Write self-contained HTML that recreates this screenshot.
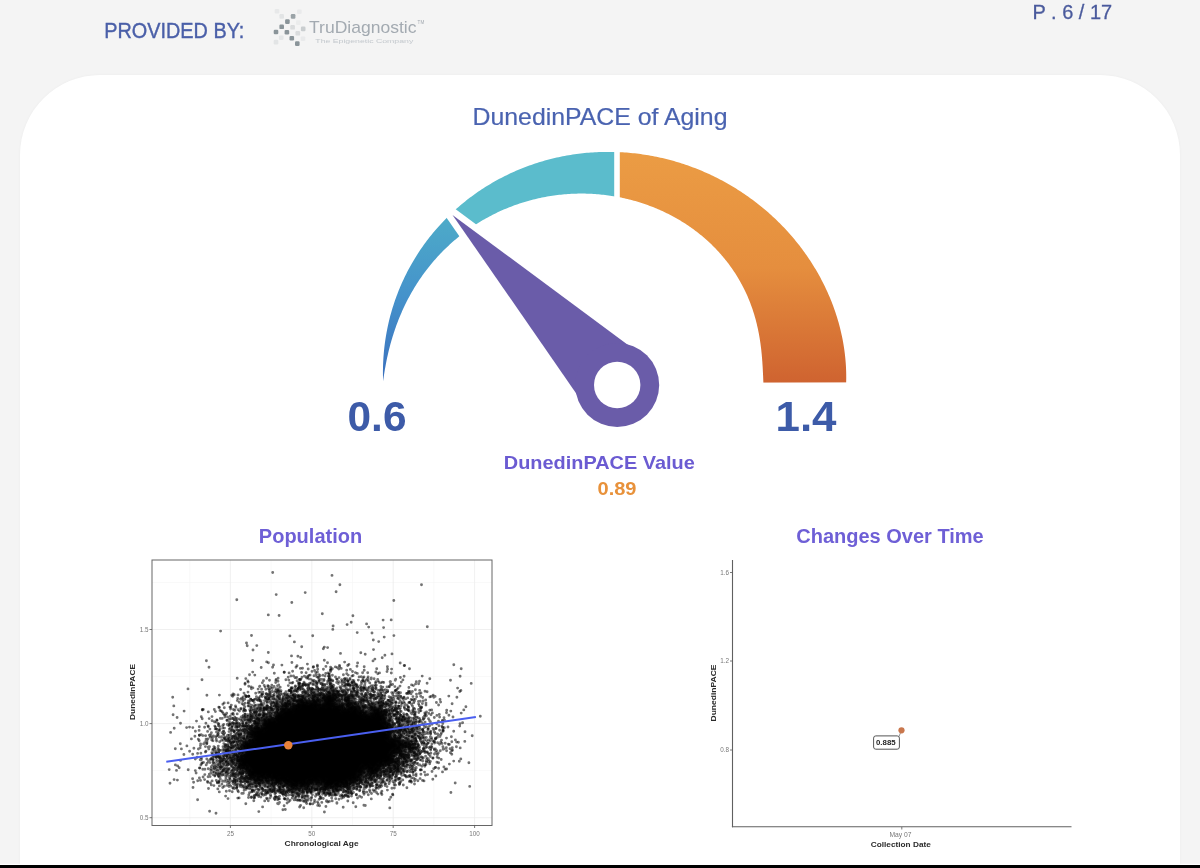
<!DOCTYPE html>
<html><head><meta charset="utf-8"><style>
html,body{margin:0;padding:0;}
body{width:1200px;height:868px;overflow:hidden;background:#f4f4f4;position:relative;font-family:"Liberation Sans",sans-serif;}
.card{position:absolute;left:20px;top:75px;width:1160px;height:900px;background:#fff;border-radius:80px 80px 0 0;box-shadow:0 0 3px rgba(0,0,0,0.04);}
.bar{position:absolute;left:0;top:865px;width:1200px;height:3px;background:#000;box-shadow:0 -1.2px 0 #fff;}
svg{position:absolute;left:0;top:0;filter:blur(0.45px);}
svg text{font-family:"Liberation Sans",sans-serif;}
</style></head><body>
<div class="card"></div>
<svg width="1200" height="868" viewBox="0 0 1200 868">
<defs><filter id="lb" x="-20%" y="-20%" width="140%" height="140%"><feGaussianBlur stdDeviation="0.55"/></filter><filter id="sb" x="-5%" y="-5%" width="110%" height="110%"><feGaussianBlur stdDeviation="0.5"/></filter><filter id="cb" x="-10%" y="-10%" width="120%" height="120%"><feGaussianBlur stdDeviation="2.5"/></filter></defs>
<text x="104.3" y="37.6" font-size="21.3" fill="#4a5fa8" stroke="#4a5fa8" stroke-width="0.4" textLength="140" lengthAdjust="spacingAndGlyphs">PROVIDED BY:</text>
<text x="1032.6" y="18.5" font-size="20.5" fill="#4a5a9c" stroke="#4a5a9c" stroke-width="0.3" textLength="79.5" lengthAdjust="spacingAndGlyphs">P . 6 / 17</text>
<g filter="url(#lb)"><rect x="290.8" y="14.1" width="4.6" height="4.6" rx="1.2" fill="#8a9499" fill-opacity="0.85"/><rect x="285.1" y="19.3" width="4.6" height="4.6" rx="1.2" fill="#8a9499" fill-opacity="1"/><rect x="279.4" y="24.5" width="4.6" height="4.6" rx="1.2" fill="#8a9499" fill-opacity="1"/><rect x="273.7" y="29.7" width="4.6" height="4.6" rx="1.2" fill="#8a9499" fill-opacity="1"/><rect x="284.6" y="29.9" width="4.6" height="4.6" rx="1.2" fill="#8a9499" fill-opacity="1"/><rect x="289.5" y="35.9" width="4.6" height="4.6" rx="1.2" fill="#8a9499" fill-opacity="1"/><rect x="295.0" y="41.3" width="4.6" height="4.6" rx="1.2" fill="#8a9499" fill-opacity="1"/><rect x="300.9" y="26.6" width="4.6" height="4.6" rx="1.2" fill="#8a9499" fill-opacity="0.4"/><rect x="295.5" y="31.0" width="4.6" height="4.6" rx="1.2" fill="#8a9499" fill-opacity="0.25"/><rect x="290.3" y="25.0" width="4.6" height="4.6" rx="1.2" fill="#8a9499" fill-opacity="0.25"/><rect x="279.4" y="14.1" width="4.6" height="4.6" rx="1.2" fill="#8a9499" fill-opacity="0.16"/><rect x="274.7" y="8.9" width="4.6" height="4.6" rx="1.2" fill="#8a9499" fill-opacity="0.12"/><rect x="297.0" y="9.4" width="4.6" height="4.6" rx="1.2" fill="#8a9499" fill-opacity="0.1"/><rect x="278.9" y="35.4" width="4.6" height="4.6" rx="1.2" fill="#8a9499" fill-opacity="0.14"/><rect x="273.7" y="39.8" width="4.6" height="4.6" rx="1.2" fill="#8a9499" fill-opacity="0.16"/><rect x="300.7" y="36.4" width="4.6" height="4.6" rx="1.2" fill="#8a9499" fill-opacity="0.1"/><rect x="296.0" y="20.3" width="4.6" height="4.6" rx="1.2" fill="#8a9499" fill-opacity="0.08"/></g>
<text x="309" y="33.2" font-size="17" fill="#a3aab1" textLength="107.5" lengthAdjust="spacingAndGlyphs">TruDiagnostic</text>
<text x="417.6" y="23.5" font-size="4.6" fill="#a3aab1">TM</text>
<text x="315.3" y="43.3" font-size="6.2" fill="#c3c8cd" textLength="98" lengthAdjust="spacingAndGlyphs">The Epigenetic Company</text>
<text x="472.5" y="124.5" font-size="24" fill="#4a63b0" stroke="#4a63b0" stroke-width="0.2" textLength="255" lengthAdjust="spacingAndGlyphs">DunedinPACE of Aging</text>

<defs>
 <linearGradient id="gB" x1="0" y1="383" x2="0" y2="210" gradientUnits="userSpaceOnUse">
  <stop offset="0" stop-color="#3a6fbd"/><stop offset="0.5" stop-color="#4592cb"/><stop offset="1" stop-color="#4eadc8"/>
 </linearGradient>
 <linearGradient id="gO" x1="0" y1="152" x2="0" y2="383" gradientUnits="userSpaceOnUse">
  <stop offset="0" stop-color="#eb9c44"/><stop offset="0.5" stop-color="#e58e3e"/><stop offset="1" stop-color="#cf6330"/>
 </linearGradient>
 <clipPath id="cO"><rect x="619.8" y="100" width="300" height="282.7"/></clipPath>
 <clipPath id="cT"><rect x="300" y="100" width="314.2" height="300"/></clipPath>
</defs>
<path d="M383.21 383.30 L383.12 381.28 L383.05 379.26 L383.00 377.23 L382.96 375.21 L382.94 373.18 L382.94 371.15 L382.96 369.12 L383.00 367.10 L383.06 365.07 L383.13 363.04 L383.23 361.01 L383.34 358.98 L383.47 356.95 L383.62 354.92 L383.79 352.89 L383.98 350.87 L384.18 348.84 L384.41 346.82 L384.65 344.80 L384.92 342.78 L385.20 340.76 L385.50 338.74 L385.82 336.73 L386.16 334.71 L386.51 332.70 L386.89 330.70 L387.28 328.69 L387.70 326.69 L388.13 324.70 L388.58 322.70 L389.05 320.71 L389.54 318.73 L390.05 316.74 L390.57 314.77 L391.12 312.79 L391.68 310.83 L392.27 308.86 L392.87 306.91 L393.49 304.95 L394.13 303.01 L394.78 301.06 L395.46 299.13 L396.15 297.20 L396.86 295.27 L397.59 293.36 L398.34 291.45 L399.11 289.54 L399.89 287.65 L400.69 285.76 L401.51 283.88 L402.35 282.00 L403.21 280.14 L404.08 278.28 L404.98 276.43 L405.88 274.58 L406.81 272.75 L407.76 270.92 L408.72 269.11 L409.70 267.30 L410.69 265.50 L411.70 263.71 L412.73 261.93 L413.78 260.16 L414.84 258.40 L415.92 256.65 L417.02 254.91 L418.14 253.18 L419.26 251.46 L420.41 249.75 L421.57 248.06 L422.75 246.37 L423.94 244.69 L425.15 243.03 L426.38 241.38 L427.62 239.74 L428.88 238.11 L430.15 236.49 L431.44 234.88 L432.74 233.29 L434.05 231.71 L435.39 230.14 L436.73 228.58 L438.09 227.04 L439.47 225.51 L440.86 223.99 L442.26 222.49 L443.68 221.00 L445.11 219.52 L446.55 218.05 L448.01 216.60 L449.49 215.17 L450.97 213.75 L452.47 212.34 L453.98 210.94 L455.50 209.56 L457.04 208.20 L458.59 206.84 L460.15 205.51 L461.72 204.19 L463.31 202.88 L464.91 201.59 L466.52 200.31 L468.14 199.05 L469.77 197.80 L471.41 196.57 L473.07 195.35 L474.73 194.15 L476.41 192.97 L478.10 191.80 L479.79 190.64 L481.50 189.51 L483.22 188.38 L484.95 187.28 L486.68 186.19 L488.43 185.11 L490.19 184.06 L491.95 183.01 L493.73 181.99 L495.51 180.98 L497.30 179.99 L499.10 179.01 L500.91 178.06 L502.73 177.11 L504.56 176.19 L506.39 175.28 L508.23 174.39 L510.08 173.51 L511.94 172.65 L513.80 171.81 L515.67 170.99 L517.55 170.18 L519.43 169.39 L521.33 168.62 L523.22 167.87 L525.13 167.13 L527.04 166.41 L528.95 165.70 L530.87 165.02 L532.80 164.35 L534.73 163.70 L536.67 163.06 L538.61 162.44 L540.56 161.85 L542.51 161.26 L544.47 160.70 L546.43 160.15 L548.40 159.62 L550.37 159.11 L552.34 158.62 L554.32 158.14 L556.30 157.68 L558.28 157.24 L560.27 156.81 L562.26 156.41 L564.25 156.02 L566.25 155.65 L568.25 155.29 L570.25 154.96 L572.26 154.64 L574.26 154.34 L576.27 154.05 L578.28 153.79 L580.29 153.54 L582.30 153.31 L584.32 153.09 L586.33 152.89 L588.35 152.72 L590.37 152.55 L592.39 152.41 L594.40 152.28 L596.42 152.17 L598.44 152.08 L600.46 152.01 L602.48 151.95 L604.50 151.91 L606.52 151.89 L608.54 151.88 L610.56 151.89 L612.58 151.92 L614.60 151.97 L616.61 152.03 L618.63 152.11 L620.64 152.21 L622.65 152.32 L624.66 152.45 L626.67 152.60 L628.68 152.77 L630.69 152.95 L632.69 153.15 L634.69 153.36 L636.69 153.59 L638.69 153.84 L640.68 154.11 L642.67 154.39 L644.66 154.69 L646.64 155.00 L648.62 155.33 L650.60 155.68 L652.58 156.05 L654.55 156.43 L656.52 156.83 L658.48 157.24 L660.44 157.67 L662.40 158.11 L664.35 158.58 L666.30 159.05 L668.24 159.55 L670.18 160.06 L672.12 160.58 L674.05 161.12 L675.97 161.68 L677.89 162.26 L679.81 162.84 L681.72 163.45 L683.62 164.07 L685.52 164.70 L687.41 165.36 L689.30 166.02 L691.18 166.70 L693.06 167.40 L694.93 168.11 L696.79 168.84 L698.65 169.59 L700.50 170.34 L702.35 171.12 L704.19 171.90 L706.02 172.71 L707.84 173.53 L709.66 174.36 L711.47 175.21 L713.28 176.07 L715.07 176.95 L716.86 177.84 L718.64 178.74 L720.42 179.66 L722.18 180.60 L723.94 181.55 L725.69 182.51 L727.44 183.49 L729.17 184.48 L730.90 185.49 L732.62 186.51 L734.33 187.54 L736.03 188.59 L737.72 189.65 L739.41 190.73 L741.08 191.81 L742.75 192.92 L744.41 194.03 L746.06 195.16 L747.69 196.31 L749.32 197.46 L750.95 198.64 L752.56 199.82 L754.16 201.02 L755.75 202.23 L757.33 203.45 L758.90 204.68 L760.46 205.93 L762.01 207.20 L763.56 208.47 L765.09 209.76 L766.61 211.06 L768.11 212.37 L769.61 213.70 L771.10 215.03 L772.58 216.38 L774.04 217.75 L775.50 219.12 L776.94 220.51 L778.37 221.91 L779.79 223.32 L781.20 224.74 L782.60 226.18 L783.99 227.62 L785.36 229.08 L786.72 230.55 L788.07 232.03 L789.41 233.53 L790.73 235.03 L792.04 236.55 L793.34 238.07 L794.63 239.61 L795.90 241.16 L797.16 242.72 L798.41 244.29 L799.65 245.87 L800.87 247.46 L802.08 249.07 L803.27 250.68 L804.45 252.31 L805.62 253.94 L806.77 255.58 L807.91 257.24 L809.04 258.90 L810.15 260.58 L811.24 262.26 L812.32 263.96 L813.39 265.66 L814.44 267.38 L815.48 269.10 L816.51 270.83 L817.51 272.57 L818.51 274.32 L819.48 276.08 L820.45 277.85 L821.39 279.63 L822.32 281.41 L823.24 283.21 L824.14 285.01 L825.02 286.82 L825.89 288.64 L826.74 290.47 L827.57 292.30 L828.39 294.15 L829.19 296.00 L829.98 297.85 L830.74 299.72 L831.49 301.59 L832.23 303.47 L832.94 305.36 L833.64 307.25 L834.32 309.15 L834.99 311.06 L835.63 312.97 L836.26 314.89 L836.87 316.81 L837.46 318.74 L838.04 320.68 L838.59 322.62 L839.13 324.57 L839.65 326.52 L840.15 328.48 L840.63 330.44 L841.09 332.41 L841.53 334.38 L841.96 336.35 L842.36 338.33 L842.75 340.31 L843.11 342.30 L843.46 344.29 L843.78 346.29 L844.09 348.28 L844.38 350.28 L844.64 352.29 L844.89 354.29 L845.11 356.30 L845.32 358.31 L845.50 360.32 L845.67 362.33 L845.81 364.34 L845.94 366.36 L846.04 368.38 L846.12 370.39 L846.18 372.41 L846.22 374.43 L846.23 376.44 L846.23 378.46 L846.20 380.48 L846.16 382.49 L763.39 382.78 L763.33 381.49 L763.28 380.20 L763.23 378.91 L763.17 377.61 L763.12 376.32 L763.06 375.03 L763.00 373.74 L762.94 372.45 L762.87 371.16 L762.81 369.86 L762.74 368.57 L762.67 367.28 L762.59 365.98 L762.51 364.69 L762.43 363.39 L762.34 362.09 L762.24 360.79 L762.15 359.49 L762.04 358.19 L761.93 356.89 L761.82 355.59 L761.70 354.29 L761.57 352.98 L761.44 351.67 L761.30 350.37 L761.15 349.06 L761.00 347.75 L760.83 346.44 L760.67 345.13 L760.49 343.82 L760.30 342.50 L760.11 341.19 L759.91 339.88 L759.70 338.56 L759.48 337.24 L759.26 335.93 L759.02 334.61 L758.78 333.29 L758.52 331.97 L758.26 330.65 L757.98 329.34 L757.70 328.02 L757.41 326.70 L757.10 325.38 L756.79 324.06 L756.46 322.74 L756.13 321.43 L755.78 320.11 L755.43 318.79 L755.06 317.48 L754.68 316.16 L754.29 314.85 L753.89 313.53 L753.48 312.22 L753.06 310.91 L752.63 309.60 L752.18 308.29 L751.72 306.99 L751.26 305.68 L750.78 304.38 L750.28 303.08 L749.78 301.78 L749.27 300.49 L748.74 299.20 L748.20 297.91 L747.65 296.62 L747.09 295.33 L746.51 294.05 L745.92 292.77 L745.33 291.50 L744.72 290.23 L744.09 288.96 L743.46 287.69 L742.81 286.43 L742.15 285.17 L741.48 283.92 L740.80 282.67 L740.10 281.43 L739.39 280.19 L738.67 278.95 L737.94 277.72 L737.20 276.50 L736.44 275.27 L735.67 274.06 L734.89 272.85 L734.10 271.64 L733.30 270.44 L732.48 269.25 L731.66 268.06 L730.82 266.88 L729.97 265.70 L729.10 264.53 L728.23 263.36 L727.34 262.20 L726.44 261.05 L725.53 259.91 L724.61 258.77 L723.68 257.64 L722.74 256.51 L721.78 255.39 L720.81 254.28 L719.83 253.18 L718.84 252.08 L717.84 250.99 L716.83 249.91 L715.81 248.83 L714.78 247.77 L713.73 246.71 L712.68 245.66 L711.61 244.61 L710.53 243.58 L709.44 242.55 L708.35 241.53 L707.24 240.52 L706.12 239.52 L704.99 238.53 L703.85 237.54 L702.70 236.57 L701.54 235.60 L700.37 234.64 L699.19 233.69 L698.00 232.75 L696.80 231.82 L695.59 230.90 L694.37 229.99 L693.14 229.09 L691.90 228.19 L690.65 227.31 L689.39 226.43 L688.12 225.57 L686.85 224.72 L685.56 223.87 L684.27 223.04 L682.96 222.21 L681.65 221.40 L680.33 220.59 L679.00 219.80 L677.66 219.02 L676.31 218.24 L674.95 217.48 L673.59 216.73 L672.22 215.99 L670.83 215.25 L669.44 214.53 L668.05 213.83 L666.64 213.13 L665.23 212.44 L663.81 211.76 L662.38 211.10 L660.94 210.44 L659.49 209.80 L658.04 209.17 L656.58 208.55 L655.12 207.94 L653.64 207.35 L652.16 206.76 L650.67 206.19 L649.18 205.63 L647.67 205.08 L646.16 204.54 L644.65 204.01 L643.12 203.50 L641.59 203.00 L640.06 202.51 L638.52 202.03 L636.97 201.56 L635.41 201.11 L633.85 200.67 L632.28 200.24 L630.71 199.83 L629.13 199.43 L627.55 199.04 L625.96 198.66 L624.36 198.30 L622.76 197.94 L621.15 197.61 L619.54 197.28 L617.92 196.97 L616.30 196.67 L614.67 196.39 L613.04 196.11 L611.40 195.86 L609.76 195.61 L608.12 195.38 L606.47 195.16 L604.81 194.96 L603.15 194.77 L601.49 194.59 L599.82 194.43 L598.15 194.28 L596.47 194.15 L594.79 194.03 L593.11 193.92 L591.43 193.83 L589.74 193.75 L588.04 193.69 L586.35 193.64 L584.65 193.60 L582.95 193.58 L581.24 193.58 L579.54 193.59 L577.83 193.61 L576.12 193.65 L574.40 193.71 L572.69 193.78 L570.97 193.86 L569.25 193.96 L567.53 194.08 L565.80 194.21 L564.08 194.35 L562.35 194.51 L560.62 194.69 L558.90 194.88 L557.17 195.09 L555.44 195.31 L553.71 195.55 L551.98 195.81 L550.24 196.08 L548.51 196.36 L546.78 196.66 L545.05 196.98 L543.32 197.31 L541.59 197.66 L539.86 198.03 L538.13 198.41 L536.41 198.81 L534.68 199.22 L532.95 199.66 L531.23 200.10 L529.51 200.57 L527.79 201.04 L526.07 201.54 L524.35 202.05 L522.64 202.58 L520.93 203.13 L519.22 203.69 L517.52 204.27 L515.81 204.86 L514.11 205.47 L512.42 206.10 L510.73 206.75 L509.04 207.41 L507.35 208.08 L505.67 208.78 L504.00 209.49 L502.33 210.22 L500.66 210.96 L499.00 211.72 L497.34 212.50 L495.69 213.29 L494.04 214.10 L492.40 214.93 L490.77 215.78 L489.14 216.64 L487.52 217.51 L485.90 218.41 L484.29 219.32 L482.69 220.24 L481.10 221.19 L479.51 222.15 L477.93 223.12 L476.36 224.11 L474.79 225.12 L473.23 226.15 L471.69 227.19 L470.15 228.25 L468.61 229.32 L467.09 230.41 L465.58 231.51 L464.07 232.63 L462.58 233.77 L461.09 234.92 L459.61 236.09 L458.15 237.28 L456.69 238.48 L455.24 239.69 L453.81 240.92 L452.38 242.17 L450.97 243.43 L449.57 244.70 L448.17 245.99 L446.79 247.30 L445.42 248.62 L444.07 249.95 L442.72 251.30 L441.39 252.67 L440.07 254.05 L438.76 255.44 L437.46 256.85 L436.18 258.27 L434.90 259.70 L433.65 261.15 L432.40 262.61 L431.17 264.09 L429.95 265.58 L428.75 267.08 L427.56 268.59 L426.38 270.12 L425.22 271.66 L424.07 273.21 L422.93 274.78 L421.81 276.36 L420.70 277.94 L419.61 279.55 L418.54 281.16 L417.47 282.79 L416.43 284.42 L415.39 286.07 L414.38 287.73 L413.37 289.40 L412.39 291.08 L411.41 292.77 L410.46 294.47 L409.52 296.19 L408.59 297.91 L407.68 299.64 L406.78 301.38 L405.91 303.13 L405.04 304.90 L404.19 306.67 L403.36 308.45 L402.55 310.23 L401.75 312.03 L400.96 313.84 L400.19 315.65 L399.44 317.47 L398.70 319.30 L397.98 321.14 L397.27 322.99 L396.59 324.84 L395.91 326.71 L395.25 328.57 L394.61 330.45 L393.98 332.33 L393.37 334.22 L392.77 336.12 L392.19 338.02 L391.63 339.93 L391.08 341.85 L390.54 343.77 L390.02 345.69 L389.52 347.63 L389.03 349.57 L388.55 351.51 L388.09 353.46 L387.65 355.42 L387.22 357.38 L386.80 359.34 L386.40 361.31 L386.01 363.29 L385.64 365.27 L385.28 367.25 L384.93 369.24 L384.60 371.24 L384.28 373.24 L383.97 375.24 L383.68 377.25 L383.40 379.26 L383.13 381.28 L383.21 383.30 Z" fill="url(#gO)" clip-path="url(#cO)"/>
<g clip-path="url(#cT)">
 <path d="M451.19 213.54 L452.69 212.13 L454.20 210.74 L455.73 209.36 L457.27 208.00 L458.82 206.64 L460.39 205.31 L461.96 203.99 L463.55 202.68 L465.15 201.39 L466.76 200.12 L468.39 198.86 L470.02 197.61 L471.67 196.38 L473.33 195.16 L474.99 193.97 L476.67 192.78 L478.36 191.61 L480.06 190.46 L481.77 189.33 L483.49 188.21 L485.22 187.10 L486.96 186.01 L488.71 184.94 L490.47 183.89 L492.24 182.85 L494.02 181.82 L495.81 180.82 L497.60 179.83 L499.40 178.85 L501.22 177.90 L503.04 176.96 L504.86 176.03 L506.70 175.13 L508.55 174.24 L510.40 173.37 L512.26 172.51 L514.12 171.67 L516.00 170.85 L517.88 170.05 L519.76 169.26 L521.66 168.49 L523.56 167.73 L525.46 167.00 L527.37 166.28 L529.29 165.58 L531.22 164.90 L533.15 164.23 L535.08 163.58 L537.02 162.95 L538.97 162.33 L540.92 161.74 L542.87 161.16 L544.83 160.60 L546.79 160.05 L548.76 159.53 L550.73 159.02 L552.71 158.53 L554.69 158.05 L556.67 157.60 L558.66 157.16 L560.65 156.74 L562.64 156.33 L564.63 155.95 L566.63 155.58 L568.63 155.23 L570.64 154.89 L572.64 154.58 L574.65 154.28 L576.66 154.00 L578.67 153.74 L580.68 153.49 L582.70 153.26 L584.72 153.05 L586.73 152.86 L588.75 152.68 L590.77 152.52 L592.79 152.38 L594.81 152.26 L596.83 152.15 L598.85 152.07 L600.87 151.99 L602.90 151.94 L604.92 151.90 L606.94 151.88 L608.96 151.88 L610.98 151.90 L613.00 151.93 L615.02 151.98 L617.03 152.05 L619.05 152.13 L621.06 152.23 L623.08 152.35 L625.09 152.48 L627.10 152.63 L629.11 152.80 L631.11 152.99 L633.12 153.19 L635.12 153.41 L637.12 153.65 L639.12 153.90 L641.11 154.17 L643.10 154.45 L645.09 154.76 L647.08 155.07 L649.06 155.41 L651.04 155.76 L653.02 156.13 L654.99 156.51 L646.50 204.66 L644.98 204.13 L643.46 203.61 L641.93 203.11 L640.40 202.61 L638.85 202.13 L637.31 201.66 L635.75 201.21 L634.19 200.77 L632.62 200.34 L631.05 199.92 L629.47 199.51 L627.89 199.12 L626.30 198.74 L624.70 198.37 L623.10 198.02 L621.49 197.68 L619.88 197.35 L618.26 197.03 L616.64 196.73 L615.01 196.44 L613.38 196.17 L611.74 195.91 L610.10 195.66 L608.45 195.43 L606.80 195.21 L605.15 195.00 L603.49 194.80 L601.83 194.63 L600.16 194.46 L598.49 194.31 L596.81 194.17 L595.13 194.05 L593.45 193.94 L591.76 193.84 L590.07 193.76 L588.38 193.70 L586.68 193.65 L584.98 193.61 L583.28 193.59 L581.57 193.58 L579.87 193.59 L578.16 193.61 L576.44 193.65 L574.73 193.70 L573.01 193.76 L571.29 193.85 L569.57 193.94 L567.85 194.05 L566.13 194.18 L564.40 194.32 L562.67 194.48 L560.94 194.66 L559.21 194.85 L557.48 195.05 L555.75 195.27 L554.02 195.51 L552.29 195.76 L550.56 196.03 L548.83 196.31 L547.09 196.61 L545.36 196.92 L543.63 197.25 L541.90 197.60 L540.17 197.96 L538.44 198.34 L536.71 198.74 L534.98 199.15 L533.25 199.58 L531.53 200.02 L529.81 200.48 L528.08 200.96 L526.36 201.45 L524.65 201.96 L522.93 202.49 L521.22 203.03 L519.51 203.59 L517.80 204.17 L516.10 204.76 L514.40 205.37 L512.70 206.00 L511.00 206.64 L509.31 207.30 L507.63 207.97 L505.95 208.66 L504.27 209.37 L502.60 210.10 L500.93 210.84 L499.26 211.60 L497.60 212.37 L495.95 213.17 L494.30 213.98 L492.66 214.80 L491.02 215.64 L489.39 216.50 L487.77 217.38 L486.15 218.27 L484.54 219.18 L482.94 220.10 L481.34 221.04 L479.75 222.00 L478.17 222.97 L476.59 223.97 L475.02 224.97 L473.46 225.99 L471.91 227.03 L470.37 228.09 L468.84 229.16 L467.31 230.25 Z" fill="#5bbccc"/>
 <path d="M383.21 383.30 L383.12 381.30 L383.05 379.29 L383.00 377.29 L382.96 375.28 L382.94 373.27 L382.94 371.26 L382.96 369.25 L383.00 367.24 L383.05 365.23 L383.13 363.22 L383.22 361.21 L383.33 359.20 L383.45 357.19 L383.60 355.18 L383.77 353.17 L383.95 351.16 L384.15 349.15 L384.37 347.15 L384.61 345.14 L384.87 343.14 L385.14 341.14 L385.44 339.14 L385.75 337.14 L386.08 335.15 L386.43 333.15 L386.80 331.16 L387.19 329.18 L387.59 327.20 L388.02 325.21 L388.46 323.24 L388.92 321.27 L389.40 319.30 L389.90 317.33 L390.41 315.37 L390.95 313.41 L391.50 311.46 L392.07 309.51 L392.66 307.57 L393.27 305.64 L393.89 303.70 L394.54 301.78 L395.20 299.86 L395.88 297.94 L396.58 296.03 L397.30 294.13 L398.03 292.24 L398.78 290.35 L399.55 288.46 L400.34 286.59 L401.14 284.72 L401.97 282.86 L402.81 281.01 L403.67 279.16 L404.54 277.32 L405.43 275.49 L406.34 273.67 L407.27 271.86 L408.21 270.05 L409.18 268.26 L410.15 266.47 L411.15 264.69 L412.16 262.92 L413.19 261.16 L414.23 259.41 L415.29 257.67 L416.37 255.94 L417.46 254.22 L418.57 252.51 L419.70 250.81 L420.84 249.12 L422.00 247.44 L423.17 245.78 L424.36 244.12 L425.56 242.47 L426.78 240.84 L428.02 239.22 L429.27 237.60 L430.53 236.01 L431.81 234.42 L433.11 232.84 L434.42 231.28 L435.74 229.73 L437.08 228.19 L438.43 226.66 L439.80 225.15 L441.18 223.65 L442.57 222.16 L443.98 220.68 L445.40 219.22 L446.83 217.77 L448.28 216.34 L449.74 214.92 L451.22 213.51 L467.34 230.23 L465.84 231.32 L464.35 232.43 L462.86 233.55 L461.39 234.69 L459.92 235.85 L458.47 237.02 L457.02 238.20 L455.59 239.40 L454.16 240.62 L452.75 241.85 L451.34 243.09 L449.95 244.35 L448.56 245.63 L447.19 246.92 L445.83 248.22 L444.48 249.54 L443.15 250.87 L441.82 252.22 L440.51 253.58 L439.21 254.96 L437.92 256.35 L436.64 257.75 L435.38 259.17 L434.12 260.60 L432.89 262.04 L431.66 263.50 L430.45 264.97 L429.25 266.45 L428.06 267.95 L426.89 269.45 L425.73 270.97 L424.58 272.51 L423.45 274.05 L422.34 275.61 L421.23 277.18 L420.14 278.76 L419.07 280.36 L418.01 281.96 L416.96 283.58 L415.93 285.20 L414.92 286.84 L413.91 288.49 L412.93 290.15 L411.96 291.82 L411.00 293.50 L410.06 295.19 L409.13 296.90 L408.22 298.61 L407.32 300.33 L406.44 302.06 L405.58 303.80 L404.73 305.55 L403.89 307.30 L403.08 309.07 L402.27 310.85 L401.48 312.63 L400.71 314.42 L399.95 316.22 L399.21 318.03 L398.49 319.85 L397.78 321.67 L397.08 323.51 L396.40 325.34 L395.74 327.19 L395.09 329.04 L394.46 330.91 L393.84 332.77 L393.24 334.65 L392.65 336.53 L392.08 338.41 L391.52 340.31 L390.98 342.21 L390.45 344.11 L389.94 346.02 L389.44 347.94 L388.96 349.86 L388.49 351.79 L388.03 353.72 L387.59 355.66 L387.17 357.61 L386.76 359.55 L386.36 361.51 L385.98 363.47 L385.61 365.43 L385.25 367.40 L384.91 369.37 L384.58 371.35 L384.26 373.33 L383.96 375.31 L383.67 377.30 L383.39 379.30 L383.12 381.30 L383.21 383.30 Z" fill="url(#gB)"/>
</g>
<path d="M424.68 186.17 L716.41 402.60 L631.59 484.73 Z" fill="#fff"/>
<path d="M452.50 214.90 L645.22 357.87 L589.18 412.13 Z" fill="#6a5ca9"/>
<circle cx="617.2" cy="385.0" r="42" fill="#6a5ca9"/>
<circle cx="617.2" cy="385.0" r="23.2" fill="#fff"/>

<text x="347.5" y="431" font-size="42.5" font-weight="bold" fill="#3d5ba8" textLength="59" lengthAdjust="spacingAndGlyphs">0.6</text>
<text x="775.5" y="430.5" font-size="42" font-weight="bold" fill="#3d5ba8" textLength="61" lengthAdjust="spacingAndGlyphs">1.4</text>
<text x="503.8" y="469.2" font-size="19" font-weight="bold" fill="#6b5bd2" textLength="191" lengthAdjust="spacingAndGlyphs">DunedinPACE Value</text>
<text x="597.5" y="494.8" font-size="18.5" font-weight="bold" fill="#e8913a" textLength="39" lengthAdjust="spacingAndGlyphs">0.89</text>
<text x="310.5" y="543" font-size="20" font-weight="bold" fill="#6e5fd6" text-anchor="middle">Population</text>
<text x="890" y="542.5" font-size="20" font-weight="bold" fill="#6e5fd6" text-anchor="middle">Changes Over Time</text>

<g>
 <rect x="152" y="560" width="340" height="265.5" fill="#fff"/>
 <g stroke="#f5f5f5" stroke-width="0.6">
  <line x1="189.7" y1="560" x2="189.7" y2="825.5"/><line x1="271.1" y1="560" x2="271.1" y2="825.5"/><line x1="352.5" y1="560" x2="352.5" y2="825.5"/><line x1="433.9" y1="560" x2="433.9" y2="825.5"/>
  <line x1="152" y1="770.6" x2="492" y2="770.6"/><line x1="152" y1="676.5" x2="492" y2="676.5"/><line x1="152" y1="582.5" x2="492" y2="582.5"/>
 </g>
 <g stroke="#ececec" stroke-width="0.8">
  <line x1="230.4" y1="560" x2="230.4" y2="825.5"/><line x1="311.8" y1="560" x2="311.8" y2="825.5"/><line x1="393.2" y1="560" x2="393.2" y2="825.5"/><line x1="474.6" y1="560" x2="474.6" y2="825.5"/>
  <line x1="152" y1="817.7" x2="492" y2="817.7"/><line x1="152" y1="723.6" x2="492" y2="723.6"/><line x1="152" y1="629.5" x2="492" y2="629.5"/>
 </g>
 <g filter="url(#sb)">
 <path d="M336.0 790.5 L335.0 790.5 L332.0 787.5 L328.0 787.5 L325.0 789.5 L322.0 789.5 L320.0 788.5 L320.0 787.5 L321.0 787.5 L323.5 785.0 L323.0 782.5 L322.0 782.5 L318.0 785.5 L315.0 783.5 L311.0 783.5 L309.0 784.5 L308.5 788.0 L311.5 789.0 L310.0 790.5 L307.0 790.5 L304.0 786.5 L300.0 787.5 L299.0 789.5 L298.0 788.5 L294.0 788.5 L292.0 790.5 L291.0 790.5 L288.5 789.0 L290.5 788.0 L290.5 787.0 L289.0 785.5 L284.0 784.5 L283.5 784.0 L284.5 783.0 L283.0 781.5 L281.5 782.0 L281.0 784.5 L279.0 783.5 L274.0 783.5 L273.0 784.5 L271.0 784.5 L270.5 783.0 L272.0 781.5 L274.0 781.5 L274.0 779.5 L271.0 780.5 L270.5 779.0 L269.0 778.5 L268.5 782.0 L267.0 782.5 L264.5 780.0 L264.5 779.0 L263.0 778.5 L262.5 781.0 L259.0 783.5 L256.0 782.5 L253.0 778.5 L248.0 778.5 L247.0 779.5 L245.0 779.5 L243.5 778.0 L247.0 776.5 L248.5 775.0 L248.5 774.0 L244.0 768.5 L242.0 768.5 L241.0 769.5 L237.5 767.0 L238.5 765.0 L238.5 762.0 L236.5 760.0 L236.5 757.0 L234.5 755.0 L237.0 754.5 L238.0 756.5 L239.0 756.5 L241.0 753.5 L244.0 753.5 L245.5 752.0 L244.0 750.5 L242.0 750.5 L239.5 748.0 L239.5 747.0 L242.5 744.0 L244.0 740.5 L246.0 740.5 L247.0 741.5 L249.0 739.5 L251.0 739.5 L252.5 738.0 L252.0 736.5 L247.5 736.0 L247.5 733.0 L249.5 731.0 L248.5 727.0 L251.0 726.5 L251.5 728.0 L253.0 729.5 L253.5 729.0 L253.5 728.0 L255.5 726.0 L254.5 722.0 L257.5 721.0 L256.5 719.0 L257.0 717.5 L259.5 719.0 L258.5 723.0 L257.5 724.0 L257.5 726.0 L259.0 727.5 L261.0 727.5 L262.5 726.0 L262.5 723.0 L263.5 722.0 L262.5 720.0 L265.0 717.5 L267.0 718.5 L269.0 717.5 L272.0 717.5 L273.0 718.5 L275.5 716.0 L275.5 712.0 L277.0 711.5 L279.0 712.5 L280.5 711.0 L280.5 708.0 L283.5 707.0 L281.5 705.0 L283.0 703.5 L286.0 702.5 L288.0 700.5 L290.5 703.0 L290.5 704.0 L288.0 704.5 L286.5 708.0 L290.0 708.5 L291.5 707.0 L291.5 705.0 L293.0 703.5 L294.0 704.5 L296.0 704.5 L297.5 703.0 L296.5 701.0 L302.0 696.5 L303.5 697.0 L304.0 701.5 L305.0 700.5 L311.0 701.5 L312.5 700.0 L312.5 695.0 L315.0 694.5 L315.5 696.0 L313.5 698.0 L315.0 699.5 L317.0 697.5 L319.0 698.5 L319.5 701.0 L317.5 703.0 L320.0 703.5 L321.0 704.5 L323.5 703.0 L323.5 700.0 L321.5 699.0 L322.0 694.5 L326.0 695.5 L328.0 692.5 L329.0 692.5 L330.0 694.5 L331.0 694.5 L333.0 692.5 L335.0 693.5 L337.0 692.5 L339.5 695.0 L336.5 697.0 L336.5 699.0 L334.5 701.0 L334.5 703.0 L336.0 704.5 L342.0 703.5 L343.5 705.0 L343.5 707.0 L345.0 708.5 L347.0 708.5 L347.5 707.0 L345.5 704.0 L346.5 702.0 L344.5 700.0 L344.5 697.0 L346.0 695.5 L349.0 695.5 L349.5 698.0 L348.5 700.0 L352.5 703.0 L351.5 704.0 L352.0 704.5 L353.0 705.5 L355.0 705.5 L355.5 705.0 L353.5 703.0 L355.0 702.5 L361.0 709.5 L362.0 709.5 L367.0 713.5 L370.0 713.5 L372.5 712.0 L372.5 711.0 L369.5 708.0 L370.0 704.5 L371.0 704.5 L376.0 708.5 L378.0 708.5 L379.5 707.0 L379.5 703.0 L382.0 702.5 L382.5 704.0 L380.5 707.0 L380.5 710.0 L386.5 711.0 L386.5 714.0 L384.5 716.0 L384.5 718.0 L387.0 721.5 L388.0 720.5 L388.5 721.0 L388.5 723.0 L390.5 725.0 L393.5 731.0 L389.5 734.0 L389.5 736.0 L392.0 738.5 L394.0 736.5 L397.0 737.5 L400.0 734.5 L400.5 736.0 L399.5 737.0 L399.5 740.0 L401.0 741.5 L408.0 741.5 L411.0 743.5 L413.0 743.5 L413.5 746.0 L415.0 746.5 L415.5 748.0 L413.0 748.5 L411.0 751.5 L409.5 751.0 L408.5 748.0 L407.0 746.5 L401.5 748.0 L401.5 752.0 L403.0 753.5 L407.5 755.0 L407.5 757.0 L405.5 759.0 L405.0 761.5 L403.5 761.0 L404.5 760.0 L403.0 757.5 L399.5 756.0 L399.0 752.5 L396.0 752.5 L393.5 755.0 L392.5 758.0 L394.0 759.5 L396.0 759.5 L397.0 758.5 L398.5 759.0 L398.5 763.0 L397.5 764.0 L397.5 766.0 L398.5 767.0 L398.0 770.5 L396.0 770.5 L393.5 768.0 L393.5 766.0 L395.5 764.0 L394.0 762.5 L392.0 762.5 L389.5 765.0 L389.5 767.0 L391.5 769.0 L391.0 771.5 L388.5 771.0 L388.5 766.0 L387.0 764.5 L386.0 764.5 L383.0 766.5 L381.0 766.5 L380.5 770.0 L378.0 770.5 L376.5 772.0 L376.5 773.0 L378.5 775.0 L378.0 775.5 L376.0 774.5 L373.0 774.5 L372.0 773.5 L371.5 778.0 L369.0 778.5 L368.5 776.0 L367.5 775.0 L367.5 770.0 L366.0 768.5 L365.0 768.5 L363.5 770.0 L364.5 772.0 L360.5 776.0 L361.5 780.0 L360.0 781.5 L357.0 780.5 L355.0 782.5 L350.0 783.5 L348.0 788.5 L346.0 786.5 L338.0 786.5 L337.5 789.0 L336.0 790.5Z" fill="#000" filter="url(#cb)"/>
 <path d="M251.6 797.0h0M458.4 742.2h0M263.1 693.7h0M423.2 717.5h0M438.9 725.8h0M392.6 706.7h0M374.0 717.9h0M289.1 789.8h0M445.2 743.3h0M173.1 714.7h0M443.2 731.2h0M241.3 733.8h0M177.4 780.1h0M429.8 678.7h0M200.5 745.4h0M201.2 734.7h0M406.4 762.0h0M204.7 742.6h0M408.7 693.6h0M224.9 759.5h0M279.0 787.6h0M407.5 754.3h0M429.9 696.9h0M202.4 710.1h0M192.7 754.2h0M405.0 741.8h0M248.8 728.4h0M461.2 668.8h0M446.6 769.0h0M284.3 672.2h0M391.0 718.5h0M288.8 680.1h0M349.0 786.2h0M429.6 720.7h0M246.2 723.6h0M219.3 791.9h0M421.6 707.6h0M206.9 695.3h0M385.1 769.9h0M174.1 779.6h0M197.6 799.8h0M460.1 676.2h0M175.4 764.9h0M405.2 729.8h0M453.7 731.2h0M450.8 711.1h0M181.4 748.9h0M460.8 758.9h0M170.0 783.2h0M243.2 729.6h0M382.5 721.8h0M236.9 720.3h0M176.5 770.4h0M365.4 717.9h0M468.9 762.7h0M306.1 692.7h0M450.1 748.7h0M426.0 703.1h0M199.5 767.9h0M308.7 788.5h0M320.4 781.9h0M389.1 716.7h0M338.2 711.0h0M409.1 754.9h0M389.9 725.3h0M435.4 748.9h0M419.0 751.2h0M240.6 757.9h0M270.1 711.9h0M297.1 793.4h0M319.9 781.9h0M233.4 756.5h0M361.3 767.5h0M227.2 751.2h0M328.4 676.1h0M241.2 772.8h0M268.4 719.9h0M426.5 762.2h0M276.1 699.9h0M349.0 792.4h0M272.7 776.4h0M333.3 690.8h0M428.6 739.9h0M400.4 708.1h0M398.0 723.7h0M308.2 781.3h0M405.9 743.8h0M258.4 795.7h0M240.8 708.5h0M311.8 690.2h0M303.4 705.3h0M263.8 721.6h0M435.3 739.0h0M353.5 782.2h0M426.5 752.2h0M256.4 715.8h0M249.9 741.7h0M383.4 690.1h0M265.4 725.2h0M381.5 783.6h0M236.1 778.2h0M248.1 740.6h0M346.8 712.6h0M245.8 803.7h0M240.7 774.6h0M356.0 685.5h0M377.1 697.7h0M366.8 781.2h0M289.5 713.0h0M329.6 783.6h0M343.6 783.9h0M249.6 739.2h0M275.8 720.1h0M348.7 704.2h0M266.7 661.9h0M377.5 710.4h0M401.9 755.4h0M258.3 714.8h0M373.5 702.0h0M351.3 708.6h0M359.0 778.9h0M274.2 701.8h0M289.7 690.2h0M264.6 777.0h0M310.7 694.6h0M302.7 800.8h0M270.2 780.5h0M275.6 690.8h0M241.1 771.4h0M352.7 706.9h0M408.5 770.8h0M297.3 691.9h0M407.2 732.5h0M284.7 785.6h0M249.5 733.6h0M274.3 706.6h0M241.8 749.0h0M305.6 789.1h0M282.9 714.6h0M409.1 732.5h0M249.9 780.0h0M307.1 704.3h0M383.6 764.4h0M399.7 745.0h0M404.3 708.0h0M360.3 772.0h0M244.0 745.6h0M341.2 709.7h0M340.6 704.2h0M216.5 732.1h0M416.7 696.7h0M227.2 750.9h0M242.2 744.7h0M253.4 784.4h0M264.6 722.5h0M343.4 789.5h0M350.2 685.4h0M368.7 627.1h0M401.1 729.5h0M248.0 692.1h0M299.9 684.0h0M392.9 744.5h0M372.8 774.9h0M279.8 696.9h0M316.0 779.5h0M352.9 687.8h0M248.1 732.6h0M277.7 707.2h0M347.1 712.0h0M298.6 704.8h0M242.3 770.6h0M358.4 693.2h0M379.7 716.6h0M277.6 799.8h0M400.8 715.2h0M332.6 786.0h0M242.9 724.0h0M253.9 778.3h0M393.6 736.1h0M295.1 792.8h0M401.1 730.9h0M268.5 710.9h0M366.5 775.1h0M439.6 730.2h0M388.5 722.2h0M386.2 770.3h0M270.1 715.8h0M256.3 783.3h0M311.9 783.4h0M333.3 698.0h0M390.9 758.2h0M291.9 662.5h0M241.2 762.0h0M363.3 771.2h0M247.5 749.5h0M365.8 717.6h0M240.3 786.4h0M370.8 768.8h0M391.9 764.8h0M292.4 783.4h0M319.0 705.4h0M407.1 760.4h0M227.2 758.9h0M252.7 736.8h0M314.1 780.8h0M332.6 699.0h0M307.7 677.6h0M361.9 774.1h0M331.2 782.7h0M383.6 768.1h0M324.0 792.7h0M360.4 771.9h0M425.6 713.8h0M336.9 803.2h0M248.9 705.7h0M385.0 785.6h0M412.4 733.5h0M279.3 780.2h0M371.1 717.0h0M333.4 792.2h0M228.0 798.6h0M256.8 698.4h0M267.7 720.8h0M408.0 734.4h0M278.1 708.5h0M367.3 764.9h0M380.3 762.5h0M358.8 776.9h0M321.0 782.0h0M239.7 759.7h0M342.3 787.9h0M237.6 760.5h0M360.9 688.3h0M407.0 743.5h0M258.6 731.8h0M320.4 689.5h0M383.2 699.3h0M335.4 699.6h0M241.4 765.2h0M356.5 706.2h0M430.1 747.0h0M269.1 774.9h0M362.6 775.0h0M362.8 778.3h0M390.1 738.7h0M374.7 711.7h0M330.6 697.9h0M438.6 705.0h0M398.6 749.2h0M420.9 710.7h0M390.8 732.8h0M324.0 784.0h0M264.9 777.1h0M318.5 695.3h0M409.9 746.6h0M241.6 777.5h0M225.5 750.3h0M352.6 696.5h0M330.4 791.2h0M273.0 778.3h0M246.0 696.2h0M407.3 744.3h0M345.9 785.5h0M366.1 705.3h0M252.3 740.0h0M298.9 687.4h0M353.3 685.7h0M272.3 713.0h0M254.8 780.5h0M400.6 696.8h0M305.2 592.6h0M392.7 742.1h0M228.0 773.9h0M392.3 756.4h0M296.1 700.5h0M371.6 712.6h0M231.1 735.9h0M302.4 790.8h0M282.3 793.0h0M337.5 701.3h0M309.4 785.0h0M240.8 751.7h0M365.3 785.0h0M266.6 784.5h0M339.9 686.8h0M268.0 784.2h0M359.0 777.9h0M310.8 791.7h0M384.9 723.1h0M390.1 763.9h0M357.6 709.8h0M243.0 779.0h0M244.7 750.3h0M391.6 754.2h0M261.7 703.8h0M291.7 711.0h0M266.2 708.8h0M286.3 795.8h0M408.5 747.4h0M397.0 731.4h0M370.8 780.5h0M246.8 729.9h0M276.4 776.3h0M355.0 695.1h0M317.7 805.4h0M266.7 701.5h0M221.2 775.3h0M249.1 751.8h0M251.2 715.7h0M353.4 688.0h0M324.8 685.5h0M284.1 805.8h0M325.7 673.5h0M328.8 697.2h0M235.5 706.0h0M392.9 761.9h0M370.4 785.9h0M387.3 730.4h0M236.8 718.4h0M250.4 732.6h0M325.4 697.9h0M288.1 714.2h0M371.0 685.9h0M275.9 719.4h0M284.3 709.9h0M215.6 736.9h0M392.1 725.0h0M396.3 709.6h0M340.0 787.2h0M436.1 728.4h0M361.2 711.1h0M307.7 706.5h0M285.4 785.1h0M224.4 738.3h0M397.1 770.2h0M403.1 765.0h0M316.2 704.8h0M402.6 740.6h0M302.8 698.3h0M377.2 784.8h0M436.4 702.5h0M290.7 712.7h0M429.8 710.3h0M440.3 750.8h0M415.0 744.6h0M240.9 758.3h0M351.9 779.9h0M248.3 736.1h0M391.2 770.3h0M402.0 720.4h0M385.6 713.2h0M341.6 798.2h0M240.2 773.2h0M348.5 700.1h0M345.4 712.9h0M244.2 765.6h0M396.0 709.8h0M286.1 781.5h0M258.7 727.5h0M272.7 719.8h0M254.3 723.3h0M240.6 754.9h0M276.2 717.5h0M232.5 723.2h0M372.3 702.9h0M359.9 713.5h0M366.9 717.2h0M315.2 789.5h0M261.7 728.9h0M382.8 687.1h0M371.3 694.9h0M389.0 714.2h0M371.1 768.7h0M369.3 717.8h0M350.2 695.2h0M256.4 696.7h0M368.0 700.8h0M303.2 692.2h0M330.6 667.1h0M417.7 744.4h0M366.7 786.8h0M329.0 783.7h0M352.7 698.8h0M332.5 785.2h0M391.4 743.9h0M413.2 752.3h0M321.5 707.9h0M341.8 781.6h0M278.6 790.4h0M263.9 773.5h0M218.1 731.7h0M231.3 731.0h0M202.9 735.6h0M338.4 782.8h0M250.5 713.1h0M424.2 751.2h0M384.4 716.3h0M287.1 788.6h0M253.9 721.8h0M398.9 719.4h0M386.8 780.1h0M347.2 784.8h0M316.1 706.5h0M333.8 707.9h0M246.1 748.7h0M227.0 768.6h0M313.7 782.3h0M337.6 694.5h0M268.5 726.1h0M327.1 698.6h0M345.5 680.6h0M341.4 695.5h0M291.3 785.5h0M224.3 774.5h0M249.5 732.1h0M287.4 791.1h0M380.3 719.1h0M283.2 699.1h0M248.4 783.8h0M315.7 782.2h0M274.1 776.9h0M323.2 690.4h0M211.4 732.7h0M412.2 747.7h0M400.0 754.8h0M357.3 784.2h0M362.0 777.2h0M257.3 721.5h0M343.7 792.1h0M223.0 757.5h0M233.7 762.7h0M243.4 699.4h0M336.7 696.7h0M273.0 695.8h0M405.1 769.2h0M349.0 696.7h0M320.2 782.5h0M372.0 633.0h0M420.0 765.0h0M346.3 787.5h0M301.2 791.8h0M252.2 734.6h0M286.2 707.3h0M422.6 740.9h0M321.1 704.7h0M250.6 739.2h0M276.2 797.2h0M364.5 772.3h0M323.0 675.2h0M263.4 727.2h0M361.9 714.5h0M275.2 783.7h0M264.6 781.7h0M362.1 699.9h0M346.5 698.5h0M384.5 711.8h0M300.1 785.6h0M365.6 707.3h0M314.5 696.0h0M392.5 752.3h0M448.0 727.0h0M311.5 780.7h0M294.9 707.9h0M362.5 783.3h0M398.7 751.0h0M364.7 776.0h0M325.4 786.1h0M342.0 691.5h0M387.5 690.2h0M403.9 748.6h0M332.3 700.4h0M403.1 762.4h0M351.9 676.1h0M433.5 696.6h0M286.6 792.7h0M312.1 788.9h0M280.4 713.8h0M397.6 748.2h0M328.9 674.1h0M398.0 748.2h0M237.8 747.4h0M388.9 738.2h0M308.5 685.7h0M292.5 687.8h0M290.0 702.6h0M403.9 701.7h0M251.1 735.8h0M308.9 675.4h0M357.8 709.5h0M359.1 707.9h0M312.4 691.6h0M295.4 686.0h0M262.9 713.1h0M249.5 726.6h0M392.6 711.0h0M266.6 706.7h0M346.1 697.5h0M393.1 739.9h0M401.6 753.9h0M369.5 772.8h0M288.7 697.1h0M314.5 701.4h0M379.0 710.5h0M238.1 768.4h0M344.8 709.1h0M258.0 778.8h0M383.9 766.6h0M266.4 782.6h0M348.7 700.8h0M357.4 786.6h0M405.3 744.9h0M193.0 787.5h0M257.7 736.9h0M259.1 724.7h0M349.1 699.2h0M323.8 708.4h0M355.3 701.6h0M392.6 718.4h0M410.9 740.5h0M244.8 699.2h0M384.5 775.8h0M227.4 771.2h0M243.2 762.3h0M240.4 764.1h0M360.7 773.2h0M396.4 736.5h0M285.5 706.0h0M404.4 743.8h0M441.2 759.5h0M216.3 780.4h0M290.9 698.8h0M323.3 786.2h0M365.3 781.7h0M332.9 782.3h0M358.4 702.6h0M240.5 699.3h0M328.7 692.6h0M300.6 684.4h0M379.6 769.9h0M301.0 701.2h0M256.1 726.7h0M338.2 781.9h0M398.3 742.0h0M226.8 748.0h0M334.9 795.0h0M231.0 763.8h0M414.4 714.6h0M245.6 737.9h0M287.3 705.2h0M305.1 705.0h0M244.8 727.3h0M372.6 687.9h0M368.7 778.6h0M352.5 671.5h0M370.8 704.1h0M398.1 761.1h0M240.6 741.3h0M266.4 693.9h0M368.1 676.9h0M411.6 725.0h0M254.7 781.8h0M296.1 697.0h0M248.5 797.5h0M324.7 703.3h0M374.3 770.7h0M241.7 760.4h0M374.1 775.4h0M416.4 754.7h0M240.6 784.3h0M311.3 786.2h0M237.4 743.0h0M397.5 752.8h0M346.9 784.2h0M255.3 727.9h0M274.7 784.6h0M303.3 792.5h0M365.5 786.5h0M274.3 719.6h0M400.4 677.5h0M298.9 696.4h0M286.2 700.0h0M409.3 754.5h0M394.5 783.1h0M302.0 797.9h0M354.8 710.8h0M294.4 641.9h0M333.7 694.1h0M389.1 731.6h0M320.1 790.5h0M385.5 712.1h0M252.7 773.9h0M265.0 727.2h0M410.1 771.9h0M413.4 747.0h0M385.7 784.0h0M246.1 775.9h0M315.2 705.4h0M278.1 698.7h0M274.8 722.7h0M286.3 705.8h0M342.5 712.0h0M270.7 719.6h0M221.2 773.7h0M297.6 786.8h0M272.1 695.7h0M287.4 697.9h0M258.4 779.6h0M248.9 696.3h0M321.6 701.1h0M385.8 715.0h0M349.2 784.7h0M379.3 712.0h0M304.3 703.5h0M241.4 769.5h0M323.4 789.4h0M372.7 689.7h0M282.5 704.1h0M385.6 737.7h0M404.8 745.9h0M404.0 770.4h0M278.9 779.6h0M389.9 722.6h0M304.6 690.7h0M318.3 788.1h0M288.8 709.6h0M373.6 777.2h0M327.0 703.3h0M338.3 693.8h0M361.0 769.8h0M419.5 726.5h0M393.7 750.2h0M348.2 690.3h0M406.3 722.8h0M242.2 755.9h0M366.3 766.0h0M446.5 712.8h0M377.9 710.6h0M414.2 718.4h0M251.6 783.6h0M389.5 720.1h0M374.6 716.8h0M388.0 731.3h0M421.6 742.3h0M339.1 695.0h0M298.4 700.4h0M335.8 707.4h0M312.4 779.4h0M377.1 776.5h0M261.9 693.9h0M271.0 704.4h0M363.1 780.1h0M263.2 715.7h0M234.4 764.1h0M398.2 766.0h0M400.0 729.9h0M333.0 704.6h0M302.6 701.2h0M370.0 713.4h0M368.6 770.9h0M288.4 709.7h0M288.0 784.4h0M254.6 782.6h0M398.2 759.7h0M307.8 791.7h0M407.0 746.0h0M242.4 786.8h0M317.1 694.6h0M289.8 791.0h0M390.7 709.4h0M331.6 702.9h0M398.2 725.4h0M324.2 778.6h0M260.5 708.8h0M255.2 733.0h0M332.0 699.8h0M242.3 740.9h0M404.6 752.2h0M397.4 770.4h0M430.6 734.1h0M343.1 787.4h0M234.1 775.8h0M279.6 778.2h0M250.2 780.7h0M303.6 801.3h0M205.6 735.7h0M251.7 731.0h0M395.2 762.2h0M219.5 707.5h0M345.7 791.2h0M386.1 761.2h0M281.6 781.1h0M301.7 789.0h0M368.8 765.4h0M369.9 775.2h0M264.3 790.6h0M257.4 792.0h0M226.8 744.9h0M248.0 703.2h0M234.7 768.5h0M337.2 667.6h0M312.8 782.8h0M362.9 777.3h0M262.6 723.3h0M330.0 699.8h0M233.6 776.9h0M398.5 692.5h0M413.5 728.0h0M231.8 737.7h0M394.7 732.3h0M404.9 775.4h0M287.7 714.2h0M408.1 761.1h0M390.2 768.4h0M231.7 695.3h0M359.9 787.5h0M398.6 747.4h0M353.6 788.5h0M275.0 719.6h0M200.6 743.9h0M315.1 780.8h0M377.5 769.4h0M388.2 723.5h0M405.3 723.1h0M218.2 755.5h0M342.0 702.9h0M307.6 693.5h0M247.4 766.2h0M229.5 750.4h0M405.3 741.5h0M365.7 715.6h0M218.8 724.3h0M323.4 669.2h0M251.2 776.8h0M316.6 702.2h0M249.1 782.9h0M329.9 794.8h0M221.3 737.4h0M302.0 677.2h0M325.2 789.6h0M408.8 740.0h0M335.4 795.2h0M380.9 763.8h0M348.1 795.9h0M358.6 710.0h0M344.4 796.2h0M387.9 735.5h0M366.9 716.5h0M415.0 770.6h0M331.5 686.8h0M399.8 741.7h0M300.4 688.3h0M279.1 715.1h0M413.5 733.0h0M291.2 698.1h0M307.9 788.8h0M360.4 713.2h0M404.6 748.8h0M277.9 797.4h0M277.0 717.1h0M307.3 787.2h0M229.0 731.6h0M248.8 775.4h0M314.1 778.1h0M239.8 723.8h0M346.9 705.3h0M266.1 714.2h0M369.8 766.2h0M269.3 782.8h0M390.0 702.5h0M284.5 699.1h0M383.6 627.6h0M419.1 737.6h0M342.5 707.7h0M350.0 704.7h0M255.1 782.6h0M374.8 711.3h0M380.5 718.6h0M225.5 755.4h0M397.5 732.9h0M388.4 734.0h0M272.6 776.5h0M276.0 777.3h0M406.1 743.2h0M414.6 738.5h0M330.9 785.0h0M242.9 781.6h0M268.5 783.8h0M357.2 779.9h0M197.2 757.2h0M386.6 759.7h0M318.9 695.0h0M274.1 686.5h0M347.0 781.4h0M261.9 788.4h0M397.4 712.3h0M222.4 760.8h0M365.8 777.7h0M208.2 768.8h0M393.5 772.1h0M364.5 680.9h0M242.0 785.8h0M330.3 699.5h0M396.7 775.7h0M395.1 735.1h0M257.4 728.6h0M311.6 779.8h0M317.0 683.6h0M415.6 683.9h0M377.7 703.4h0M250.8 728.3h0M269.1 722.8h0M243.5 752.3h0M255.1 782.7h0M229.1 764.2h0M387.7 764.4h0M244.1 732.2h0M380.8 772.9h0M399.3 771.2h0M246.2 769.5h0M359.3 775.1h0M345.0 709.0h0M335.3 694.9h0M234.1 777.9h0M412.9 747.2h0M269.3 783.8h0M269.7 699.7h0M232.9 764.6h0M236.0 722.9h0M401.8 732.1h0M245.1 784.3h0M323.9 706.8h0M265.5 706.6h0M367.0 764.2h0M359.4 783.1h0M350.7 782.9h0M244.7 755.5h0M368.6 705.1h0M249.3 719.0h0M399.2 718.2h0M371.5 688.7h0M379.6 765.1h0M348.0 681.0h0M268.3 652.5h0M254.0 779.3h0M236.9 780.8h0M230.7 748.5h0M380.7 700.5h0M309.6 683.3h0M318.3 698.2h0M384.2 722.1h0M255.9 712.3h0M427.9 729.4h0M299.0 698.9h0M252.0 790.8h0M315.8 784.1h0M248.5 780.6h0M277.7 707.3h0M407.0 719.5h0M236.8 599.7h0M396.3 737.7h0M346.7 670.3h0M419.1 721.4h0M234.6 780.3h0M341.9 796.2h0M223.9 774.5h0M369.7 717.7h0M399.6 784.1h0M423.1 719.4h0M408.5 692.5h0M253.1 783.6h0M244.7 748.4h0M380.5 718.7h0M274.8 722.0h0M390.5 771.2h0M289.8 703.9h0M374.0 699.5h0M244.9 779.3h0M278.0 718.0h0M220.1 769.3h0M238.0 694.9h0M376.1 772.0h0M380.8 701.0h0M333.8 707.2h0M216.8 752.6h0M306.9 784.3h0M247.9 785.8h0M345.9 783.4h0M231.8 714.1h0M218.7 752.4h0M399.8 737.7h0M374.8 707.8h0M239.2 753.8h0M397.9 729.5h0M342.7 709.7h0M414.4 701.2h0M211.0 758.6h0M287.2 703.7h0M248.8 795.0h0M231.6 757.9h0M403.6 713.7h0M372.2 777.7h0M388.2 757.7h0M247.4 787.9h0M363.9 784.0h0M383.6 699.5h0M323.1 781.6h0M301.6 787.4h0M394.2 740.9h0M290.6 694.3h0M219.6 774.8h0M237.9 773.3h0M234.7 778.4h0M382.2 657.7h0M287.9 787.5h0M298.0 785.8h0M361.3 702.8h0M403.7 756.0h0M285.2 695.8h0M281.1 709.3h0M239.5 766.6h0M216.6 741.1h0M235.4 730.2h0M354.5 711.5h0M287.9 707.5h0M331.0 787.6h0M354.6 698.2h0M377.1 773.8h0M256.4 726.8h0M275.0 706.2h0M354.1 702.3h0M263.2 726.8h0M369.2 768.0h0M256.5 781.0h0M391.8 729.3h0M214.6 749.2h0M396.1 736.3h0M249.6 783.0h0M273.3 778.9h0M244.8 706.7h0M298.7 684.9h0M435.1 696.4h0M409.0 758.5h0M378.9 709.0h0M207.1 763.2h0M390.2 755.7h0M244.7 778.9h0M260.1 786.3h0M352.3 701.0h0M281.4 783.1h0M325.4 697.3h0M416.3 720.5h0M249.6 774.5h0M266.1 792.5h0M407.0 771.9h0M308.5 688.5h0M404.6 665.5h0M357.8 706.9h0M350.2 703.0h0M211.6 769.4h0M421.2 756.7h0M282.9 776.9h0M410.7 762.9h0M285.3 809.5h0M395.7 754.0h0M360.4 781.5h0M278.5 712.0h0M372.5 774.5h0M225.1 754.0h0M395.6 719.3h0M420.1 733.8h0M339.6 666.8h0M313.7 692.5h0M395.5 731.9h0M356.3 794.9h0M359.4 769.4h0M252.2 719.8h0M411.1 699.5h0M291.1 713.6h0M372.1 778.9h0M271.6 722.6h0M313.4 703.5h0M370.1 707.6h0M404.7 746.7h0M404.2 766.3h0M249.8 744.9h0M344.3 702.9h0M398.0 727.4h0M317.4 700.2h0M396.2 690.5h0M248.7 735.0h0M300.4 685.4h0M388.4 704.0h0M177.7 765.9h0M343.4 674.7h0M362.7 697.7h0M227.5 749.2h0M296.3 789.4h0M259.2 783.4h0M314.6 704.4h0M311.0 782.1h0M437.1 757.2h0M273.4 698.7h0M263.6 728.3h0M269.6 785.7h0M273.2 785.0h0M326.7 702.0h0M235.5 780.7h0M376.0 698.2h0M342.0 705.7h0M266.2 789.9h0M244.9 758.4h0M430.3 732.2h0M318.9 793.9h0M255.6 740.1h0M293.6 703.8h0M305.6 787.1h0M327.0 694.1h0M328.0 701.4h0M407.6 765.2h0M230.1 739.1h0M424.3 716.4h0M416.3 727.8h0M364.2 666.7h0M233.9 747.0h0M409.9 732.4h0M403.6 733.4h0M383.8 723.1h0M206.8 759.0h0M232.5 725.7h0M215.8 754.5h0M413.4 685.6h0M330.6 679.6h0M383.9 765.5h0M282.2 781.0h0M266.3 781.1h0M400.7 733.7h0M284.3 705.0h0M281.7 790.9h0M300.6 790.9h0M340.7 785.2h0M339.9 584.7h0M241.8 755.0h0M285.0 705.3h0M271.0 687.2h0M269.7 773.8h0M222.1 758.1h0M342.1 702.5h0M370.7 694.2h0M381.5 761.5h0M366.1 716.4h0M346.7 695.6h0M276.6 782.0h0M391.4 721.3h0M393.0 774.2h0M398.2 742.3h0M314.6 670.5h0M338.0 786.9h0M283.6 779.6h0M327.8 793.0h0M387.2 770.8h0M402.2 754.8h0M292.4 791.7h0M263.0 714.4h0M251.0 776.7h0M334.9 787.9h0M330.1 694.0h0M349.6 780.1h0M324.4 783.1h0M367.3 719.6h0M282.7 711.5h0M312.8 681.1h0M337.4 785.7h0M370.8 774.1h0M331.1 687.8h0M416.3 681.7h0M294.8 707.9h0M327.0 699.7h0M272.7 709.7h0M212.8 760.7h0M366.4 775.7h0M299.1 784.3h0M247.3 767.2h0M348.9 664.4h0M376.0 712.0h0M312.2 784.4h0M268.3 708.7h0M346.7 673.7h0M354.3 698.0h0M319.9 694.9h0M279.1 615.5h0M318.0 697.3h0M239.4 733.8h0M414.7 758.5h0M433.8 697.3h0M363.2 783.0h0M417.5 756.0h0M382.6 780.4h0M285.9 780.2h0M282.5 778.7h0M358.0 777.4h0M287.0 780.6h0M414.6 734.8h0M263.6 795.3h0M324.4 708.9h0M314.6 699.3h0M398.6 759.0h0M424.5 717.7h0M392.0 731.9h0M229.5 724.5h0M395.2 753.5h0M216.0 755.5h0M311.2 798.5h0M340.9 703.4h0M300.9 706.3h0M249.5 753.2h0M353.7 697.2h0M213.6 762.5h0M304.4 785.4h0M398.9 762.2h0M254.2 779.2h0M255.2 726.5h0M391.8 737.8h0M316.0 793.9h0M223.3 757.4h0M299.7 792.5h0M251.9 777.6h0M332.3 701.9h0M310.0 779.9h0M231.0 775.9h0M272.4 783.9h0M402.7 732.6h0M226.7 756.0h0M381.0 711.2h0M384.0 772.8h0M378.9 697.3h0M330.3 670.3h0M366.5 766.4h0M235.4 765.7h0M232.5 747.9h0M217.3 782.9h0M230.7 737.6h0M235.4 753.0h0M409.0 758.0h0M291.5 655.9h0M405.3 746.6h0M310.0 790.4h0M401.1 751.8h0M281.4 792.3h0M294.6 700.2h0M248.1 740.9h0M265.8 689.3h0M362.1 771.1h0M376.7 668.8h0M234.1 742.0h0M386.3 709.9h0M306.8 783.9h0M302.4 698.6h0M405.0 743.0h0M199.4 735.3h0M309.5 698.6h0M244.9 746.3h0M383.9 773.7h0M295.2 703.9h0M241.5 769.0h0M300.8 701.4h0M278.3 713.6h0M301.5 698.8h0M383.6 761.4h0M385.0 723.6h0M254.1 699.8h0M424.6 743.6h0M327.6 647.6h0M223.2 713.5h0M328.9 679.5h0M315.2 778.8h0M389.3 730.5h0M205.4 752.0h0M255.5 713.0h0M262.3 732.1h0M341.0 709.5h0M195.3 770.6h0M296.4 706.0h0M355.2 711.5h0M399.0 765.1h0M328.3 789.8h0M396.0 702.6h0M386.9 772.1h0M389.8 714.8h0M295.0 788.7h0M426.0 764.5h0M341.9 700.7h0M390.1 779.3h0M219.2 736.9h0M270.8 720.2h0M418.6 703.9h0M381.4 697.6h0M262.5 777.5h0M419.9 727.7h0M271.8 685.2h0M416.5 694.1h0M402.9 724.4h0M274.7 713.2h0M319.3 702.8h0M213.4 756.5h0M320.2 694.3h0M218.3 775.6h0M342.1 699.9h0M434.4 748.9h0M426.3 737.5h0M324.0 777.8h0M212.6 768.8h0M356.1 709.0h0M386.8 735.1h0M263.6 708.4h0M239.4 754.1h0M237.6 746.9h0M384.1 719.5h0M257.1 699.8h0M304.0 797.8h0M408.0 776.8h0M226.2 779.4h0M317.3 780.9h0M344.6 785.8h0M213.5 735.9h0M246.3 755.6h0M289.5 791.2h0M330.4 684.2h0M361.9 767.4h0M267.4 727.8h0M402.3 702.8h0M302.4 684.5h0M388.2 700.5h0M264.8 719.9h0M260.4 713.6h0M324.2 782.1h0M362.6 672.8h0M231.4 752.4h0M217.8 788.9h0M390.1 681.8h0M376.4 769.6h0M291.8 694.2h0M232.7 763.7h0M256.9 732.9h0M298.9 706.3h0M260.6 709.1h0M353.9 689.9h0M372.2 777.8h0M348.2 675.1h0M219.9 767.2h0M337.6 707.1h0M238.5 726.0h0M319.9 703.9h0M245.0 684.2h0M405.6 738.3h0M449.4 764.1h0M304.9 693.6h0M369.3 769.0h0M357.4 786.8h0M243.8 781.2h0M232.4 766.6h0M406.0 745.0h0M262.2 721.0h0M216.2 757.1h0M228.8 768.6h0M398.3 727.4h0M343.5 787.1h0M421.0 733.7h0M385.2 774.1h0M265.0 724.8h0M386.1 762.8h0M413.5 708.3h0M389.5 772.3h0M403.5 744.6h0M386.9 736.7h0M257.5 739.5h0M312.2 704.9h0M403.0 717.2h0M356.6 693.9h0M255.8 741.0h0M436.9 715.4h0M339.2 692.5h0M253.8 784.3h0M320.0 700.5h0M244.5 737.0h0M218.4 769.7h0M245.3 730.6h0M254.2 741.9h0M409.2 735.8h0M256.7 718.5h0M326.1 783.1h0M381.9 706.8h0M279.4 784.1h0M262.5 732.6h0M316.2 674.4h0M322.0 690.6h0M318.7 702.7h0M363.8 769.0h0M271.1 790.1h0M358.2 690.7h0M384.3 761.2h0M254.4 739.0h0M239.8 778.5h0M292.6 695.3h0M265.5 697.9h0M258.7 796.5h0M291.4 705.8h0M388.2 768.2h0M322.9 698.1h0M365.0 713.5h0M379.4 766.2h0M320.1 675.8h0M228.1 759.1h0M263.1 775.9h0M352.7 705.8h0M382.4 722.7h0M249.8 771.0h0M353.9 777.8h0M291.2 794.7h0M414.1 719.7h0M396.9 719.4h0M417.8 763.4h0M412.8 740.7h0M296.7 690.7h0M307.8 690.4h0M301.9 794.2h0M326.8 698.4h0M397.4 749.7h0M300.1 800.5h0M371.9 707.3h0M266.8 701.7h0M296.7 689.5h0M353.4 781.8h0M342.8 783.0h0M256.6 785.6h0M335.9 707.7h0M309.2 687.9h0M343.7 707.7h0M257.8 731.9h0M375.7 705.7h0M263.5 710.3h0M324.1 784.0h0M307.8 792.0h0M325.6 705.1h0M366.4 765.4h0M341.7 789.0h0M223.7 724.5h0M365.0 705.2h0M273.6 790.5h0M394.7 738.6h0M228.4 747.1h0M348.6 782.0h0M414.1 740.6h0M228.6 742.6h0M377.7 693.1h0M393.5 740.5h0M247.3 756.7h0M265.4 783.0h0M362.9 680.2h0M268.2 775.5h0M239.2 760.9h0M291.6 708.0h0M363.7 706.9h0M326.1 780.7h0M262.6 729.9h0M419.3 737.1h0M234.9 780.4h0M349.6 779.9h0M422.3 729.6h0M317.9 782.1h0M387.9 760.0h0M266.2 725.9h0M307.6 688.8h0M359.7 702.0h0M291.2 704.7h0M243.8 767.6h0M384.8 765.5h0M293.8 700.5h0M316.4 780.1h0M387.6 669.3h0M395.2 753.2h0M266.2 778.1h0M258.0 728.3h0M318.6 701.0h0M373.2 716.0h0M278.2 712.0h0M252.2 779.4h0M322.7 779.9h0M392.1 760.1h0M389.1 732.4h0M317.6 789.4h0M399.3 741.8h0M336.6 679.1h0M385.2 775.0h0M287.4 693.9h0M276.9 706.2h0M415.9 747.1h0M391.5 761.0h0M393.8 696.4h0M275.7 691.0h0M242.0 731.5h0M392.8 757.5h0M380.2 720.0h0M350.5 791.2h0M289.1 785.5h0M402.2 756.8h0M251.8 736.5h0M285.4 705.2h0M380.3 710.1h0M254.2 702.5h0M265.9 722.2h0M238.2 766.0h0M359.8 777.2h0M249.4 703.9h0M397.8 769.2h0M264.0 703.5h0M399.4 748.5h0M376.9 770.4h0M266.4 727.7h0M318.3 803.7h0M348.2 789.1h0M395.0 749.6h0M232.3 760.8h0M391.4 778.9h0M278.2 781.4h0M364.2 670.3h0M254.2 738.0h0M387.4 790.1h0M384.6 735.6h0M335.9 784.0h0M205.9 741.0h0M385.0 711.5h0M287.7 694.3h0M393.6 752.2h0M409.8 750.6h0M279.3 705.6h0M368.0 705.0h0M302.5 668.2h0M404.6 720.2h0M409.8 691.5h0M414.8 712.7h0M272.7 572.5h0M219.7 757.7h0M211.6 736.3h0M275.7 777.0h0M242.6 772.9h0M216.5 750.8h0M349.6 781.0h0M395.3 708.0h0M260.4 696.2h0M418.1 758.3h0M359.3 769.4h0M332.2 690.7h0M365.9 766.4h0M277.0 690.7h0M365.6 768.2h0M376.4 714.4h0M354.1 702.9h0M214.9 775.2h0M239.0 757.8h0M361.9 767.3h0M379.3 775.5h0M371.9 772.6h0M275.2 782.5h0M397.8 764.2h0M295.3 697.7h0M302.7 696.2h0M411.6 729.5h0M269.3 782.1h0M192.8 727.6h0M221.3 756.2h0M395.0 767.8h0M248.5 720.0h0M276.9 700.3h0M324.9 782.4h0M277.2 780.0h0M371.0 697.3h0M275.9 702.4h0M275.1 721.4h0M358.0 709.3h0M348.3 713.8h0M268.4 688.5h0M259.4 732.4h0M402.8 743.7h0M265.1 687.1h0M298.6 705.5h0M270.1 711.1h0M442.5 727.1h0M221.9 772.4h0M385.8 712.2h0M298.7 706.7h0M226.8 756.5h0M278.8 780.7h0M312.8 779.1h0M401.5 734.7h0M346.2 699.4h0M313.2 778.7h0M380.2 769.8h0M279.0 715.6h0M233.8 775.1h0M357.5 696.0h0M271.9 708.6h0M405.8 731.2h0M389.0 696.8h0M222.9 766.1h0M294.2 697.4h0M377.6 767.4h0M300.4 685.6h0M241.8 743.2h0M369.3 715.3h0M293.2 706.1h0M344.2 713.5h0M416.2 768.1h0M325.4 795.5h0M259.1 698.8h0M270.9 717.3h0M351.5 793.4h0M347.1 624.6h0M353.9 682.1h0M437.4 754.8h0M228.6 741.2h0M322.8 787.7h0M366.7 774.3h0M243.3 724.9h0M359.1 709.1h0M262.5 728.9h0M395.4 696.1h0M339.5 700.9h0M364.9 715.1h0M373.0 708.0h0M284.1 779.7h0M284.5 778.1h0M411.4 759.7h0M348.0 786.8h0M414.3 735.5h0M287.0 704.6h0M426.7 762.2h0M242.2 773.0h0M358.7 778.1h0M408.8 702.6h0M237.1 779.2h0M400.5 692.7h0M404.9 753.7h0M248.1 726.4h0M322.3 709.5h0M312.1 780.1h0M421.5 769.9h0M423.4 748.8h0M280.5 715.8h0M299.0 790.1h0M348.6 712.1h0M327.9 785.1h0M226.8 745.7h0M250.6 711.6h0M361.3 698.8h0M356.8 694.4h0M243.0 778.7h0M249.3 751.3h0M325.1 676.1h0M348.8 789.4h0M250.9 727.5h0M412.8 744.8h0M269.0 781.3h0M362.3 698.0h0M269.5 707.6h0M319.3 788.0h0M413.5 770.7h0M346.8 711.4h0M393.7 715.5h0M236.7 787.8h0M369.1 776.8h0M351.1 778.2h0M249.5 734.0h0M219.4 730.8h0M345.5 695.3h0M325.1 696.2h0M258.2 738.4h0M226.3 760.7h0M390.6 703.2h0M224.8 746.3h0M231.3 705.1h0M336.9 802.7h0M395.8 774.0h0M248.5 736.0h0M306.3 800.6h0M405.3 752.1h0M265.0 707.0h0M388.9 704.9h0M398.8 724.5h0M337.5 696.7h0M322.9 707.2h0M251.3 788.4h0M249.3 773.9h0M267.7 708.3h0M348.1 711.8h0M369.9 718.7h0M206.1 739.1h0M246.6 751.7h0M277.8 721.0h0M316.3 686.6h0M414.7 716.9h0M364.0 713.4h0M405.1 718.4h0M241.4 781.8h0M296.7 677.5h0M336.9 784.7h0M358.7 770.3h0M377.2 706.1h0M349.4 707.0h0M378.8 777.9h0M388.4 731.8h0M306.4 702.7h0M250.2 770.3h0M210.9 768.7h0M280.2 714.4h0M409.8 733.8h0M348.0 685.1h0M231.4 742.2h0M246.8 743.2h0M340.1 706.8h0M354.6 780.5h0M223.4 763.6h0M389.9 714.0h0M428.0 743.1h0M293.2 692.9h0M417.7 746.6h0M250.5 787.7h0M316.9 696.5h0M337.1 790.0h0M363.3 706.1h0M279.3 713.0h0M346.6 786.5h0M308.2 784.4h0M228.4 737.6h0M413.1 748.3h0M244.0 707.9h0M283.5 795.3h0M266.4 726.2h0M371.5 711.3h0M245.8 678.6h0M263.3 774.7h0M303.5 781.3h0M407.4 753.4h0M391.7 703.2h0M256.7 723.0h0M225.4 715.0h0M309.7 700.3h0M403.1 699.2h0M396.4 759.0h0M383.3 722.3h0M366.7 766.5h0M268.3 781.5h0M266.8 717.6h0M408.2 709.4h0M273.8 714.5h0M248.6 745.8h0M387.3 724.2h0M238.1 758.5h0M269.6 721.1h0M416.1 774.0h0M348.9 784.1h0M263.4 780.6h0M324.3 660.2h0M324.9 783.1h0M319.7 701.6h0M260.5 720.6h0M363.6 688.1h0M380.7 764.3h0M337.8 692.1h0M292.6 789.8h0M351.9 703.7h0M338.3 692.5h0M342.5 700.3h0M240.0 773.5h0M409.9 744.8h0M297.1 788.7h0M320.2 797.4h0M394.3 788.0h0M380.2 705.9h0M256.1 711.4h0M364.9 782.3h0M374.1 791.4h0M220.5 762.3h0M241.6 786.7h0M250.1 737.7h0M203.1 777.0h0M346.0 782.9h0M389.7 775.8h0M309.8 706.6h0M404.9 746.0h0M247.2 746.6h0M311.7 695.9h0M401.2 705.7h0M417.5 756.6h0M232.5 763.4h0M332.2 787.6h0M269.9 716.2h0M264.8 723.3h0M207.0 741.2h0M298.1 702.6h0M235.9 763.7h0M415.0 762.3h0M280.8 778.4h0M245.1 743.9h0M233.9 754.0h0M234.0 774.9h0M282.4 790.4h0M344.9 691.3h0M290.6 782.5h0M245.2 741.8h0M268.5 711.5h0M385.9 725.1h0M237.2 713.9h0M237.2 772.1h0M361.7 715.3h0M310.0 701.5h0M277.7 704.6h0M436.9 762.2h0M224.3 759.3h0M379.4 698.0h0M415.0 738.4h0M384.6 719.8h0M250.9 774.9h0M387.2 777.6h0M223.6 763.9h0M380.6 697.8h0M248.7 686.3h0M290.0 713.8h0M240.6 781.7h0M364.4 713.5h0M395.7 731.3h0M282.1 791.4h0M399.1 706.4h0M359.3 707.2h0M351.5 796.0h0M372.1 769.7h0M392.7 743.4h0M244.4 749.4h0M365.4 776.4h0M270.1 775.7h0M372.9 785.9h0M210.8 734.5h0M387.7 691.3h0M254.3 783.3h0M344.6 662.1h0M341.7 789.8h0M397.7 722.9h0M203.6 743.9h0M380.7 785.0h0M226.8 746.9h0M359.9 786.9h0M415.6 739.4h0M266.6 678.2h0M333.9 706.5h0M278.8 699.8h0M409.2 749.6h0M392.6 794.3h0M383.3 717.5h0M245.4 738.3h0M284.1 786.0h0M387.5 773.5h0M247.2 726.4h0M321.2 784.4h0M254.8 675.1h0M362.5 776.3h0M289.9 635.9h0M271.1 777.4h0M437.4 737.3h0M409.6 756.5h0M225.8 737.5h0M361.2 715.6h0M381.0 764.6h0M283.4 709.9h0M321.1 788.3h0M319.2 689.3h0M294.2 788.1h0M302.6 784.2h0M237.0 770.1h0M416.2 767.4h0M233.7 747.0h0M394.8 714.8h0M266.8 724.0h0M274.7 787.7h0M347.1 695.1h0M260.6 780.5h0M361.1 687.9h0M251.3 716.0h0M344.8 785.0h0M415.6 741.8h0M382.1 767.7h0M353.1 706.1h0M308.5 785.3h0M392.0 699.8h0M267.2 792.7h0M238.0 776.3h0M385.3 733.7h0M352.5 682.6h0M290.2 711.9h0M356.2 705.0h0M328.3 784.7h0M309.5 780.6h0M248.6 754.5h0M323.4 779.5h0M227.3 754.3h0M391.9 788.2h0M248.3 778.4h0M285.9 794.2h0M355.7 708.3h0M377.9 714.2h0M386.8 726.8h0M221.5 736.7h0M236.4 755.0h0M375.9 787.7h0M363.7 771.6h0M310.9 800.3h0M324.8 699.7h0M364.7 717.0h0M431.3 746.6h0M297.6 704.9h0M295.5 696.8h0M331.1 705.8h0M285.6 698.5h0M231.0 733.6h0M305.3 784.2h0M395.8 771.3h0M394.2 784.7h0M398.5 758.7h0M327.0 703.9h0M370.4 704.4h0M284.2 712.5h0M278.6 706.2h0M383.2 767.6h0M241.3 746.9h0M412.6 734.3h0M380.9 764.2h0M339.3 710.4h0M251.0 731.3h0M345.4 714.9h0M349.8 679.6h0M315.5 796.3h0M261.7 779.0h0M287.6 694.7h0M329.9 703.9h0M267.1 784.8h0M355.5 780.7h0M323.2 684.5h0M218.5 736.1h0M255.1 742.0h0M392.2 717.3h0M345.3 699.5h0M412.5 737.0h0M255.9 717.4h0M417.0 759.9h0M263.9 777.4h0M262.9 692.3h0M357.0 789.1h0M297.0 665.7h0M339.9 789.1h0M255.3 734.5h0M355.7 779.8h0M242.4 744.8h0M392.2 762.4h0M373.2 774.0h0M296.8 709.4h0M372.1 705.0h0M256.6 730.3h0M408.8 707.7h0M379.7 699.7h0M388.1 736.6h0M354.9 777.8h0M389.4 702.4h0M411.5 755.3h0M371.0 711.6h0M412.2 766.6h0M372.9 709.2h0M280.5 789.7h0M252.6 700.5h0M281.7 791.2h0M386.5 723.5h0M221.7 766.9h0M347.0 710.9h0M385.7 704.6h0M238.4 726.3h0M275.2 722.4h0M404.7 759.0h0M387.3 730.6h0M293.5 708.2h0M265.7 728.3h0M392.2 721.8h0M228.1 744.8h0M344.3 695.3h0M367.9 691.6h0M341.1 703.3h0M395.1 773.0h0M266.7 775.0h0M376.9 708.5h0M390.5 681.8h0M376.4 704.7h0M351.0 786.9h0M262.4 794.5h0M291.5 691.5h0M370.7 716.6h0M229.0 739.0h0M348.3 709.2h0M395.8 755.5h0M418.5 764.8h0M400.6 773.7h0M400.4 744.1h0M306.0 786.1h0M244.4 747.3h0M379.0 766.0h0M258.5 718.5h0M361.2 712.6h0M350.6 778.4h0M317.8 790.0h0M390.5 733.5h0M253.2 732.3h0M347.7 699.2h0M263.9 713.9h0M257.3 780.5h0M262.1 726.8h0M326.0 689.7h0M409.5 717.4h0M401.2 711.5h0M383.3 715.0h0M267.5 700.3h0M283.1 786.5h0M397.3 764.7h0M238.1 755.8h0M296.2 799.9h0M257.2 722.9h0M366.1 700.9h0M387.1 690.6h0M404.5 743.8h0M363.9 697.5h0M246.4 727.5h0M389.5 777.4h0M239.1 755.3h0M333.2 695.1h0M225.8 779.2h0M297.2 702.0h0M302.4 786.5h0M412.9 696.6h0M278.3 708.7h0M401.5 767.3h0M319.4 693.2h0M275.4 719.5h0M317.8 788.4h0M222.9 704.2h0M405.1 726.9h0M311.5 698.0h0M403.4 744.3h0M235.0 764.0h0M325.0 702.5h0M430.4 721.7h0M390.9 741.0h0M273.1 784.6h0M298.1 697.6h0M384.6 770.7h0M237.3 755.8h0M312.5 688.6h0M381.1 793.0h0M389.2 730.4h0M343.1 704.4h0M322.7 692.7h0M407.2 767.2h0M217.9 764.3h0M275.7 783.8h0M286.1 708.2h0M368.1 781.8h0M323.9 705.9h0M233.4 755.8h0M271.9 788.8h0M399.6 764.2h0M419.5 746.8h0M377.2 710.9h0M349.2 695.7h0M220.7 764.8h0M294.4 785.6h0M293.7 690.9h0M235.7 750.1h0M297.7 784.0h0M350.1 778.9h0M362.7 699.6h0M407.4 734.9h0M244.6 730.2h0M348.3 696.4h0M255.1 722.2h0M388.5 755.3h0M215.5 727.1h0M219.6 759.9h0M229.1 768.7h0M280.0 702.1h0M230.5 723.8h0M326.0 783.3h0M307.8 687.7h0M360.0 780.8h0M326.1 787.1h0M363.8 701.0h0M364.6 771.6h0M384.3 703.2h0M434.6 743.0h0M341.0 787.6h0M242.5 725.9h0M311.7 701.3h0M328.0 782.0h0M265.4 784.0h0M414.4 752.3h0M342.2 685.7h0M297.4 695.0h0M366.3 715.9h0M277.0 714.7h0M414.9 756.6h0M294.0 708.6h0M349.9 787.3h0M383.0 698.9h0M432.0 724.3h0M315.8 672.7h0M442.7 720.9h0M249.4 744.9h0M341.2 704.6h0M279.1 712.6h0M401.6 744.5h0M213.6 755.1h0M250.1 777.4h0M395.1 781.1h0M316.5 779.2h0M321.3 692.0h0M288.3 685.6h0M289.2 710.7h0M283.6 791.2h0M238.9 748.4h0M369.3 775.9h0M378.0 768.9h0M371.2 685.9h0M253.5 736.9h0M269.5 716.3h0M276.0 783.3h0M397.1 720.3h0M413.9 730.3h0M287.5 700.7h0M248.2 744.5h0M423.2 737.9h0M271.8 696.1h0M343.1 703.7h0M237.0 779.3h0M405.4 720.8h0M267.8 786.6h0M246.4 781.2h0M304.6 796.2h0M397.8 741.4h0M304.9 684.5h0M235.2 754.8h0M244.4 742.5h0M251.6 791.9h0M376.3 701.9h0M338.3 786.6h0M404.5 771.1h0M253.9 737.2h0M309.0 791.1h0M278.5 716.2h0M394.1 765.6h0M227.1 785.4h0M388.9 720.7h0M428.8 713.4h0M269.4 719.8h0M390.7 758.5h0M256.4 795.0h0M232.8 781.5h0M361.6 715.6h0M368.0 701.1h0M342.2 706.8h0M228.8 747.2h0M365.4 782.2h0M285.6 782.8h0M251.4 773.8h0M366.8 701.3h0M226.4 749.4h0M206.4 660.7h0M388.9 765.3h0M393.1 756.0h0M369.5 790.0h0M401.6 762.4h0M309.6 781.7h0M384.9 710.4h0M242.1 703.8h0M314.9 781.7h0M391.6 708.6h0M341.3 688.8h0M239.3 741.2h0M305.8 787.1h0M403.8 757.3h0M344.9 685.1h0M322.2 693.2h0M429.7 763.8h0M237.1 733.5h0M372.3 710.3h0M206.2 764.9h0M394.6 756.1h0M243.2 736.1h0M313.6 697.3h0M464.8 741.4h0M284.6 704.1h0M274.4 709.1h0M304.0 682.1h0M212.7 750.0h0M346.5 700.5h0M243.3 738.4h0M396.6 693.2h0M315.5 780.5h0M258.1 789.4h0M347.4 711.1h0M365.1 783.0h0M323.3 695.1h0M269.2 782.0h0M293.0 709.4h0M343.6 690.7h0" stroke="#000" stroke-opacity="0.55" stroke-width="2.9" stroke-linecap="round" fill="none"/><path d="M345.3 700.8h0M218.2 766.8h0M427.4 732.0h0M277.8 696.2h0M169.2 769.6h0M321.9 683.5h0M247.4 716.5h0M401.8 775.4h0M423.3 757.9h0M174.2 728.2h0M276.2 713.7h0M336.3 708.8h0M209.6 811.2h0M428.5 718.7h0M463.8 709.9h0M379.2 717.4h0M364.5 713.8h0M180.5 723.2h0M457.6 688.1h0M465.0 731.8h0M245.1 683.2h0M266.2 725.0h0M365.6 712.7h0M245.6 710.7h0M381.6 765.3h0M235.3 764.5h0M310.1 675.1h0M451.8 754.2h0M465.9 706.7h0M239.8 769.8h0M200.1 747.9h0M214.8 776.1h0M438.6 762.8h0M180.3 743.8h0M199.8 768.1h0M202.3 709.5h0M172.7 697.3h0M419.3 693.5h0M345.8 791.8h0M248.0 753.5h0M453.8 664.8h0M346.8 678.8h0M234.9 717.3h0M217.3 782.1h0M170.6 732.4h0M245.2 695.1h0M459.8 691.5h0M275.6 720.0h0M472.2 735.7h0M202.0 679.8h0M372.0 768.8h0M456.6 742.1h0M430.5 737.7h0M239.1 797.9h0M177.1 717.5h0M402.8 717.0h0M321.3 705.9h0M387.7 739.8h0M315.1 779.8h0M368.1 713.3h0M249.0 740.2h0M408.7 741.9h0M374.6 713.1h0M236.5 788.2h0M353.9 680.6h0M351.4 702.3h0M336.5 695.3h0M294.0 784.1h0M380.6 779.6h0M233.2 787.7h0M324.3 647.1h0M295.3 701.3h0M301.7 782.5h0M230.5 760.1h0M277.6 803.5h0M343.3 707.4h0M336.4 790.2h0M267.5 776.5h0M199.4 735.3h0M383.2 765.5h0M250.6 731.9h0M365.6 693.7h0M229.3 729.0h0M243.8 767.3h0M424.8 752.5h0M237.1 738.0h0M381.9 709.2h0M328.9 785.4h0M314.6 693.8h0M367.9 711.1h0M277.3 709.2h0M376.4 774.9h0M399.7 716.7h0M294.7 696.7h0M282.4 701.1h0M213.1 762.8h0M305.3 786.2h0M253.8 800.8h0M266.7 720.4h0M389.4 799.6h0M351.0 696.1h0M433.1 695.1h0M334.3 706.7h0M269.5 783.9h0M305.4 702.3h0M389.9 741.1h0M412.4 772.1h0M279.4 713.9h0M369.3 687.1h0M323.7 708.3h0M271.6 779.7h0M322.8 700.4h0M377.8 777.0h0M338.3 683.6h0M385.8 720.2h0M357.6 707.0h0M334.7 692.5h0M416.9 726.8h0M366.9 764.7h0M285.7 783.7h0M272.4 722.6h0M399.2 757.7h0M428.9 761.9h0M293.4 699.1h0M230.0 741.3h0M322.2 682.6h0M393.1 744.0h0M335.4 666.9h0M396.3 713.4h0M374.5 779.3h0M288.2 677.3h0M250.1 710.1h0M270.1 794.6h0M253.0 650.0h0M279.6 714.7h0M392.0 774.1h0M252.5 777.2h0M336.1 784.0h0M400.0 782.7h0M237.8 763.9h0M346.1 795.0h0M273.3 791.4h0M308.2 669.0h0M247.6 782.1h0M358.9 770.6h0M285.8 778.3h0M401.1 756.3h0M389.1 765.1h0M229.5 777.3h0M407.0 761.9h0M357.1 685.6h0M235.4 738.7h0M336.9 687.9h0M438.5 721.2h0M269.6 774.0h0M330.1 687.6h0M399.0 731.5h0M246.6 744.0h0M285.7 784.0h0M304.4 676.1h0M282.5 715.7h0M321.2 693.6h0M400.1 711.3h0M385.8 719.5h0M329.1 679.3h0M413.6 699.4h0M411.3 729.1h0M280.7 713.2h0M396.7 708.7h0M363.3 709.8h0M307.0 703.0h0M347.1 705.1h0M352.6 695.2h0M364.0 712.8h0M366.0 780.3h0M307.1 792.4h0M232.7 787.8h0M402.1 750.7h0M350.2 783.8h0M261.4 726.9h0M394.3 753.0h0M296.3 710.8h0M397.5 738.6h0M310.3 803.7h0M230.5 742.7h0M309.7 695.4h0M333.4 690.9h0M249.4 778.4h0M379.2 768.9h0M396.7 717.9h0M350.5 778.3h0M216.4 765.7h0M377.8 778.1h0M254.2 717.8h0M309.5 781.5h0M257.8 700.3h0M256.1 787.0h0M435.7 728.5h0M308.6 783.0h0M346.7 787.0h0M370.7 767.7h0M218.2 723.5h0M281.6 710.7h0M446.7 710.3h0M245.2 714.2h0M322.8 705.6h0M264.6 724.0h0M414.5 752.3h0M398.7 732.1h0M257.8 780.6h0M406.5 749.1h0M389.3 728.9h0M256.8 715.6h0M240.6 730.3h0M262.1 694.2h0M393.3 723.5h0M361.3 771.4h0M335.9 700.4h0M237.9 745.3h0M263.1 785.5h0M323.8 781.5h0M276.5 780.0h0M409.8 760.9h0M270.8 785.4h0M307.0 796.2h0M316.8 786.6h0M327.2 788.4h0M400.9 736.7h0M282.8 792.0h0M264.6 714.1h0M346.1 688.3h0M277.6 690.4h0M261.5 727.8h0M400.7 729.5h0M225.9 761.4h0M352.5 786.0h0M274.2 722.8h0M258.1 718.7h0M409.9 775.8h0M325.7 700.7h0M243.5 704.7h0M252.5 790.1h0M350.1 779.1h0M363.3 705.5h0M264.2 685.4h0M367.8 770.9h0M292.9 701.5h0M222.9 771.4h0M455.2 783.0h0M434.5 741.7h0M290.3 791.5h0M357.2 779.7h0M248.7 696.3h0M259.5 777.3h0M286.7 708.3h0M300.5 701.5h0M382.8 714.7h0M207.9 739.0h0M345.2 709.1h0M416.7 749.5h0M298.0 696.5h0M289.4 704.4h0M399.5 748.5h0M242.1 767.6h0M399.5 724.4h0M299.5 700.3h0M391.4 704.0h0M403.3 728.5h0M228.5 751.5h0M366.8 792.1h0M258.0 717.0h0M273.4 775.6h0M328.5 697.2h0M326.7 793.2h0M419.7 690.4h0M384.4 735.3h0M347.3 783.2h0M288.4 792.6h0M303.0 790.4h0M337.7 691.7h0M238.6 775.1h0M348.8 796.7h0M408.7 761.3h0M260.1 730.5h0M228.4 782.9h0M340.3 690.6h0M337.1 702.6h0M352.0 792.4h0M369.9 787.0h0M408.9 756.8h0M256.2 731.9h0M393.0 725.5h0M279.5 798.9h0M364.9 769.3h0M353.2 696.4h0M326.0 705.9h0M289.3 709.6h0M432.4 712.9h0M325.7 788.1h0M250.1 774.8h0M410.7 745.4h0M421.9 735.4h0M400.7 754.4h0M303.5 791.5h0M248.1 706.1h0M320.6 698.9h0M442.8 730.1h0M247.7 727.9h0M412.5 706.1h0M413.6 702.9h0M251.9 736.5h0M391.5 743.1h0M347.0 688.6h0M294.5 784.3h0M267.9 792.2h0M274.7 777.2h0M228.0 724.0h0M325.4 704.0h0M297.1 680.7h0M332.1 783.1h0M224.7 759.2h0M323.5 698.3h0M209.5 746.8h0M278.1 790.8h0M322.4 781.5h0M261.8 782.4h0M277.5 685.7h0M245.6 754.5h0M394.7 768.5h0M351.4 701.3h0M324.7 790.5h0M215.1 747.7h0M254.8 738.1h0M391.3 730.5h0M408.6 744.5h0M412.4 691.5h0M339.7 705.1h0M315.0 790.2h0M408.6 728.7h0M309.7 703.6h0M307.8 786.3h0M333.3 790.4h0M251.4 776.6h0M396.5 710.6h0M352.0 708.5h0M418.5 744.8h0M307.1 696.0h0M257.1 722.6h0M399.3 778.5h0M418.8 754.4h0M318.5 695.2h0M342.7 695.3h0M436.7 753.1h0M399.1 727.4h0M425.6 733.7h0M345.0 795.2h0M293.3 706.8h0M280.7 713.2h0M228.2 754.0h0M257.7 777.4h0M394.4 756.3h0M279.7 708.1h0M228.6 769.8h0M354.8 784.5h0M389.9 771.7h0M267.3 706.3h0M199.4 778.0h0M224.5 728.1h0M316.1 788.4h0M392.0 775.2h0M247.2 726.9h0M319.4 701.0h0M311.9 688.1h0M299.1 683.8h0M275.8 784.0h0M387.4 758.6h0M311.2 702.7h0M284.2 780.7h0M396.2 774.5h0M279.5 792.4h0M370.4 778.2h0M271.1 708.7h0M229.2 776.3h0M286.9 706.7h0M278.5 691.9h0M325.8 783.4h0M274.3 673.3h0M244.2 746.6h0M283.0 793.7h0M215.4 711.6h0M416.9 748.0h0M323.3 698.6h0M322.4 781.2h0M264.2 708.6h0M269.7 710.7h0M309.9 782.7h0M396.4 762.5h0M423.4 731.5h0M243.5 711.3h0M373.8 712.8h0M234.5 782.4h0M364.6 716.6h0M316.6 705.2h0M345.8 700.4h0M336.9 682.5h0M364.3 780.2h0M251.6 771.9h0M311.4 781.8h0M242.6 717.0h0M353.1 691.1h0M360.6 774.2h0M368.9 769.1h0M240.4 767.1h0M350.7 707.2h0M268.0 777.6h0M424.5 727.6h0M333.8 685.4h0M395.4 738.3h0M316.1 781.1h0M399.5 756.8h0M285.0 779.2h0M243.1 764.0h0M233.3 762.6h0M265.0 786.2h0M353.6 710.6h0M262.9 789.5h0M363.5 768.2h0M327.9 781.3h0M402.1 753.6h0M359.6 780.4h0M395.0 705.8h0M218.7 729.9h0M237.6 730.1h0M270.1 723.7h0M362.7 680.6h0M212.9 774.6h0M254.5 779.3h0M395.8 701.7h0M399.8 753.9h0M438.2 734.8h0M419.5 681.2h0M212.5 737.9h0M234.9 762.3h0M369.0 779.5h0M317.7 669.2h0M354.5 695.8h0M399.3 712.8h0M359.3 770.4h0M243.9 742.6h0M452.5 750.2h0M241.6 716.8h0M398.7 694.8h0M346.4 713.9h0M318.6 793.5h0M394.8 730.4h0M363.2 772.6h0M408.4 735.7h0M216.8 736.0h0M310.9 706.8h0M245.7 717.1h0M270.9 713.8h0M380.1 767.1h0M392.0 720.4h0M274.8 715.3h0M237.0 759.6h0M266.6 708.8h0M384.3 735.9h0M398.8 748.2h0M244.5 780.4h0M329.6 788.4h0M314.0 675.7h0M352.4 791.5h0M379.0 707.8h0M398.7 747.4h0M396.2 712.5h0M405.6 736.5h0M206.7 743.9h0M227.6 745.5h0M361.7 701.1h0M415.8 716.8h0M361.1 693.8h0M312.0 705.1h0M245.5 730.0h0M366.0 787.5h0M322.3 701.0h0M344.7 710.0h0M242.5 761.6h0M256.3 793.6h0M260.9 726.0h0M274.8 721.1h0M338.4 699.1h0M241.3 776.8h0M216.1 722.1h0M372.2 777.4h0M376.8 778.3h0M319.0 792.1h0M276.8 719.3h0M267.9 781.2h0M348.4 690.1h0M304.9 699.0h0M211.3 784.9h0M345.4 714.2h0M323.1 778.4h0M307.8 786.1h0M390.3 735.5h0M240.7 719.9h0M289.4 711.3h0M363.9 716.7h0M214.4 768.4h0M425.7 700.0h0M349.3 793.6h0M355.2 788.3h0M327.7 704.0h0M337.3 694.1h0M401.9 772.7h0M320.3 693.3h0M373.7 705.6h0M251.7 717.7h0M365.5 706.9h0M279.5 802.5h0M354.7 782.3h0M373.0 771.9h0M329.9 701.3h0M231.2 746.1h0M354.9 778.8h0M317.2 703.1h0M414.5 784.0h0M442.7 727.8h0M420.0 721.4h0M247.7 756.6h0M416.3 722.0h0M332.3 687.0h0M346.7 783.3h0M329.7 785.7h0M257.8 736.6h0M400.3 726.7h0M370.5 770.9h0M391.5 740.1h0M394.4 739.7h0M361.6 797.3h0M391.9 772.7h0M246.5 757.3h0M337.2 694.0h0M343.1 785.6h0M414.4 736.8h0M367.3 698.3h0M335.8 689.2h0M238.3 741.1h0M257.5 736.5h0M323.1 791.7h0M264.5 712.7h0M263.1 782.7h0M412.9 712.1h0M336.3 789.2h0M411.4 760.7h0M270.7 723.3h0M211.0 759.1h0M401.3 682.1h0M244.4 758.6h0M300.6 783.8h0M404.3 729.8h0M363.6 707.5h0M388.4 756.2h0M405.7 698.9h0M378.7 708.6h0M268.3 614.9h0M259.1 779.9h0M245.3 770.5h0M398.0 766.2h0M330.8 669.0h0M250.4 773.8h0M248.9 770.4h0M385.0 761.5h0M257.8 777.6h0M223.8 743.6h0M367.4 694.3h0M448.8 696.1h0M409.6 749.3h0M404.1 676.3h0M254.5 729.3h0M242.8 741.4h0M291.0 781.7h0M366.3 711.1h0M288.3 783.2h0M337.8 784.0h0M329.8 696.5h0M367.4 766.7h0M231.9 771.2h0M304.7 786.1h0M360.7 713.1h0M241.1 717.1h0M376.2 698.8h0M227.2 724.5h0M389.0 715.0h0M377.2 771.0h0M276.7 712.9h0M295.9 787.2h0M229.4 724.2h0M227.9 746.1h0M219.4 695.1h0M318.3 695.1h0M385.5 761.2h0M379.9 708.6h0M413.2 753.2h0M374.1 695.1h0M323.6 792.6h0M260.6 728.2h0M336.5 703.5h0M412.4 730.9h0M324.0 680.6h0M391.7 740.3h0M247.8 756.1h0M371.9 714.5h0M274.9 721.8h0M371.1 708.5h0M228.2 762.5h0M373.0 660.9h0M223.6 769.7h0M326.7 785.0h0M302.2 697.3h0M289.8 780.5h0M252.7 672.1h0M258.1 689.1h0M226.1 754.2h0M345.7 685.9h0M211.8 752.7h0M410.5 765.9h0M328.4 782.7h0M383.4 711.0h0M328.6 704.2h0M287.1 784.3h0M411.9 724.3h0M410.9 770.3h0M385.7 766.3h0M370.0 785.4h0M312.9 791.5h0M381.5 762.2h0M347.7 665.5h0M410.9 721.8h0M301.7 646.8h0M364.9 705.4h0M283.4 785.6h0M413.2 744.3h0M383.8 704.5h0M320.8 798.6h0M214.2 763.3h0M394.3 749.3h0M249.9 701.0h0M263.0 782.9h0M364.5 688.3h0M386.9 727.2h0M399.1 752.5h0M241.6 779.2h0M234.1 731.1h0M289.9 790.7h0M360.3 773.7h0M389.4 724.4h0M410.4 760.0h0M341.3 784.6h0M266.1 727.5h0M424.4 737.7h0M237.4 739.2h0M316.2 779.9h0M312.3 701.6h0M401.0 728.2h0M390.7 770.0h0M324.7 787.1h0M387.8 700.2h0M378.8 712.5h0M398.7 721.5h0M335.0 705.6h0M405.4 736.9h0M262.1 719.6h0M277.2 707.2h0M318.4 780.7h0M399.5 764.8h0M270.4 722.7h0M254.2 712.4h0M392.6 727.3h0M372.1 690.5h0M392.8 703.1h0M236.9 723.1h0M322.5 707.4h0M411.9 753.3h0M247.3 778.3h0M270.6 779.6h0M327.3 787.5h0M352.0 793.0h0M398.3 765.0h0M243.8 738.4h0M296.4 785.3h0M366.7 768.6h0M426.0 705.1h0M218.2 748.4h0M320.5 703.5h0M324.0 690.6h0M222.2 718.4h0M312.1 694.3h0M353.8 788.5h0M399.3 756.3h0M373.7 777.5h0M274.6 776.2h0M320.7 783.9h0M367.3 714.2h0M416.1 775.8h0M371.9 697.1h0M315.5 704.0h0M204.8 774.6h0M235.2 764.4h0M369.7 697.3h0M219.1 780.9h0M386.2 692.5h0M233.5 763.9h0M361.7 770.9h0M362.1 705.3h0M264.7 800.9h0M355.7 699.1h0M275.6 776.0h0M283.0 697.3h0M416.6 741.3h0M258.8 811.6h0M355.3 707.7h0M420.5 739.3h0M325.5 788.0h0M273.8 774.3h0M270.8 701.6h0M427.1 743.9h0M241.7 766.3h0M302.0 796.8h0M379.3 711.7h0M271.7 723.7h0M259.0 700.4h0M366.7 699.8h0M393.5 751.0h0M313.0 694.0h0M265.6 794.7h0M225.5 744.9h0M381.4 712.4h0M354.1 682.7h0M268.1 787.3h0M267.1 724.4h0M396.7 755.3h0M362.3 698.8h0M286.1 704.0h0M412.0 721.8h0M340.0 795.8h0M224.8 781.2h0M328.6 695.2h0M336.2 689.7h0M381.0 695.0h0M385.5 719.8h0M274.4 783.5h0M355.6 786.9h0M235.6 776.7h0M316.5 781.8h0M387.1 760.2h0M348.3 789.6h0M373.6 770.6h0M261.8 718.3h0M382.3 771.1h0M255.8 724.1h0M313.6 702.8h0M255.1 735.9h0M380.0 706.8h0M319.3 790.8h0M356.6 694.7h0M367.3 766.9h0M392.0 712.7h0M323.6 788.6h0M348.7 696.6h0M204.6 727.3h0M389.0 719.9h0M345.5 712.8h0M336.5 787.3h0M314.8 787.5h0M256.6 788.9h0M371.6 770.9h0M263.6 725.4h0M240.6 689.5h0M255.3 720.8h0M411.9 750.6h0M360.8 787.0h0M388.3 719.7h0M414.5 748.2h0M397.6 748.6h0M364.6 707.0h0M233.3 767.6h0M392.8 727.2h0M324.4 812.0h0M347.9 714.7h0M329.7 783.2h0M242.9 758.6h0M384.1 775.3h0M296.6 790.3h0M382.8 716.4h0M347.9 698.0h0M252.1 742.0h0M239.7 763.0h0M290.7 698.0h0M295.6 787.6h0M404.5 765.3h0M336.7 682.4h0M374.8 713.1h0M347.8 703.1h0M330.4 693.8h0M241.4 737.2h0M327.6 681.3h0M268.4 662.7h0M317.5 699.7h0M245.8 754.4h0M265.0 778.5h0M389.4 710.1h0M264.2 720.2h0M238.4 791.8h0M297.2 793.8h0M358.0 776.6h0M368.0 697.8h0M389.0 717.9h0M289.9 682.9h0M393.9 761.8h0M242.3 722.8h0M253.9 705.9h0M379.7 764.4h0M318.6 681.8h0M299.7 794.2h0M372.0 705.8h0M305.2 676.6h0M390.5 733.0h0M231.2 766.5h0M435.5 738.8h0M364.4 770.4h0M392.3 761.3h0M258.2 705.0h0M327.9 784.5h0M287.4 710.3h0M388.8 758.8h0M273.6 784.2h0M286.6 701.9h0M377.9 690.2h0M441.9 726.3h0M380.7 693.1h0M240.5 760.3h0M387.6 760.1h0M210.1 776.6h0M318.1 784.8h0M264.4 728.5h0M323.1 778.4h0M226.6 740.5h0M364.5 764.4h0M281.0 690.8h0M333.1 705.7h0M228.3 725.2h0M392.4 729.7h0M405.0 754.7h0M273.9 788.6h0M307.6 693.8h0M405.5 717.7h0M333.2 699.8h0M288.7 697.1h0M293.3 706.5h0M298.5 789.7h0M266.2 778.7h0M374.7 703.7h0M288.1 780.0h0M375.4 703.8h0M293.1 699.3h0M393.5 731.4h0M430.6 748.7h0M400.8 726.6h0M338.6 781.7h0M238.4 774.6h0M229.5 790.8h0M255.5 708.3h0M322.0 788.8h0M372.7 690.1h0M327.6 697.8h0M398.5 769.7h0M311.1 683.0h0M233.7 723.6h0M311.9 705.1h0M295.1 701.0h0M274.1 694.5h0M308.8 700.7h0M278.2 715.4h0M290.0 713.8h0M368.1 693.5h0M327.1 783.7h0M395.0 761.9h0M253.1 731.6h0M437.6 734.0h0M398.8 737.7h0M265.1 790.3h0M418.6 709.5h0M228.0 739.2h0M400.3 740.2h0M367.7 672.8h0M349.5 788.8h0M245.9 751.6h0M330.4 701.5h0M371.4 776.0h0M283.9 705.2h0M234.6 759.4h0M411.9 741.5h0M311.1 707.1h0M381.1 688.6h0M360.3 768.3h0M230.8 747.2h0M307.4 791.6h0M375.8 770.2h0M389.3 762.2h0M265.2 777.5h0M357.8 780.2h0M243.2 697.0h0M280.6 715.9h0M392.1 756.0h0M257.9 726.2h0M382.7 703.5h0M356.1 694.0h0M263.7 715.5h0M317.2 794.7h0M222.6 781.4h0M272.5 710.6h0M395.1 751.8h0M333.9 696.2h0M254.5 797.9h0M286.5 706.5h0M272.0 711.9h0M420.1 759.9h0M220.6 768.6h0M292.7 785.1h0M236.8 727.4h0M320.7 683.5h0M444.0 717.8h0M385.9 722.5h0M318.0 794.3h0M238.0 762.3h0M397.7 741.0h0M388.5 736.9h0M389.3 709.0h0M361.6 710.8h0M231.8 774.8h0M348.1 792.9h0M351.4 696.5h0M232.7 770.8h0M280.3 716.8h0M336.9 693.5h0M368.2 681.1h0M310.6 789.0h0M285.7 784.7h0M336.2 707.0h0M322.2 703.8h0M431.5 737.6h0M365.1 782.1h0M219.4 785.9h0M288.2 792.1h0M280.6 785.7h0M253.9 710.5h0M236.3 746.0h0M404.3 775.3h0M243.5 756.6h0M256.4 722.6h0M388.7 732.2h0M293.2 703.9h0M371.5 782.9h0M322.6 709.2h0M224.4 714.9h0M352.1 789.3h0M288.1 780.9h0M393.2 768.6h0M278.7 685.0h0M385.2 718.8h0M399.9 723.6h0M383.7 767.9h0M369.4 785.6h0M279.0 780.8h0M279.2 789.3h0M305.9 685.3h0M313.0 787.0h0M361.2 701.8h0M248.8 727.2h0M395.1 764.1h0M313.0 698.8h0M363.7 690.1h0M391.9 769.7h0M278.0 681.3h0M298.1 789.0h0M392.3 739.4h0M397.0 762.1h0M401.1 748.9h0M255.0 780.3h0M279.5 787.7h0M275.3 704.9h0M311.2 702.1h0M296.4 709.7h0M365.3 707.2h0M381.9 794.5h0M395.3 736.0h0M322.5 688.2h0M374.3 776.0h0M251.6 717.7h0M253.4 714.1h0M387.0 725.1h0M247.0 753.4h0M397.9 719.1h0M281.3 709.6h0M252.8 716.1h0M267.6 710.5h0M227.8 749.0h0M246.9 746.8h0M219.4 750.2h0M307.3 782.8h0M399.7 730.2h0M398.8 702.9h0M380.7 775.4h0M220.3 779.1h0M405.4 759.1h0M392.4 731.6h0M261.8 775.9h0M218.4 733.8h0M338.8 703.9h0M399.3 734.8h0M350.4 697.0h0M260.5 708.9h0M275.7 706.8h0M383.9 720.4h0M365.9 715.4h0M289.1 672.9h0M243.7 750.3h0M378.0 695.8h0M243.8 750.0h0M257.4 779.0h0M402.9 771.6h0M248.0 771.8h0M406.2 756.1h0M359.2 708.2h0M304.2 789.0h0M364.1 777.1h0M382.7 717.5h0M389.7 760.9h0M245.8 743.5h0M415.2 753.0h0M368.2 766.6h0M318.2 793.2h0M393.8 600.5h0M296.3 705.2h0M346.7 785.1h0M316.6 779.8h0M305.7 693.0h0M323.8 778.0h0M377.1 710.8h0M254.5 734.0h0M319.4 784.0h0M412.1 736.7h0M318.5 707.4h0M366.8 771.4h0M432.8 779.2h0M261.2 667.5h0M380.5 717.4h0M234.2 694.7h0M435.3 733.6h0M363.2 792.4h0M378.5 694.9h0M384.4 771.8h0M241.3 765.2h0M313.1 784.2h0M301.5 783.6h0M320.0 708.3h0M366.2 769.6h0M411.4 782.3h0M250.5 717.4h0M344.9 786.9h0M364.5 702.0h0M370.1 779.6h0M385.1 734.2h0M242.1 778.5h0M421.5 584.7h0M347.5 683.7h0M259.2 783.6h0M419.0 725.7h0M327.7 702.2h0M261.9 780.2h0M324.3 689.7h0M371.3 706.1h0M310.5 679.1h0M386.4 738.7h0M326.4 801.3h0M370.2 719.4h0M272.8 780.8h0M388.6 731.1h0M310.2 702.7h0M275.3 784.3h0M258.0 724.6h0M258.8 707.6h0M237.0 785.5h0M239.2 780.8h0M208.1 776.8h0M234.0 781.4h0M399.5 727.9h0M244.5 763.6h0M357.7 704.4h0M337.5 699.5h0M397.4 761.8h0M283.9 793.3h0M386.5 722.7h0M287.7 713.0h0M359.5 772.0h0M362.0 766.4h0M343.7 707.5h0M332.2 800.9h0M394.9 742.2h0M300.6 783.0h0M280.7 712.0h0M404.2 665.6h0M393.0 758.9h0M333.7 703.2h0M299.7 789.1h0M408.4 718.7h0M229.6 750.9h0M449.4 744.5h0M231.1 746.0h0M303.7 784.8h0M258.0 739.8h0M235.9 764.0h0M314.1 701.6h0M393.4 730.6h0M440.9 734.6h0M360.5 779.8h0M424.3 732.0h0M237.6 761.5h0M242.4 771.9h0M409.4 723.7h0M323.9 694.7h0M308.7 678.9h0M377.1 765.4h0M251.3 740.9h0M261.0 708.2h0M269.7 788.7h0M326.7 788.4h0M329.1 784.8h0M364.0 766.2h0M407.6 755.4h0M240.4 784.7h0M332.0 700.6h0M245.3 716.7h0M403.7 749.5h0M405.5 742.6h0M394.0 715.5h0M282.2 708.8h0M233.4 714.6h0M317.0 783.2h0M278.0 717.5h0M316.5 785.1h0M258.8 697.8h0M434.5 754.0h0M294.6 785.2h0M305.3 783.7h0M288.7 700.9h0M386.0 720.5h0M251.6 786.3h0M301.4 700.5h0M258.7 719.3h0M355.8 699.4h0M226.3 773.0h0M400.8 757.5h0M366.3 775.3h0M338.9 782.6h0M380.7 719.7h0M320.0 796.0h0M314.2 780.0h0M418.8 712.6h0M285.9 712.4h0M273.1 783.1h0M403.9 719.0h0M322.4 777.6h0M324.3 696.6h0M270.1 718.0h0M289.9 781.2h0M291.4 700.1h0M322.7 688.0h0M268.1 694.5h0M293.7 786.2h0M349.4 684.5h0M342.3 698.1h0M291.0 691.3h0M360.3 775.0h0M312.4 695.1h0M249.7 709.8h0M367.5 713.0h0M395.6 710.1h0M399.6 720.1h0M277.0 695.4h0M396.1 753.0h0M355.4 706.3h0M235.7 764.9h0M276.9 719.3h0M271.6 785.3h0M388.4 728.7h0M328.5 698.3h0M267.2 721.4h0M427.3 626.8h0M237.9 730.3h0M412.9 772.1h0M290.8 790.4h0M256.1 715.6h0M334.7 691.0h0M275.5 712.7h0M351.3 690.8h0M416.7 735.4h0M235.0 781.5h0M297.5 706.8h0M281.6 699.8h0M239.4 767.4h0M252.9 774.9h0M371.9 707.3h0M298.5 799.7h0M282.3 709.2h0M242.8 770.1h0M238.5 748.5h0M276.6 712.7h0M239.2 702.2h0M304.6 704.6h0M381.7 761.2h0M223.5 731.1h0M322.8 777.4h0M274.0 791.7h0M215.2 764.2h0M250.3 719.5h0M206.0 751.3h0M234.3 736.5h0M281.6 699.7h0M356.1 707.8h0M338.4 789.8h0M395.5 785.1h0M391.4 727.4h0M232.2 727.1h0M372.5 704.1h0M329.4 801.4h0M347.3 707.3h0M387.5 730.5h0M315.5 778.4h0M220.0 778.0h0M336.6 790.6h0M417.3 730.7h0M294.2 786.3h0M308.7 687.5h0M265.8 781.3h0M403.1 733.2h0M362.0 771.6h0M303.0 789.1h0M250.0 726.7h0M306.5 700.5h0M426.6 746.8h0M357.2 692.4h0M388.1 704.5h0M375.2 780.7h0M246.2 696.8h0M310.0 703.4h0M364.5 767.3h0M277.2 701.0h0M239.6 735.9h0M438.3 753.0h0M428.9 754.5h0M233.9 741.7h0M275.0 776.2h0M267.1 696.4h0M373.7 713.5h0M244.6 754.6h0M268.9 698.5h0M386.3 724.6h0M380.7 698.6h0M406.5 726.7h0M401.2 744.1h0M394.8 766.2h0M367.0 772.6h0M294.1 704.9h0M404.5 737.7h0M258.5 729.6h0M334.1 702.8h0M347.8 801.0h0M407.1 746.4h0M250.6 699.1h0M300.1 690.0h0M294.6 784.1h0M410.4 744.4h0M379.6 717.6h0M302.9 705.6h0M223.8 758.9h0M245.5 771.0h0M275.5 777.8h0M403.9 731.5h0M297.2 794.1h0M240.3 785.0h0M283.8 789.6h0M212.7 764.9h0M300.6 657.5h0M261.7 730.7h0M282.5 711.6h0M254.9 731.6h0M277.3 782.1h0M397.3 740.2h0M343.4 692.2h0M316.8 707.5h0M263.0 728.4h0M265.1 777.1h0M341.5 682.4h0M313.2 667.2h0M389.8 728.8h0M376.3 785.0h0M376.0 785.6h0M269.2 723.1h0M343.1 709.6h0M364.9 695.4h0M277.6 778.1h0M332.3 696.6h0M407.8 728.2h0M384.8 714.4h0M389.3 760.9h0M374.3 692.2h0M310.7 704.8h0M295.7 788.1h0M394.8 742.0h0M222.6 780.9h0M416.1 755.6h0M279.1 709.7h0M366.5 717.2h0M439.5 744.3h0M351.5 709.1h0M237.6 729.8h0M350.4 669.4h0M390.3 701.5h0M220.3 718.4h0M233.9 779.3h0M394.1 766.1h0M255.9 729.8h0M221.2 711.1h0M276.9 776.3h0M326.6 800.7h0M331.5 782.6h0M300.2 705.4h0M355.5 693.6h0M278.7 719.4h0M282.2 779.3h0M359.4 771.0h0M270.6 795.0h0M373.6 696.5h0M273.7 702.9h0M428.3 761.3h0M389.8 705.0h0M402.9 747.3h0M229.8 757.0h0M386.8 720.1h0M244.7 762.9h0M310.8 789.6h0M386.4 712.1h0M402.0 719.5h0M233.9 762.3h0M367.1 707.2h0M231.6 740.3h0M412.5 755.4h0M407.7 697.9h0M377.9 766.2h0M335.8 785.5h0M288.9 801.6h0M281.1 716.5h0M314.9 705.2h0M340.6 706.1h0M272.5 778.5h0M248.8 752.9h0M395.6 777.1h0M387.4 703.7h0M369.5 710.5h0M393.9 635.6h0M390.4 684.4h0M408.4 710.5h0M399.7 747.5h0M350.7 779.4h0M315.3 706.1h0M256.0 780.6h0M327.7 705.5h0M230.2 776.9h0M429.1 754.5h0M390.2 777.0h0M288.7 691.1h0M334.9 708.1h0M397.0 778.0h0M279.0 716.2h0M415.2 737.9h0M282.3 778.0h0M268.4 783.3h0M292.2 798.1h0M284.9 792.8h0M252.4 740.2h0M349.2 698.4h0M358.9 784.5h0M293.4 792.3h0M234.3 770.8h0M244.1 755.3h0M269.2 708.0h0M352.2 782.0h0M286.3 791.0h0M258.7 722.1h0M391.9 763.6h0M264.7 723.1h0M420.1 738.6h0M251.2 797.5h0M290.0 699.5h0M304.3 781.4h0M384.1 723.3h0M410.5 727.9h0M330.4 687.9h0M318.0 701.5h0M267.7 713.5h0M220.0 774.0h0M374.9 710.1h0M399.2 742.9h0M330.3 680.6h0M273.4 718.6h0M360.5 685.8h0M364.5 708.2h0M375.0 706.7h0M378.5 711.8h0M317.8 697.1h0M258.3 721.2h0M402.5 720.8h0M247.8 768.6h0M297.6 701.3h0M319.3 783.0h0M432.7 758.1h0M341.6 679.7h0M264.1 775.0h0M319.0 674.6h0M399.2 750.0h0M409.4 751.7h0M406.0 731.8h0M332.0 575.4h0M391.3 673.0h0M257.9 722.5h0M299.5 679.5h0M367.2 765.5h0M363.1 711.9h0M380.7 682.9h0M354.2 781.8h0M354.9 711.5h0M217.0 720.4h0M342.9 691.7h0M259.0 726.7h0M393.0 742.3h0M403.6 755.1h0M313.4 692.7h0M269.6 720.5h0M329.2 700.3h0M232.1 760.8h0M218.9 761.3h0M387.0 735.4h0M328.8 692.8h0M389.4 741.5h0M389.5 770.5h0M342.3 683.5h0M411.9 747.5h0M269.0 713.6h0M398.9 761.7h0M360.7 690.6h0M309.1 779.5h0M319.9 694.8h0M408.0 726.5h0M268.1 790.1h0M237.5 733.4h0M253.1 777.9h0M442.1 743.5h0M236.0 754.7h0M271.9 718.5h0M372.5 773.4h0M356.4 702.5h0M288.0 781.3h0M339.5 785.8h0M399.8 709.4h0M331.2 703.9h0M295.9 690.9h0M228.3 772.8h0M408.6 755.3h0M201.3 716.8h0M386.5 719.2h0M397.8 714.1h0M219.5 776.9h0M287.6 706.2h0M244.6 766.5h0M381.8 711.4h0M270.5 790.8h0M318.5 783.4h0M417.9 750.2h0M403.0 769.5h0M240.0 765.7h0M370.8 704.9h0M379.1 713.8h0M389.7 706.7h0M314.9 697.0h0M357.1 787.4h0M428.2 743.1h0M425.1 732.6h0M270.5 712.0h0M368.9 783.6h0M421.7 742.5h0M418.8 712.0h0M310.5 791.4h0M411.5 747.2h0M395.6 709.6h0M241.3 720.8h0M391.0 761.9h0M364.1 773.1h0M246.0 766.0h0M344.8 695.0h0M232.6 751.8h0M308.2 781.6h0M407.3 758.4h0M271.7 710.6h0M367.5 702.1h0M330.2 682.8h0M294.3 704.1h0M395.4 763.7h0M415.5 723.8h0M326.9 786.4h0M281.9 778.6h0M359.6 709.5h0M332.6 693.7h0M408.1 706.6h0M327.1 784.4h0M305.4 798.8h0M279.4 713.2h0M363.2 771.5h0M360.3 786.5h0M336.1 591.8h0M382.0 695.3h0M399.3 770.8h0M404.2 763.3h0M321.2 698.7h0M383.0 719.4h0M315.1 704.5h0M388.1 763.8h0M312.8 699.6h0M276.2 777.8h0M278.5 694.6h0M383.7 712.6h0M328.7 692.5h0M424.7 739.9h0M242.3 721.7h0M264.7 720.5h0M344.5 697.8h0M422.1 751.3h0M270.0 776.7h0M249.0 774.8h0M241.1 709.1h0M309.5 789.7h0M341.2 782.6h0M403.5 772.5h0M329.2 698.1h0M424.9 715.2h0M326.0 706.5h0M238.3 770.6h0M354.1 688.9h0M257.0 708.7h0M189.5 727.1h0M312.4 706.6h0M249.9 720.2h0M361.7 780.6h0M392.6 721.3h0M392.9 794.9h0M269.5 779.2h0M276.6 717.3h0M250.5 729.6h0M233.4 773.0h0M246.5 776.4h0M379.9 778.1h0M417.8 752.2h0M419.9 710.8h0M390.2 759.8h0M293.6 790.2h0M373.0 697.6h0M361.1 773.9h0M435.9 752.3h0M392.7 769.4h0M399.2 744.7h0M355.5 695.4h0M256.3 705.2h0M404.3 733.0h0M258.6 780.0h0M293.5 704.5h0M257.6 727.0h0M397.0 718.6h0M317.4 665.2h0M420.3 770.1h0M384.8 760.6h0M331.7 798.0h0M293.5 676.0h0M344.2 784.6h0M403.4 731.7h0M267.9 781.2h0M264.0 777.6h0M379.4 718.2h0M357.6 663.0h0M244.1 717.0h0M330.4 793.4h0M382.4 763.6h0M346.1 692.7h0M371.2 679.0h0M304.7 706.0h0M269.8 718.3h0M202.1 762.9h0M331.3 696.0h0M235.9 707.4h0M291.6 701.3h0M442.5 771.9h0M380.3 719.3h0M353.5 792.5h0M267.2 714.4h0M403.8 697.8h0M232.2 791.8h0M241.2 767.2h0M213.7 765.7h0M335.4 699.0h0M238.3 737.9h0M276.4 711.0h0M279.7 784.3h0M385.8 718.8h0M430.4 736.6h0M303.4 706.4h0M396.5 758.6h0M227.2 735.6h0M409.4 781.5h0M394.2 710.1h0M238.3 781.2h0M244.6 733.4h0M314.3 791.0h0M407.5 747.7h0M219.9 761.0h0M237.1 761.1h0M366.1 715.1h0M412.1 769.3h0M388.9 734.6h0M415.8 718.8h0M322.3 788.1h0M208.5 788.5h0M407.2 738.8h0M415.2 755.5h0M370.6 698.1h0M349.1 705.8h0M267.8 685.8h0M301.1 783.1h0M415.2 734.5h0M319.2 705.8h0M260.4 704.6h0M208.8 749.1h0M318.8 794.7h0M317.8 789.0h0M291.3 688.7h0M316.9 696.7h0M306.3 783.6h0M385.2 765.2h0M404.3 758.6h0M242.2 757.0h0M343.2 705.6h0M292.8 787.6h0M223.7 755.5h0M269.5 680.2h0M299.7 697.5h0M313.6 703.0h0M306.3 789.6h0M371.4 698.0h0M281.5 707.6h0M239.2 735.1h0M364.0 714.5h0M246.0 789.4h0M288.4 781.6h0M316.3 701.8h0M306.7 684.2h0M388.9 762.7h0M280.1 707.7h0M362.0 694.4h0M394.4 737.0h0M244.3 742.9h0M242.0 756.8h0M242.8 773.5h0M424.8 766.3h0M277.2 692.9h0M271.4 723.1h0M382.9 711.4h0M309.0 684.6h0M244.1 759.6h0M332.6 787.2h0M237.1 723.7h0M280.4 694.6h0M308.2 688.7h0M364.2 695.6h0M342.9 710.2h0M329.3 674.0h0M274.4 719.1h0M245.6 780.4h0M405.9 761.8h0M335.2 794.5h0M418.5 701.4h0M339.4 695.5h0M261.4 781.9h0M285.6 709.7h0M222.3 760.5h0M277.8 707.4h0M392.0 653.9h0M338.6 706.8h0M312.4 794.7h0M247.4 738.6h0M326.3 704.5h0M313.9 787.9h0M288.3 783.9h0M377.8 673.8h0M236.9 740.7h0M289.7 784.8h0M243.9 730.8h0M250.0 721.5h0M312.6 786.9h0M370.9 700.6h0M317.6 701.0h0M391.8 759.1h0M244.9 757.1h0M322.0 709.1h0M376.1 687.9h0M416.7 717.4h0M400.6 725.0h0M317.8 687.9h0M407.1 693.4h0M284.8 798.8h0M268.9 782.9h0M261.1 702.4h0M253.9 741.5h0M324.7 703.7h0M390.8 710.8h0M349.6 707.5h0M296.7 788.3h0M393.4 767.8h0M365.7 768.3h0M232.8 718.3h0M360.7 711.5h0M244.8 725.9h0M436.7 723.7h0M299.1 704.0h0M375.3 790.1h0M353.9 683.5h0M278.4 781.4h0M341.5 785.4h0M386.9 712.0h0M407.8 721.5h0M306.8 788.1h0M354.8 684.1h0M353.7 777.3h0M379.9 767.8h0M292.4 701.3h0M352.4 781.1h0M249.0 771.2h0M341.1 786.4h0M336.5 697.8h0M311.7 797.2h0M286.9 711.8h0M266.6 798.3h0M351.0 780.5h0M355.5 778.1h0M414.7 744.3h0M229.9 707.1h0M292.0 787.3h0M361.5 683.7h0M384.1 763.9h0M354.9 703.7h0M366.9 764.1h0M409.2 752.3h0M247.2 775.0h0M312.9 684.6h0M278.1 714.0h0M451.4 736.7h0M354.1 709.2h0M377.6 770.7h0M403.0 761.8h0M198.4 749.0h0M381.4 702.9h0M288.6 696.4h0M420.5 752.7h0M332.7 705.8h0M231.5 739.7h0M317.7 790.4h0M395.2 723.2h0M311.9 783.0h0M406.8 765.3h0M259.0 731.0h0M346.2 679.2h0M398.4 748.2h0M293.4 790.5h0M316.4 682.4h0M209.4 735.2h0M347.9 711.7h0M397.4 772.8h0M319.9 789.4h0M398.4 726.6h0M423.4 733.9h0M293.6 791.9h0M396.6 727.9h0M309.2 688.9h0M267.0 707.2h0M330.2 784.4h0M401.2 754.0h0M251.4 728.7h0M254.1 791.4h0M348.1 699.7h0M244.1 777.2h0M312.7 689.1h0M241.6 776.2h0M363.7 700.6h0M270.3 780.3h0M241.0 749.9h0M277.9 690.0h0M405.9 746.1h0M320.6 702.1h0M238.4 751.9h0M254.8 786.3h0M333.8 690.2h0M265.0 696.6h0M364.6 700.4h0M279.8 783.9h0M421.2 722.2h0M237.2 756.7h0M355.4 672.6h0M243.5 728.6h0M247.4 737.1h0M302.4 703.2h0M395.3 707.8h0M253.2 700.5h0M304.6 683.5h0M405.4 748.2h0M397.4 768.3h0M357.5 687.1h0M403.1 744.0h0M412.2 750.6h0M380.8 770.0h0M336.8 707.5h0M398.8 761.6h0M318.4 692.9h0M334.5 701.1h0M289.5 697.9h0M353.6 685.5h0M416.9 758.3h0M253.2 710.8h0M387.1 757.2h0M237.7 698.5h0M328.7 782.8h0M420.3 701.2h0M402.4 754.3h0M261.4 729.3h0M245.5 739.8h0M391.0 761.1h0M271.2 711.6h0M360.7 702.0h0M301.8 786.4h0M396.8 739.6h0M238.8 778.9h0M353.9 779.3h0M246.2 744.2h0M327.8 793.8h0M319.6 785.0h0M246.1 768.1h0M338.0 698.5h0M383.3 723.1h0M235.1 754.1h0M241.1 777.1h0M414.5 714.8h0M379.1 702.3h0M251.6 734.4h0M305.4 699.0h0M389.8 755.2h0M294.2 799.9h0M371.3 677.9h0M244.8 768.9h0M428.9 747.7h0M252.1 725.9h0M302.2 686.4h0M356.7 780.3h0M216.8 729.1h0M234.7 785.3h0M290.5 711.9h0M364.6 780.5h0M277.4 703.5h0M245.2 710.6h0M226.2 750.8h0M363.3 704.4h0M239.9 760.0h0M375.9 688.9h0M308.4 783.4h0M415.2 722.5h0M321.0 688.9h0M242.7 716.8h0M410.2 732.8h0M287.9 784.9h0M249.0 778.7h0M384.8 711.8h0M220.8 758.0h0M391.6 728.6h0M407.6 746.9h0M379.2 695.1h0M227.0 782.2h0M298.6 796.1h0M311.3 779.9h0M195.4 731.3h0M376.2 768.5h0M396.1 752.5h0M250.2 784.6h0M382.0 705.6h0M363.9 785.1h0M221.5 740.4h0M240.3 772.8h0M299.4 682.8h0M412.6 710.5h0M261.9 710.0h0M273.3 789.6h0M263.7 782.7h0M355.5 708.8h0M410.0 766.5h0M274.5 706.1h0M394.5 764.9h0M300.7 705.3h0M293.3 695.2h0M405.9 718.1h0M327.0 782.6h0M390.3 729.5h0M248.6 774.6h0M236.4 775.5h0M219.0 757.2h0M422.2 722.6h0M391.8 773.7h0M363.4 715.3h0M358.6 701.9h0M226.2 756.2h0M387.7 716.7h0M392.7 694.6h0M428.3 729.1h0M272.6 667.3h0M400.0 735.5h0M390.7 719.7h0M343.8 707.0h0M312.7 803.9h0M262.6 710.2h0M395.7 770.1h0M224.9 717.0h0M397.8 773.9h0M368.8 780.2h0M342.5 699.6h0M240.0 760.4h0M234.3 773.2h0M243.2 753.1h0M316.6 699.0h0M348.1 791.2h0M368.5 774.5h0M270.4 776.4h0M345.9 701.2h0M330.0 698.5h0M314.6 800.3h0M241.0 756.6h0M208.4 726.8h0M419.7 718.8h0M200.9 765.0h0M260.5 793.4h0M385.1 773.6h0M250.2 751.1h0M269.8 689.3h0M373.3 772.5h0M277.2 713.3h0M308.7 784.0h0M302.0 699.1h0M229.2 769.0h0M350.3 779.2h0M236.0 733.7h0M399.1 750.0h0M269.2 786.0h0M277.5 715.5h0M404.5 766.3h0M399.1 745.7h0M362.4 704.6h0M251.5 785.0h0M277.8 710.0h0M272.9 787.4h0M254.0 732.7h0M332.6 689.8h0M249.4 775.1h0M326.7 695.8h0M298.1 688.5h0M367.6 712.5h0M393.1 767.7h0M398.6 752.2h0M261.6 689.3h0M350.9 790.1h0M247.6 786.6h0M266.7 782.4h0M264.6 720.0h0M314.8 704.5h0M369.0 717.2h0M283.2 706.4h0M385.0 719.8h0M278.4 803.9h0M334.1 708.9h0M377.4 787.0h0M388.1 731.3h0M222.7 775.0h0M245.7 741.7h0M286.2 702.8h0M323.9 792.2h0M367.8 712.4h0M266.4 783.1h0M244.4 776.5h0M390.6 716.9h0M345.5 713.1h0M335.7 798.8h0M406.9 714.5h0M208.2 747.2h0M365.0 705.5h0M303.4 684.7h0M317.7 786.4h0M400.0 729.9h0M246.4 774.2h0M269.6 707.4h0M378.0 769.5h0M345.1 709.8h0M236.2 726.8h0M286.8 711.1h0M271.3 704.0h0M228.0 735.1h0M320.8 693.3h0M229.3 718.9h0M399.2 735.1h0M364.7 792.4h0M247.5 768.6h0M246.7 756.7h0M322.2 780.2h0M350.9 709.1h0M261.8 726.5h0M227.4 764.9h0M257.4 728.6h0M263.2 790.5h0M259.8 714.9h0M406.9 771.2h0M240.6 780.9h0M403.6 757.4h0M218.8 707.3h0M409.9 702.2h0M249.0 754.9h0M256.4 740.2h0M417.8 729.7h0M297.9 656.3h0M284.0 710.6h0M230.3 755.5h0M374.8 773.6h0" stroke="#000" stroke-opacity="0.55" stroke-width="2.9" stroke-linecap="round" fill="none"/><path d="M431.0 714.8h0M269.8 694.7h0M233.4 709.5h0M391.9 771.4h0M420.5 751.9h0M411.6 684.9h0M413.3 711.2h0M456.9 697.3h0M227.7 764.3h0M250.5 783.6h0M358.6 709.1h0M188.2 769.8h0M261.1 700.8h0M323.7 706.1h0M332.4 675.3h0M293.0 784.0h0M303.7 791.0h0M405.9 709.1h0M453.7 761.1h0M192.6 778.8h0M414.8 734.2h0M201.7 763.6h0M212.6 759.3h0M226.9 720.2h0M216.0 813.3h0M191.4 738.9h0M460.9 690.5h0M460.0 723.7h0M390.8 797.3h0M173.8 705.9h0M389.8 807.9h0M184.1 711.1h0M335.2 695.4h0M433.7 768.7h0M450.9 792.5h0M179.2 767.7h0M210.9 773.1h0M200.9 753.2h0M443.9 766.9h0M220.0 710.4h0M199.2 740.8h0M199.3 726.8h0M209.3 774.3h0M469.7 786.4h0M194.9 736.3h0M431.1 696.4h0M402.6 716.6h0M450.5 680.3h0M394.0 699.0h0M397.7 748.1h0M203.3 709.4h0M381.5 691.6h0M196.5 721.1h0M403.7 757.8h0M395.7 751.7h0M221.9 784.3h0M276.8 712.8h0M399.5 722.0h0M292.7 795.5h0M362.4 711.5h0M238.4 767.1h0M296.0 795.7h0M303.6 782.1h0M267.8 776.6h0M362.4 709.5h0M393.1 766.4h0M230.8 786.1h0M426.7 740.8h0M345.5 710.4h0M267.2 716.9h0M385.9 704.1h0M274.2 721.3h0M339.4 697.3h0M359.5 712.3h0M250.0 714.4h0M243.3 726.0h0M384.9 765.6h0M407.1 764.0h0M362.1 706.8h0M392.1 758.4h0M292.4 787.0h0M414.8 758.6h0M259.7 732.9h0M289.9 701.5h0M240.3 751.9h0M346.7 783.4h0M300.4 704.8h0M311.1 782.7h0M283.9 789.9h0M417.4 743.0h0M400.9 772.3h0M357.6 785.8h0M388.8 729.5h0M406.6 761.5h0M392.4 753.6h0M411.3 730.4h0M276.5 778.6h0M252.3 713.6h0M353.1 778.3h0M388.9 722.9h0M344.7 683.1h0M236.3 724.5h0M340.5 653.4h0M426.1 761.1h0M415.4 747.8h0M380.7 782.4h0M239.1 758.7h0M264.8 725.9h0M399.3 734.6h0M346.5 700.6h0M246.9 767.1h0M347.9 789.6h0M356.6 779.5h0M261.6 728.0h0M399.9 734.7h0M279.8 779.0h0M379.2 775.2h0M259.1 790.4h0M240.2 771.8h0M261.0 717.5h0M386.8 771.0h0M389.3 737.9h0M266.1 778.0h0M222.7 787.5h0M443.2 730.3h0M258.1 793.8h0M350.7 699.4h0M399.4 762.9h0M365.6 697.4h0M265.1 728.9h0M361.2 705.6h0M304.6 706.4h0M346.1 713.1h0M334.2 699.1h0M389.1 782.6h0M272.9 706.1h0M382.1 772.1h0M247.5 769.6h0M221.4 760.4h0M370.8 714.6h0M398.0 763.1h0M257.0 709.4h0M257.1 719.0h0M403.3 785.0h0M246.4 743.8h0M406.2 755.8h0M337.6 786.3h0M242.3 758.4h0M241.1 764.8h0M348.7 711.5h0M240.6 740.2h0M271.4 786.2h0M283.3 779.1h0M290.7 713.5h0M233.8 746.1h0M283.3 778.5h0M261.5 777.9h0M384.9 655.2h0M216.3 753.1h0M219.6 741.8h0M334.3 698.5h0M349.3 712.3h0M253.7 728.1h0M222.0 732.8h0M419.2 748.2h0M397.5 740.4h0M400.8 759.4h0M337.4 709.9h0M295.0 688.9h0M229.0 786.5h0M263.0 788.6h0M376.8 770.2h0M297.4 701.8h0M286.3 713.9h0M284.8 710.5h0M393.5 692.6h0M327.1 790.7h0M413.1 772.4h0M349.7 787.2h0M271.5 774.5h0M285.7 711.0h0M266.3 722.9h0M243.6 762.1h0M415.4 689.8h0M266.0 699.3h0M308.1 702.8h0M235.7 748.3h0M381.4 716.1h0M308.5 798.4h0M255.6 726.8h0M266.5 709.3h0M260.2 776.9h0M259.3 715.5h0M240.7 758.5h0M380.6 787.0h0M233.1 775.3h0M281.2 779.8h0M264.5 726.8h0M357.4 704.7h0M251.7 729.5h0M427.3 752.0h0M399.2 719.1h0M276.6 797.2h0M350.1 688.8h0M282.6 714.2h0M400.2 778.5h0M259.6 705.3h0M250.5 751.6h0M316.0 703.9h0M420.5 720.4h0M329.8 698.0h0M425.0 745.8h0M391.3 776.2h0M253.1 772.3h0M251.4 719.2h0M251.9 774.8h0M243.3 721.8h0M374.2 772.2h0M399.9 733.4h0M412.5 748.4h0M278.5 715.4h0M439.3 714.5h0M286.0 781.7h0M264.1 708.1h0M279.1 690.3h0M389.0 738.7h0M389.2 761.3h0M395.3 738.0h0M441.4 733.0h0M324.4 784.8h0M338.8 669.1h0M384.9 717.6h0M420.2 753.5h0M378.8 703.1h0M400.2 663.0h0M368.3 794.7h0M344.6 712.4h0M250.7 716.2h0M335.2 709.6h0M224.2 702.9h0M393.7 733.4h0M383.9 767.1h0M352.7 782.4h0M240.1 725.0h0M250.9 707.2h0M371.5 715.9h0M304.4 783.0h0M397.9 741.3h0M257.4 725.3h0M383.8 771.9h0M417.7 747.5h0M398.4 732.2h0M244.9 714.1h0M400.2 754.4h0M219.7 758.1h0M249.7 729.3h0M421.3 738.1h0M395.9 753.5h0M359.7 778.2h0M271.7 777.6h0M272.1 709.9h0M376.2 708.4h0M391.1 766.1h0M216.2 773.2h0M242.1 764.8h0M292.9 791.9h0M268.2 698.9h0M251.3 713.5h0M324.6 698.4h0M254.8 783.0h0M399.4 746.9h0M233.0 775.8h0M337.2 696.3h0M361.3 676.8h0M241.8 793.4h0M252.7 776.8h0M382.9 706.9h0M262.7 788.8h0M425.1 722.3h0M369.4 768.8h0M402.9 679.9h0M314.1 779.6h0M403.2 763.9h0M255.7 693.3h0M345.1 699.9h0M268.7 777.0h0M323.3 790.9h0M370.9 702.2h0M287.0 698.1h0M268.2 775.2h0M316.0 690.8h0M274.1 703.9h0M231.9 746.6h0M365.1 682.8h0M331.2 670.0h0M391.6 684.7h0M391.4 738.6h0M388.7 774.8h0M271.5 714.5h0M416.8 728.9h0M373.0 789.9h0M258.7 738.3h0M381.7 707.0h0M303.3 685.1h0M272.7 790.5h0M380.6 716.1h0M232.3 729.2h0M225.7 746.7h0M375.0 711.8h0M347.1 713.1h0M345.2 695.4h0M351.9 682.5h0M312.5 779.3h0M302.5 694.4h0M358.8 785.6h0M366.7 715.8h0M245.5 759.0h0M393.0 781.9h0M360.5 696.9h0M364.0 772.4h0M309.2 695.9h0M360.5 708.5h0M307.2 793.5h0M284.1 782.0h0M296.9 701.5h0M288.6 781.5h0M364.3 706.8h0M244.3 756.0h0M363.5 765.1h0M415.4 749.1h0M341.3 698.2h0M341.3 694.6h0M353.8 780.7h0M234.5 758.2h0M253.1 773.6h0M397.0 729.7h0M260.4 733.9h0M239.4 753.6h0M307.1 702.6h0M237.2 762.7h0M233.3 763.1h0M380.8 775.7h0M402.1 747.5h0M257.8 783.1h0M303.5 696.0h0M373.6 691.9h0M330.8 785.5h0M374.6 698.9h0M373.5 649.6h0M402.9 769.1h0M281.7 791.5h0M233.0 713.3h0M389.0 783.7h0M385.2 771.2h0M276.2 594.6h0M342.2 711.6h0M320.4 696.3h0M247.8 732.6h0M336.0 785.0h0M264.4 718.5h0M230.6 758.3h0M348.6 699.9h0M398.4 762.3h0M291.0 788.9h0M246.9 731.5h0M280.7 701.6h0M415.3 728.4h0M241.2 759.6h0M260.0 700.3h0M313.0 705.3h0M298.8 701.6h0M368.9 702.6h0M253.2 779.6h0M386.4 728.9h0M337.2 706.2h0M285.5 794.7h0M279.8 706.6h0M393.0 761.0h0M274.3 723.9h0M303.8 689.9h0M400.7 738.6h0M259.6 730.2h0M373.2 782.6h0M332.4 789.3h0M332.9 693.5h0M293.6 695.2h0M385.8 704.6h0M398.5 742.0h0M303.2 689.1h0M324.3 781.4h0M251.5 635.5h0M244.7 763.3h0M450.4 752.8h0M257.9 738.2h0M245.2 718.8h0M260.9 715.0h0M244.2 709.5h0M308.3 786.4h0M251.8 774.2h0M353.6 778.6h0M338.4 791.1h0M342.5 706.2h0M260.8 717.2h0M283.8 780.7h0M257.0 719.2h0M272.1 775.1h0M356.7 707.1h0M363.7 700.0h0M247.4 766.4h0M255.4 710.0h0M260.5 778.6h0M241.5 738.4h0M384.1 771.3h0M225.2 770.7h0M342.9 711.8h0M281.7 707.0h0M232.2 769.8h0M407.8 752.0h0M381.0 763.6h0M324.5 783.9h0M322.2 708.3h0M272.0 782.7h0M376.8 780.0h0M263.2 729.0h0M243.3 715.5h0M356.5 776.3h0M372.4 715.2h0M356.1 783.0h0M407.9 721.8h0M395.8 718.0h0M253.7 724.3h0M240.2 732.8h0M224.9 768.0h0M244.4 772.2h0M252.3 742.2h0M298.4 688.4h0M288.4 780.5h0M270.5 792.1h0M375.7 714.3h0M307.9 706.3h0M405.6 766.6h0M295.0 791.1h0M217.5 755.5h0M246.6 696.5h0M227.6 756.6h0M384.7 765.9h0M284.0 713.6h0M394.4 768.9h0M360.9 787.0h0M384.9 721.9h0M288.4 701.4h0M300.4 668.4h0M342.2 681.3h0M404.2 715.5h0M326.9 702.3h0M411.5 750.6h0M360.9 710.7h0M266.4 780.3h0M359.5 790.8h0M383.6 767.7h0M323.3 687.2h0M235.0 746.0h0M329.6 692.5h0M355.6 710.9h0M213.0 740.8h0M308.4 789.0h0M322.4 782.7h0M315.4 706.9h0M368.3 719.8h0M383.3 765.1h0M378.3 714.9h0M279.3 706.7h0M400.8 781.4h0M392.8 781.4h0M390.2 718.5h0M335.6 694.1h0M423.6 719.0h0M265.1 786.2h0M283.0 706.3h0M200.2 759.8h0M310.6 706.7h0M300.9 785.7h0M231.0 761.2h0M320.8 792.0h0M234.7 736.5h0M363.1 768.6h0M438.6 768.2h0M422.7 761.0h0M296.2 792.6h0M393.8 766.4h0M242.1 777.6h0M225.4 744.8h0M285.9 679.7h0M383.2 692.0h0M389.7 736.3h0M369.0 774.9h0M462.6 722.8h0M400.1 744.7h0M337.0 695.1h0M223.8 738.1h0M323.3 785.2h0M225.5 749.4h0M276.6 789.3h0M222.7 725.8h0M426.0 747.6h0M282.5 710.8h0M255.4 728.4h0M290.9 787.3h0M420.0 732.8h0M379.7 782.0h0M377.9 775.4h0M234.1 719.6h0M321.3 778.1h0M216.3 729.1h0M380.7 705.0h0M315.1 690.2h0M362.7 701.9h0M329.2 700.1h0M240.6 779.2h0M297.6 696.3h0M270.8 796.4h0M324.2 778.4h0M411.5 730.0h0M314.1 680.4h0M408.0 728.5h0M398.6 733.9h0M338.5 707.5h0M379.4 695.7h0M232.5 718.5h0M366.2 765.3h0M244.3 756.1h0M385.1 771.0h0M272.4 777.1h0M374.8 773.9h0M208.3 711.9h0M395.1 734.9h0M421.9 766.3h0M327.2 786.9h0M268.9 780.9h0M267.2 799.0h0M284.3 790.1h0M380.5 690.8h0M224.6 771.0h0M346.3 691.1h0M285.6 782.0h0M332.6 795.4h0M250.1 771.8h0M408.9 737.0h0M278.0 781.9h0M240.0 746.7h0M259.5 686.6h0M260.4 692.1h0M227.6 717.0h0M405.2 750.6h0M333.4 687.4h0M401.9 751.3h0M374.2 775.9h0M260.7 705.7h0M258.3 794.5h0M249.1 754.5h0M415.3 699.1h0M368.8 717.3h0M247.1 737.7h0M367.7 782.8h0M363.9 805.3h0M384.7 694.6h0M327.7 695.5h0M381.3 697.3h0M327.1 692.0h0M369.7 776.9h0M272.5 775.2h0M304.1 691.5h0M377.1 714.2h0M248.1 725.1h0M287.0 695.6h0M390.8 753.2h0M222.8 728.0h0M246.0 724.8h0M332.4 680.2h0M257.8 724.1h0M391.6 669.1h0M365.6 779.0h0M423.2 748.9h0M323.5 697.4h0M421.8 751.6h0M364.8 686.3h0M261.6 775.1h0M242.7 744.9h0M225.7 766.2h0M416.6 763.6h0M276.1 708.4h0M235.1 738.4h0M285.9 778.3h0M383.1 779.3h0M396.6 731.2h0M356.7 776.4h0M352.7 702.7h0M262.0 791.7h0M243.5 763.5h0M329.2 703.1h0M295.0 698.0h0M337.2 698.1h0M283.9 706.4h0M378.7 641.6h0M415.5 749.1h0M348.4 701.9h0M431.6 746.9h0M401.6 742.0h0M335.2 688.9h0M362.3 696.1h0M310.9 782.5h0M248.8 785.4h0M399.8 760.7h0M273.5 709.2h0M346.0 689.9h0M323.3 698.0h0M330.2 785.1h0M274.9 793.7h0M244.2 767.7h0M221.0 766.8h0M363.7 707.6h0M396.6 714.5h0M390.5 762.6h0M261.9 730.4h0M256.6 712.6h0M400.7 730.6h0M400.3 739.6h0M224.4 737.6h0M252.0 729.7h0M370.5 694.9h0M380.0 764.8h0M340.0 786.1h0M269.9 776.7h0M383.0 696.5h0M399.4 699.4h0M339.0 677.6h0M227.0 766.5h0M381.9 705.8h0M254.0 735.3h0M343.7 783.2h0M323.3 705.2h0M313.5 666.8h0M367.1 690.4h0M239.8 759.1h0M309.7 697.1h0M279.2 780.9h0M276.0 715.6h0M342.2 788.1h0M305.7 701.8h0M248.7 778.1h0M406.6 714.1h0M297.1 785.3h0M371.2 772.4h0M371.6 780.1h0M413.7 723.0h0M393.2 767.9h0M366.4 680.0h0M347.8 680.8h0M243.9 750.5h0M408.2 707.1h0M270.0 721.2h0M372.7 771.2h0M290.0 696.4h0M293.1 699.5h0M292.3 786.5h0M331.6 700.0h0M251.1 686.9h0M350.7 778.4h0M398.1 771.7h0M354.7 711.9h0M344.4 695.4h0M399.1 759.2h0M292.6 671.3h0M387.8 761.9h0M247.8 771.1h0M375.4 780.6h0M280.9 703.4h0M338.0 789.6h0M348.3 699.5h0M244.6 782.0h0M305.0 696.6h0M407.5 741.0h0M328.3 702.3h0M310.3 708.0h0M264.4 714.3h0M273.6 698.9h0M381.0 765.9h0M366.1 769.0h0M284.8 791.8h0M302.8 784.4h0M417.6 758.9h0M255.7 739.9h0M244.9 717.7h0M401.8 737.6h0M324.0 679.4h0M397.3 722.1h0M381.9 719.4h0M415.3 750.2h0M232.3 755.5h0M408.9 721.1h0M223.8 735.2h0M421.2 760.1h0M399.9 752.0h0M315.4 787.5h0M283.7 782.3h0M423.4 748.4h0M284.7 794.0h0M251.7 745.8h0M248.2 721.5h0M242.8 701.0h0M390.5 698.8h0M389.2 761.9h0M271.9 697.4h0M410.7 736.3h0M270.3 693.8h0M407.1 732.9h0M397.8 768.3h0M241.4 774.2h0M307.0 701.7h0M433.0 728.4h0M313.1 698.9h0M250.0 770.9h0M315.9 695.2h0M355.1 710.6h0M408.8 719.4h0M338.6 703.4h0M375.4 685.8h0M251.3 781.7h0M229.7 741.4h0M363.1 678.0h0M321.2 695.6h0M250.0 742.9h0M255.3 795.1h0M263.6 724.6h0M398.3 768.7h0M319.9 701.9h0M405.8 743.6h0M357.3 673.4h0M268.4 724.9h0M343.4 797.4h0M375.1 769.6h0M321.7 785.9h0M339.3 707.6h0M245.9 752.9h0M334.8 698.9h0M390.0 720.9h0M399.7 738.5h0M262.2 783.3h0M422.6 744.4h0M257.5 731.4h0M293.5 708.6h0M336.4 690.9h0M338.8 681.8h0M400.7 756.1h0M383.9 710.3h0M394.1 760.3h0M271.4 719.2h0M247.6 719.8h0M426.4 726.8h0M364.3 713.5h0M345.6 690.9h0M374.6 772.1h0M313.6 779.0h0M317.5 782.9h0M305.4 705.4h0M275.4 797.0h0M229.1 756.3h0M284.3 789.6h0M401.1 754.7h0M267.4 782.1h0M366.0 717.0h0M321.8 802.4h0M284.2 798.6h0M289.9 706.8h0M404.4 728.0h0M353.2 802.7h0M323.8 694.5h0M358.1 774.8h0M404.8 758.3h0M375.5 682.9h0M274.2 788.3h0M413.7 758.5h0M354.1 698.8h0M372.0 707.9h0M242.6 771.2h0M301.9 783.3h0M259.9 781.4h0M277.2 782.3h0M365.8 693.5h0M331.7 705.1h0M381.5 698.3h0M373.9 781.1h0M267.5 787.1h0M318.8 783.5h0M361.4 703.7h0M430.6 733.2h0M349.3 704.2h0M390.2 726.2h0M268.8 777.0h0M388.1 729.7h0M246.4 765.8h0M410.3 752.1h0M303.9 793.2h0M375.5 768.3h0M284.6 693.6h0M398.4 759.1h0M347.7 696.4h0M395.7 728.0h0M360.4 780.3h0M365.6 687.7h0M221.9 760.1h0M331.4 783.3h0M247.1 732.8h0M444.3 727.7h0M303.7 791.2h0M314.8 784.9h0M357.2 690.2h0M376.1 772.6h0M373.2 771.7h0M304.7 785.5h0M407.4 756.8h0M411.2 725.6h0M252.4 774.9h0M275.7 776.7h0M413.9 756.3h0M306.4 701.5h0M259.0 710.7h0M353.4 782.1h0M295.1 677.7h0M399.3 738.2h0M271.6 706.4h0M358.4 780.9h0M355.5 684.0h0M382.9 764.6h0M347.5 701.9h0M378.8 767.9h0M442.4 720.4h0M307.7 691.1h0M319.7 701.2h0M407.4 715.3h0M398.3 698.2h0M227.5 758.5h0M319.8 705.0h0M431.9 747.5h0M279.5 796.2h0M299.7 679.4h0M378.4 765.9h0M251.8 718.2h0M404.5 761.6h0M275.4 779.0h0M299.6 807.0h0M335.9 792.0h0M423.2 700.9h0M359.2 771.8h0M246.5 772.7h0M387.6 721.7h0M258.0 738.8h0M338.6 693.8h0M201.1 759.9h0M359.0 786.0h0M414.2 768.5h0M322.9 782.2h0M240.8 756.7h0M391.2 753.6h0M274.8 780.0h0M301.2 782.4h0M293.1 698.8h0M348.7 702.9h0M342.3 704.2h0M327.5 789.3h0M360.3 770.7h0M244.0 736.6h0M297.6 792.5h0M411.8 777.9h0M212.1 720.7h0M305.2 698.5h0M366.9 785.6h0M409.2 743.2h0M247.8 680.9h0M326.2 693.5h0M405.0 744.3h0M370.5 785.0h0M362.2 783.8h0M264.7 785.1h0M319.0 706.6h0M338.5 710.0h0M262.7 789.0h0M270.5 776.8h0M262.4 682.7h0M371.3 713.1h0M287.4 704.3h0M363.4 715.4h0M303.6 705.2h0M295.9 709.3h0M244.8 765.6h0M329.7 786.2h0M344.6 786.4h0M267.9 724.0h0M250.4 727.4h0M329.9 683.8h0M287.5 705.9h0M377.9 794.1h0M362.9 691.4h0M217.7 734.5h0M349.0 702.3h0M250.6 776.4h0M311.2 792.2h0M359.2 696.6h0M240.1 767.3h0M369.5 767.1h0M361.8 709.7h0M240.9 777.5h0M363.1 710.6h0M358.9 771.1h0M287.5 711.3h0M317.3 786.2h0M244.6 725.9h0M236.7 744.3h0M237.7 790.5h0M266.7 709.1h0M284.1 672.2h0M321.5 694.6h0M361.5 771.3h0M414.6 753.2h0M236.2 736.4h0M367.0 775.2h0M432.8 740.8h0M263.2 716.5h0M405.2 709.6h0M277.0 703.6h0M252.9 741.0h0M382.4 682.1h0M392.6 684.4h0M347.5 796.5h0M364.7 688.9h0M248.9 734.4h0M254.9 721.8h0M240.7 750.3h0M231.7 757.3h0M254.7 732.1h0M283.9 785.9h0M394.1 755.7h0M288.6 702.0h0M326.0 794.5h0M381.7 703.6h0M353.6 688.3h0M365.8 695.2h0M271.8 691.9h0M280.8 789.0h0M234.4 719.4h0M357.7 706.6h0M415.4 779.5h0M282.4 776.2h0M262.8 705.9h0M247.8 753.8h0M327.4 788.2h0M389.7 726.9h0M362.4 767.9h0M287.3 783.1h0M396.5 732.4h0M376.0 781.9h0M387.1 712.9h0M251.3 709.6h0M319.5 681.1h0M405.0 733.9h0M422.4 703.5h0M271.6 774.8h0M223.0 752.4h0M328.9 676.6h0M319.0 784.3h0M423.2 764.8h0M415.0 749.3h0M399.0 768.3h0M361.4 715.3h0M254.4 711.7h0M353.2 705.9h0M310.3 779.4h0M357.4 708.9h0M299.8 786.5h0M383.3 711.4h0M229.2 751.6h0M303.1 789.9h0M238.5 762.7h0M392.9 775.2h0M325.4 787.1h0M416.2 738.5h0M355.4 712.0h0M374.6 709.7h0M258.6 794.9h0M393.6 700.2h0M259.8 715.5h0M271.8 792.1h0M249.5 788.9h0M347.8 684.8h0M366.1 712.0h0M285.5 779.9h0M435.8 776.0h0M293.6 705.2h0M377.1 711.1h0M451.8 741.8h0M270.6 715.9h0M278.7 719.3h0M277.8 720.2h0M227.8 758.0h0M354.8 691.2h0M339.2 704.0h0M247.5 753.4h0M402.6 730.3h0M227.4 763.6h0M405.3 761.9h0M330.1 700.7h0M233.4 760.2h0M235.8 773.5h0M281.5 702.4h0M426.5 711.9h0M251.7 779.5h0M377.5 770.4h0M308.1 787.8h0M292.6 786.0h0M364.2 764.3h0M386.1 702.1h0M287.9 709.7h0M297.7 690.5h0M357.2 785.7h0M341.5 783.1h0M359.1 777.4h0M363.2 766.6h0M272.4 688.3h0M340.3 698.9h0M268.0 779.3h0M385.7 704.3h0M351.8 692.4h0M302.1 785.2h0M406.7 761.5h0M251.0 751.8h0M383.2 781.9h0M413.4 724.7h0M324.5 781.8h0M409.5 741.7h0M401.2 769.8h0M395.9 761.0h0M368.4 689.6h0M299.6 687.0h0M382.1 711.1h0M398.3 697.8h0M278.3 688.7h0M361.5 715.8h0M270.3 721.8h0M406.9 724.7h0M260.5 777.3h0M297.8 702.7h0M416.6 754.4h0M223.2 740.2h0M398.8 706.3h0M278.9 715.9h0M348.1 709.8h0M292.0 683.1h0M386.7 712.3h0M269.3 702.4h0M385.4 710.6h0M396.6 762.3h0M368.2 765.3h0M349.2 695.2h0M294.8 785.9h0M213.3 759.7h0M210.2 737.3h0M237.4 758.6h0M246.3 755.4h0M299.1 790.5h0M201.4 759.5h0M205.9 723.2h0M352.5 695.2h0M248.5 781.6h0M225.2 740.5h0M350.6 792.1h0M266.1 719.8h0M370.0 775.0h0M338.8 705.4h0M379.8 771.9h0M333.8 789.9h0M334.0 786.1h0M300.4 703.0h0M246.5 742.2h0M348.0 786.4h0M292.6 700.4h0M254.5 790.0h0M431.7 739.3h0M397.5 767.4h0M405.2 721.1h0M412.9 732.4h0M324.9 684.5h0M237.3 700.6h0M213.1 771.8h0M265.3 793.2h0M234.7 779.9h0M216.6 761.8h0M313.4 696.3h0M285.9 780.7h0M427.6 774.6h0M352.9 784.3h0M326.6 781.0h0M304.4 800.9h0M390.2 768.6h0M269.9 776.5h0M242.0 749.1h0M247.3 735.6h0M366.8 717.8h0M364.2 713.1h0M253.8 775.9h0M347.8 698.3h0M391.4 767.6h0M239.7 767.2h0M388.1 728.0h0M420.7 751.5h0M326.8 698.8h0M361.0 775.1h0M330.0 689.6h0M241.7 698.3h0M256.4 785.4h0M357.6 695.5h0M418.4 736.3h0M328.7 686.8h0M271.8 779.8h0M313.3 780.1h0M417.3 742.3h0M269.9 723.1h0M480.3 716.3h0M305.6 802.1h0M274.7 774.7h0M388.5 732.9h0M392.5 751.1h0M270.8 777.3h0M398.8 724.5h0M224.7 733.0h0M424.3 746.6h0M335.8 708.0h0M240.9 729.6h0M360.8 701.5h0M411.5 768.7h0M259.1 784.2h0M252.3 724.9h0M358.6 779.9h0M399.4 762.5h0M409.0 730.9h0M253.0 740.1h0M260.2 731.0h0M261.7 715.5h0M341.7 695.1h0M386.2 738.4h0M262.5 779.1h0M381.2 761.6h0M259.2 713.7h0M243.3 793.2h0M234.1 731.7h0M394.4 768.2h0M347.6 712.4h0M397.7 738.6h0M409.4 737.8h0M250.2 726.3h0M247.4 771.8h0M231.6 747.0h0M318.5 783.8h0M332.0 783.0h0M248.2 779.6h0M252.2 779.6h0M452.3 747.7h0M412.3 737.7h0M290.4 708.5h0M283.8 708.8h0M409.1 738.1h0M273.4 790.7h0M265.3 716.6h0M336.1 789.1h0M380.4 765.5h0M243.2 773.4h0M244.1 788.4h0M267.9 781.4h0M258.9 730.5h0M298.4 696.2h0M393.7 739.8h0M282.7 780.0h0M243.8 738.1h0M373.5 691.2h0M262.0 730.7h0M252.2 791.5h0M355.2 708.5h0M331.0 787.5h0M419.8 750.1h0M356.4 708.0h0M254.6 796.0h0M413.9 757.8h0M257.9 729.5h0M315.0 701.3h0M252.1 715.7h0M371.1 713.0h0M243.3 773.0h0M392.5 766.5h0M404.8 762.7h0M238.5 737.7h0M288.7 795.0h0M292.4 792.0h0M424.8 713.0h0M253.3 727.9h0M372.0 785.5h0M410.1 768.0h0M254.2 734.7h0M440.0 736.6h0M394.0 740.7h0M339.7 789.5h0M294.3 787.9h0M276.1 679.4h0M327.1 683.7h0M271.0 692.1h0M218.0 773.8h0M266.2 791.9h0M314.8 701.2h0M383.4 696.2h0M315.9 789.2h0M312.1 780.8h0M382.4 701.9h0M310.6 704.1h0M352.7 780.3h0M415.8 743.1h0M281.3 700.6h0M260.6 784.6h0M274.3 723.8h0M318.6 677.2h0M325.2 700.3h0M285.9 691.8h0M197.7 780.8h0M217.0 756.5h0M270.1 713.8h0M347.4 789.4h0M244.8 764.9h0M357.0 666.2h0M297.8 701.6h0M410.8 730.5h0M337.6 785.0h0M387.0 728.9h0M245.3 749.2h0M241.0 734.1h0M327.2 784.2h0M209.6 759.9h0M291.9 784.0h0M403.3 740.5h0M276.8 705.9h0M250.9 733.3h0M360.7 769.5h0M361.3 775.6h0M411.1 781.3h0M236.2 755.1h0M380.8 693.2h0M384.6 763.0h0M262.6 806.9h0M236.8 770.3h0M266.8 727.5h0M402.6 753.6h0M287.0 711.1h0M274.2 711.8h0M253.4 773.1h0M231.6 755.1h0M371.0 779.2h0M431.7 709.9h0M291.1 687.8h0M306.6 678.0h0M422.8 730.0h0M303.2 697.1h0M359.5 695.9h0M372.3 717.1h0M242.6 785.6h0M271.1 783.9h0M215.2 766.8h0M226.2 762.5h0M337.6 706.3h0M273.5 719.8h0M425.1 764.8h0M400.7 763.5h0M314.5 695.6h0M272.5 702.9h0M274.5 779.0h0M237.1 725.8h0M418.6 683.7h0M398.2 688.0h0M314.8 778.9h0M347.9 706.6h0M242.8 718.0h0M300.9 679.3h0M394.4 714.2h0M239.0 735.8h0M334.5 698.7h0M253.6 781.6h0M334.0 706.4h0M350.5 703.9h0M268.3 782.7h0M401.9 727.5h0M381.9 698.2h0M259.8 779.7h0M332.8 700.9h0M374.1 715.8h0M251.7 733.4h0M250.9 779.0h0M357.5 798.0h0M335.9 707.1h0M323.2 688.1h0M274.1 774.8h0M233.3 788.4h0M388.9 737.3h0M237.3 726.5h0M271.2 708.3h0M409.8 742.8h0M342.2 695.4h0M415.3 769.9h0M250.7 783.6h0M280.8 791.5h0M325.6 705.8h0M230.3 779.4h0M374.2 713.0h0M275.9 704.8h0M396.1 717.2h0M334.9 794.2h0M273.1 718.2h0M282.9 809.8h0M195.3 759.1h0M333.5 790.7h0M277.7 714.0h0M405.5 743.2h0M401.5 738.2h0M361.6 687.5h0M391.8 728.3h0M259.8 686.2h0M375.5 769.4h0M280.8 704.7h0M405.7 751.9h0M330.1 788.2h0M277.2 697.0h0M258.4 728.3h0M381.8 709.2h0M250.6 743.2h0M254.9 735.3h0M290.6 705.2h0M281.2 709.1h0M309.8 692.3h0M326.4 782.2h0M392.2 753.2h0M365.9 693.4h0M397.0 712.0h0M357.4 777.7h0M382.6 714.8h0M347.3 703.8h0M253.4 732.9h0M387.4 666.7h0M239.0 758.1h0M401.7 729.5h0M269.2 720.2h0M423.8 742.8h0M230.8 718.9h0M316.6 676.6h0M245.9 756.3h0M238.1 709.7h0M347.4 692.6h0M260.5 782.6h0M324.7 789.1h0M282.5 793.9h0M408.1 715.9h0M335.9 703.8h0M411.2 737.6h0M241.9 747.2h0M288.0 789.9h0M422.0 744.3h0M374.8 780.0h0M404.2 758.3h0M403.9 725.0h0M277.9 705.1h0M395.2 739.9h0M220.0 729.3h0M239.0 731.5h0M320.6 779.3h0M311.1 690.5h0M378.9 682.3h0M325.5 787.6h0M248.6 770.9h0M312.1 704.3h0M215.8 770.0h0M399.6 759.5h0M255.2 776.3h0M259.5 711.3h0M229.8 781.7h0M314.4 783.3h0M241.9 746.0h0M260.9 797.0h0M209.9 729.1h0M237.7 755.9h0M269.8 696.9h0M327.6 792.8h0M343.7 786.5h0M237.7 738.7h0M408.0 727.3h0M230.8 707.3h0M258.9 737.3h0M232.2 748.0h0M407.9 725.1h0M298.6 704.6h0M222.2 759.9h0M388.9 767.4h0M326.0 783.8h0M277.4 710.5h0M232.8 759.9h0M398.6 692.6h0M261.4 780.0h0M263.4 680.7h0M391.7 701.6h0M290.2 710.3h0M400.4 750.0h0M230.6 773.5h0M401.9 697.9h0M362.0 771.3h0M223.0 770.3h0M360.1 705.8h0M245.8 754.5h0M234.4 755.3h0M250.2 720.7h0M307.4 664.1h0M264.2 709.8h0M208.4 761.2h0M347.6 786.7h0M381.8 702.5h0M370.8 706.6h0M281.0 712.4h0M380.0 691.4h0M401.8 749.8h0M364.8 684.7h0M362.0 689.6h0M379.8 773.1h0M268.3 800.7h0M386.5 774.2h0M238.8 766.6h0M400.9 751.1h0M232.3 762.6h0M371.1 714.4h0M401.8 746.8h0M292.0 711.4h0M382.7 703.6h0M252.8 783.9h0M365.3 764.5h0M363.8 686.4h0M226.2 772.0h0M375.3 773.4h0M267.7 718.2h0M341.9 697.0h0M349.4 784.4h0M412.9 744.4h0M300.3 695.9h0M330.7 683.3h0M275.9 782.3h0M269.5 790.1h0M226.4 749.6h0M344.2 711.2h0M387.0 764.4h0M232.5 781.1h0M298.1 706.4h0M212.0 716.6h0M422.2 759.8h0M218.8 782.8h0M281.6 789.7h0M266.5 791.7h0M343.2 807.2h0M359.9 778.5h0M299.0 796.6h0M359.2 708.0h0M321.5 797.8h0M189.6 751.3h0M357.3 711.4h0M375.2 712.4h0M270.0 723.6h0M336.6 696.4h0M288.6 710.3h0M250.9 699.2h0M247.8 747.8h0M320.1 779.4h0M256.9 728.5h0M260.2 731.9h0M352.9 696.0h0M397.1 753.2h0M369.3 701.2h0M356.4 708.1h0M387.9 725.7h0M321.7 693.4h0M345.2 697.1h0M416.1 759.7h0M261.9 695.4h0M423.5 724.5h0M338.4 690.9h0M435.5 767.4h0M313.7 700.5h0M367.9 772.7h0M325.0 700.4h0M247.1 769.8h0M247.0 787.9h0M426.4 744.8h0M364.0 794.3h0M279.4 698.6h0M245.1 719.8h0M331.0 680.5h0M387.9 713.3h0M235.6 742.0h0M402.0 728.6h0M403.2 731.0h0M402.0 726.8h0M232.3 738.4h0M441.5 740.2h0M333.1 626.0h0M383.5 713.5h0M399.1 761.0h0M225.7 776.7h0M369.1 704.2h0M319.8 679.0h0M278.6 717.8h0M411.4 765.1h0M255.8 785.7h0M386.8 710.5h0M380.7 707.5h0M250.1 727.1h0M391.2 757.1h0M413.5 763.2h0M398.8 729.9h0M302.8 792.8h0M394.6 767.4h0M315.9 703.3h0M312.1 703.6h0M291.0 712.5h0M340.2 698.4h0M322.3 613.7h0M228.1 764.9h0M244.9 766.3h0M438.8 758.1h0M273.7 778.3h0M371.8 769.2h0M388.6 736.7h0M376.7 784.6h0M366.8 775.9h0M406.4 750.5h0M308.5 789.1h0M359.1 697.0h0M313.3 778.7h0M218.4 725.8h0M400.3 736.8h0M393.8 710.1h0M377.1 767.4h0M270.1 693.1h0M296.2 795.9h0M389.5 735.6h0M253.7 743.6h0M292.9 703.9h0M391.0 729.6h0M251.6 744.6h0M266.9 704.7h0M282.7 782.5h0M357.8 785.0h0M353.6 700.3h0M269.2 690.4h0M413.3 748.0h0M251.2 773.5h0M282.8 787.4h0M352.6 680.5h0M383.5 771.8h0M358.2 776.6h0M328.9 704.7h0M329.1 677.0h0M374.9 659.1h0M393.7 772.2h0M397.0 728.3h0M275.9 712.4h0M245.3 782.3h0M402.7 736.4h0M385.4 762.9h0M319.0 780.1h0M269.9 798.0h0M239.6 762.3h0M316.7 785.2h0M320.5 708.4h0M377.1 712.3h0M317.4 705.1h0M373.0 695.4h0M229.4 721.6h0M265.6 729.8h0M239.3 768.2h0M400.4 768.9h0M259.5 723.1h0M351.9 793.8h0M330.6 671.5h0M368.5 708.5h0M291.8 705.3h0M284.3 709.9h0M323.8 786.6h0M451.7 750.6h0M234.6 734.7h0M259.3 720.2h0M380.9 774.8h0M304.5 706.2h0M281.9 711.2h0M312.0 671.4h0M221.9 759.7h0M391.1 716.1h0M276.6 718.7h0M402.5 765.7h0M277.6 709.4h0M322.5 686.2h0M317.1 704.8h0M215.0 769.0h0M385.6 706.6h0M250.8 733.5h0M233.2 762.4h0M240.5 766.1h0M240.6 729.4h0M301.6 700.9h0M294.0 711.2h0M391.9 752.1h0M385.2 693.0h0M279.4 778.8h0M298.9 789.4h0M262.1 729.8h0M389.0 711.1h0M282.0 781.7h0M248.7 696.3h0M242.3 755.3h0M313.3 782.5h0M247.8 749.9h0M248.3 755.8h0M406.3 751.3h0M379.2 785.7h0M443.0 730.7h0M387.4 775.9h0M243.8 747.3h0M246.0 740.1h0M351.8 782.2h0M256.2 724.3h0M365.4 764.8h0M428.2 727.7h0M261.2 733.4h0M277.4 781.7h0M219.7 762.2h0M327.7 688.4h0M400.7 696.2h0M360.9 779.6h0M243.0 724.1h0M236.0 720.5h0M274.1 786.7h0M414.6 780.8h0M418.8 732.9h0M344.6 782.7h0M393.2 732.4h0M233.3 753.9h0M410.5 777.1h0M400.0 726.3h0M371.9 772.8h0M343.1 787.8h0M353.5 704.1h0M298.4 683.0h0M274.6 774.9h0M403.1 751.0h0M241.3 746.2h0M353.5 785.0h0M253.2 787.1h0M272.5 775.3h0M406.2 734.5h0M301.6 782.8h0M398.5 779.5h0M400.7 715.3h0M280.8 692.2h0M214.8 726.1h0M392.1 730.6h0M333.9 690.3h0M394.8 766.6h0M378.7 767.4h0M252.6 734.4h0M244.0 745.9h0M383.0 701.6h0M412.7 727.6h0M288.9 712.5h0M266.1 707.6h0M369.2 766.9h0M264.5 724.5h0M425.2 747.0h0M284.1 791.5h0M390.6 738.9h0M363.0 715.1h0M312.6 680.1h0M289.2 696.2h0M385.9 711.3h0M372.8 772.3h0M353.5 708.0h0M344.2 713.6h0M388.8 732.5h0M263.3 780.0h0M326.1 790.8h0M383.0 780.5h0M250.6 730.1h0M378.7 694.6h0M361.9 704.2h0M390.3 761.0h0M408.3 739.7h0M299.2 707.5h0M375.4 688.4h0M328.0 787.2h0M323.3 798.5h0M223.8 758.0h0M326.5 783.4h0M200.5 780.4h0M381.7 786.0h0M311.4 693.0h0M360.6 781.8h0M284.2 777.2h0M230.4 724.3h0M410.1 748.4h0M383.5 764.8h0M275.9 688.7h0M398.0 730.6h0M374.3 708.6h0M275.3 778.1h0M250.3 737.2h0M244.1 790.2h0M416.4 754.4h0M317.8 690.9h0M242.1 751.3h0M401.8 736.8h0M401.5 719.5h0M345.9 781.2h0M294.8 797.7h0M282.4 705.5h0M303.4 706.6h0M453.0 717.0h0M338.4 695.9h0M269.2 721.5h0M389.1 764.8h0M249.2 771.4h0M425.6 756.2h0M409.3 711.0h0M375.4 769.3h0M196.1 773.0h0M435.8 738.0h0M349.7 788.8h0M327.5 704.4h0M300.0 800.1h0M308.6 697.6h0M406.3 755.5h0M385.5 761.1h0M343.6 695.2h0M356.9 777.9h0M292.1 787.3h0M389.4 686.8h0M312.3 787.9h0M338.1 700.7h0M370.5 691.6h0M332.1 705.6h0M281.5 784.8h0M389.6 736.5h0M393.7 764.9h0M220.6 631.1h0M378.6 710.4h0M353.9 783.8h0M260.7 776.9h0M303.1 684.0h0M403.5 745.3h0M277.9 784.8h0M392.6 698.3h0M335.1 784.8h0M365.3 805.5h0M304.6 790.1h0M387.8 714.9h0M390.7 705.7h0M398.4 763.5h0M368.6 701.6h0M272.2 691.0h0M322.3 687.6h0M355.4 777.3h0M405.5 719.9h0M276.7 776.0h0M254.7 796.6h0M244.5 768.2h0M245.8 777.8h0M275.9 777.2h0M234.3 788.5h0M404.3 744.9h0M288.1 712.7h0M389.4 782.8h0M273.3 776.6h0M279.5 786.6h0M360.3 699.6h0M338.1 704.2h0M390.8 771.7h0M423.3 735.8h0M393.5 752.8h0M236.2 783.2h0M343.2 695.2h0M407.7 716.8h0M405.6 746.7h0M363.6 765.1h0M247.7 714.7h0M239.3 734.4h0M265.3 721.2h0M422.8 736.9h0M309.2 783.8h0M384.5 710.7h0M414.3 749.0h0M268.5 686.3h0M232.6 742.8h0M415.7 740.8h0M375.6 688.1h0M392.5 707.8h0M237.3 768.3h0M250.1 740.8h0M301.6 672.5h0M385.8 710.0h0M280.6 782.2h0M287.0 787.3h0M331.7 686.2h0M385.6 717.4h0M362.8 710.1h0M313.9 779.7h0M410.5 760.6h0M330.0 690.8h0M355.7 703.0h0M305.1 790.9h0M395.3 690.6h0M305.6 685.2h0M367.5 775.3h0M409.2 692.5h0M287.4 711.0h0M341.8 794.6h0M348.6 710.1h0M303.7 701.9h0M382.6 711.2h0M274.0 722.0h0M278.7 798.9h0M376.3 709.6h0M434.3 717.5h0M267.0 776.2h0M388.6 756.8h0M306.2 706.7h0M389.8 706.7h0M423.7 742.8h0M241.8 761.3h0M402.2 747.4h0M363.0 703.5h0M320.3 789.6h0M325.8 791.3h0M242.2 752.9h0M231.6 755.8h0M322.9 695.5h0M398.0 759.9h0M254.2 731.9h0M392.9 761.7h0M257.3 794.7h0M240.1 743.9h0M242.1 719.8h0M362.0 704.9h0M330.0 695.9h0M344.2 679.3h0M249.5 783.3h0M324.9 792.6h0M399.3 738.9h0M335.5 792.6h0M310.1 779.7h0M259.9 718.2h0M347.5 784.9h0M389.9 731.5h0M332.3 668.7h0M230.2 757.0h0M317.9 699.8h0M405.8 751.7h0M351.2 693.6h0M380.0 705.7h0M225.3 750.9h0M232.2 756.1h0M207.0 743.1h0M321.9 693.8h0M402.8 779.9h0M412.6 764.4h0M358.5 771.4h0M244.4 762.8h0M445.1 769.2h0M317.1 789.0h0M304.5 701.3h0M262.2 696.5h0M282.8 698.5h0M275.0 712.8h0M461.2 713.1h0M420.5 707.8h0M246.8 722.6h0M318.7 705.5h0M306.7 795.5h0M420.1 740.5h0M223.6 755.7h0M255.3 699.1h0M383.6 719.3h0M220.8 759.8h0M323.4 696.3h0M295.4 708.1h0M360.3 770.0h0M334.4 703.2h0M249.6 774.8h0M293.1 699.2h0M398.1 769.4h0M396.2 751.9h0M381.9 713.8h0M284.6 706.1h0M403.6 771.0h0M243.4 778.0h0M239.5 766.8h0M296.9 792.6h0M373.1 711.2h0M356.9 696.5h0M240.9 735.7h0M262.8 729.0h0M258.7 732.3h0M358.7 709.9h0M397.6 772.2h0M367.8 715.5h0M424.0 780.9h0M237.4 726.5h0M295.5 695.1h0M293.2 711.9h0M239.7 769.0h0M339.3 710.6h0M406.1 776.0h0M290.9 691.5h0M369.3 768.5h0M256.8 710.9h0M247.3 743.0h0M358.7 783.4h0M359.1 781.2h0M288.9 787.9h0M229.2 725.5h0M346.3 714.6h0M408.6 718.1h0M335.3 784.1h0M329.9 793.6h0M372.4 710.1h0M356.4 709.5h0M347.9 712.0h0M280.1 703.9h0M238.5 726.5h0M346.3 790.8h0M223.7 731.6h0M346.7 693.6h0M233.9 758.1h0M226.3 776.8h0M255.6 780.6h0M286.7 697.5h0M346.1 710.6h0M401.3 754.3h0M274.7 799.1h0M245.6 786.6h0M210.0 762.6h0M282.2 700.6h0M339.0 799.2h0M391.9 777.9h0M293.0 786.9h0M360.9 714.2h0M301.4 696.2h0M367.0 715.7h0M343.2 791.9h0M309.4 707.0h0M232.8 736.4h0M272.8 775.1h0M362.2 706.8h0M409.6 746.9h0M394.6 724.2h0M323.8 709.2h0M318.0 689.9h0M280.0 789.1h0M231.4 744.0h0M367.8 768.5h0M331.0 785.2h0M341.8 698.5h0M243.2 771.1h0M289.1 690.2h0M396.0 780.3h0M320.8 779.4h0M388.0 724.5h0M316.7 690.2h0M284.3 705.6h0M278.3 718.2h0M339.5 701.3h0M371.5 710.1h0M389.7 775.1h0M394.2 762.4h0M265.8 709.1h0M310.1 705.9h0M328.4 785.0h0M276.1 781.0h0M199.1 730.4h0M307.8 676.4h0M273.9 703.4h0M406.0 745.3h0M343.6 783.9h0M303.6 786.1h0M241.0 772.0h0M345.5 704.2h0M286.3 780.2h0M238.8 748.5h0M361.3 767.3h0M271.8 697.2h0M207.8 782.4h0M301.0 701.0h0M361.0 771.0h0M406.3 755.5h0M263.1 716.9h0M415.1 742.7h0M386.4 769.2h0M327.9 802.0h0M343.7 693.7h0M232.8 746.2h0M216.2 757.5h0M232.9 773.8h0M277.4 713.9h0M300.2 788.5h0M242.4 768.0h0M235.6 718.6h0M351.4 685.0h0M240.0 772.3h0M357.2 692.6h0M430.3 756.5h0M239.3 767.2h0M412.4 768.6h0M373.9 716.7h0M270.6 773.3h0M224.0 750.0h0M394.1 753.4h0M214.3 766.9h0M308.1 796.1h0M242.5 764.8h0M344.2 695.2h0M295.6 706.1h0M355.1 709.5h0M365.5 782.4h0M398.3 708.4h0M361.3 707.5h0M378.6 767.6h0M247.7 745.4h0M361.1 771.7h0M397.3 749.3h0M298.5 795.5h0M405.1 729.7h0M281.2 790.9h0M426.6 759.4h0M446.6 750.8h0M389.1 758.7h0M404.3 745.6h0M354.7 707.5h0M406.3 725.1h0M400.5 734.7h0M368.5 778.1h0M323.3 782.2h0M378.2 782.1h0M324.3 780.3h0M294.8 700.9h0M446.5 738.1h0M275.4 791.6h0M341.7 697.0h0M321.8 679.4h0M356.7 694.9h0M238.2 760.1h0M341.8 707.3h0M374.4 691.5h0M425.0 691.3h0M419.9 729.8h0M351.2 708.0h0M316.1 789.7h0M338.0 704.5h0M284.9 703.3h0M410.9 742.3h0M398.9 758.9h0M373.9 714.5h0M275.6 705.3h0M289.5 702.8h0M444.5 720.1h0M292.0 709.9h0M386.2 714.8h0M320.2 787.2h0M297.8 800.4h0M412.2 738.5h0M425.4 775.0h0M301.7 700.2h0M354.8 703.6h0M307.2 783.5h0M389.5 713.6h0M306.1 790.8h0M272.0 699.3h0M246.1 757.6h0M415.4 734.2h0M384.9 723.3h0M401.7 729.6h0" stroke="#000" stroke-opacity="0.55" stroke-width="2.9" stroke-linecap="round" fill="none"/><path d="M409.5 668.7h0M459.3 761.3h0M188.0 688.9h0M348.1 681.4h0M175.3 748.8h0M216.5 767.8h0M448.3 744.3h0M252.3 725.9h0M379.3 700.6h0M413.0 723.1h0M455.4 739.9h0M193.6 782.3h0M226.3 791.2h0M405.3 727.8h0M364.0 708.9h0M186.9 745.9h0M427.1 683.3h0M226.6 713.6h0M424.0 725.4h0M459.7 726.1h0M471.2 683.4h0M205.4 746.6h0M209.0 667.3h0M401.3 743.4h0M233.3 737.0h0M209.2 718.6h0M207.5 781.4h0M257.2 739.0h0M235.8 756.5h0M202.2 718.7h0M211.3 766.6h0M274.9 790.1h0M395.3 760.9h0M402.7 747.3h0M186.6 727.6h0M270.2 721.1h0M456.4 746.7h0M460.2 747.9h0M349.7 779.8h0M250.3 715.8h0M183.9 754.5h0M427.1 691.7h0M452.1 703.8h0M222.3 711.9h0M249.1 743.6h0M248.2 682.1h0M337.2 679.5h0M370.2 716.1h0M387.7 735.2h0M259.4 710.3h0M279.1 693.4h0M377.7 679.4h0M397.0 749.8h0M263.2 782.6h0M238.8 773.9h0M272.2 778.0h0M312.7 635.8h0M295.7 789.1h0M282.4 777.0h0M335.0 789.1h0M315.8 681.4h0M415.5 744.2h0M369.5 767.9h0M245.3 732.3h0M338.4 784.2h0M291.2 692.9h0M235.9 750.2h0M401.7 703.4h0M351.5 703.6h0M339.0 699.9h0M314.7 697.0h0M313.6 696.6h0M412.9 766.2h0M303.7 807.8h0M238.5 723.3h0M403.5 736.8h0M363.9 711.9h0M430.0 741.0h0M250.9 751.7h0M325.1 696.5h0M244.6 778.8h0M292.2 711.8h0M231.6 752.8h0M260.9 732.4h0M396.4 749.2h0M267.9 779.5h0M250.6 778.9h0M325.7 688.0h0M241.4 765.3h0M232.0 759.0h0M318.8 792.9h0M386.3 702.7h0M374.2 704.2h0M352.1 705.3h0M363.4 773.0h0M257.8 777.6h0M238.9 760.7h0M255.7 719.2h0M241.5 760.5h0M316.5 781.4h0M249.7 771.5h0M396.9 716.4h0M300.6 805.4h0M257.0 726.0h0M274.1 798.0h0M248.3 737.5h0M232.9 783.5h0M260.2 707.6h0M411.3 744.8h0M388.5 766.2h0M215.3 772.6h0M216.3 739.3h0M308.6 695.2h0M346.5 781.7h0M224.0 747.4h0M390.2 726.0h0M390.7 728.7h0M343.0 705.1h0M333.0 789.8h0M233.0 773.6h0M360.8 652.8h0M303.1 700.1h0M251.6 726.5h0M240.7 781.8h0M248.3 741.9h0M347.8 792.2h0M232.7 743.4h0M320.7 695.2h0M428.2 753.3h0M380.6 719.7h0M374.1 707.0h0M386.1 737.4h0M421.0 693.0h0M383.6 718.4h0M378.4 773.3h0M265.9 724.3h0M301.5 782.4h0M237.8 784.3h0M359.1 676.9h0M219.8 763.9h0M400.9 757.7h0M309.2 780.3h0M410.8 741.5h0M291.1 788.9h0M311.3 787.5h0M242.4 763.6h0M351.9 696.4h0M283.3 709.2h0M331.5 702.1h0M308.5 699.4h0M391.3 735.1h0M414.3 755.4h0M212.1 780.9h0M336.6 704.8h0M329.6 701.3h0M321.0 789.2h0M325.1 788.9h0M344.3 686.4h0M260.1 731.6h0M349.5 701.1h0M323.9 706.2h0M255.1 721.7h0M396.3 768.2h0M248.5 716.5h0M268.7 719.4h0M322.1 697.6h0M365.0 707.3h0M383.2 722.3h0M269.4 774.0h0M390.6 770.4h0M354.7 691.4h0M433.1 758.0h0M355.2 703.7h0M398.4 736.5h0M319.9 694.4h0M365.3 695.2h0M277.3 719.9h0M250.4 736.3h0M411.1 713.0h0M230.2 716.2h0M372.2 708.5h0M242.3 773.9h0M291.2 707.5h0M393.0 714.1h0M276.6 716.9h0M253.5 721.1h0M266.9 726.6h0M406.3 756.4h0M375.5 780.6h0M372.7 695.3h0M244.0 693.1h0M367.6 678.7h0M348.4 709.8h0M416.9 754.2h0M395.7 679.3h0M364.6 773.1h0M360.5 779.2h0M290.6 783.7h0M394.8 760.0h0M273.9 696.0h0M409.5 775.6h0M434.4 749.7h0M227.6 769.5h0M310.8 793.0h0M214.4 751.7h0M404.0 697.1h0M235.3 727.4h0M326.0 783.3h0M384.0 761.3h0M254.9 705.4h0M253.4 729.8h0M228.1 780.5h0M284.3 693.9h0M380.5 763.5h0M410.9 749.6h0M327.9 690.9h0M388.1 762.2h0M299.7 700.1h0M229.0 754.0h0M355.9 687.3h0M270.9 708.8h0M315.4 780.9h0M256.0 727.0h0M369.9 713.6h0M364.7 709.2h0M220.7 750.4h0M399.4 756.7h0M279.1 790.6h0M383.1 620.1h0M414.0 778.4h0M257.7 782.8h0M395.5 725.9h0M377.0 771.1h0M317.4 671.9h0M318.6 782.4h0M308.0 704.9h0M371.7 715.2h0M240.7 745.8h0M224.3 764.6h0M418.7 722.2h0M370.3 777.2h0M297.9 704.9h0M259.0 785.9h0M244.7 755.4h0M401.9 721.8h0M330.0 783.1h0M410.4 780.7h0M289.4 789.2h0M414.8 725.7h0M233.9 783.2h0M334.6 699.0h0M317.7 779.7h0M362.4 773.0h0M380.9 686.4h0M398.0 751.2h0M311.4 779.6h0M272.6 721.4h0M314.8 789.8h0M246.9 751.2h0M374.2 715.1h0M406.8 740.7h0M274.1 786.0h0M329.4 699.6h0M397.3 719.1h0M291.8 602.5h0M262.6 719.0h0M246.0 725.9h0M285.5 782.4h0M255.3 723.2h0M388.6 737.0h0M259.3 733.9h0M329.2 696.5h0M272.5 702.1h0M302.7 796.5h0M388.7 761.8h0M382.8 705.1h0M245.4 779.2h0M283.9 783.5h0M261.2 725.4h0M277.6 778.8h0M320.4 689.9h0M338.1 707.0h0M312.0 697.5h0M387.5 771.7h0M271.9 783.0h0M237.5 741.8h0M336.2 790.0h0M357.9 687.0h0M303.7 696.9h0M356.2 692.0h0M309.4 781.6h0M262.2 794.1h0M237.2 678.2h0M307.1 784.3h0M225.3 738.9h0M277.4 791.4h0M367.4 713.2h0M379.6 786.8h0M238.2 745.0h0M390.4 753.9h0M323.4 779.0h0M337.4 783.2h0M413.7 721.9h0M381.4 701.6h0M292.7 707.4h0M250.2 719.8h0M390.9 740.4h0M362.7 706.7h0M253.5 772.6h0M413.9 708.9h0M392.6 755.9h0M393.5 752.8h0M269.3 716.2h0M291.5 785.7h0M269.9 789.0h0M293.4 784.5h0M303.1 795.8h0M348.5 701.4h0M239.9 742.5h0M346.9 785.3h0M379.2 713.4h0M270.4 776.3h0M197.6 753.4h0M356.8 789.4h0M434.6 732.1h0M214.3 709.5h0M242.5 765.4h0M312.7 786.4h0M369.2 716.5h0M345.3 699.1h0M361.2 690.4h0M360.0 688.4h0M246.5 643.0h0M378.5 788.2h0M378.8 703.9h0M398.8 778.5h0M351.7 695.6h0M394.7 736.9h0M423.8 742.9h0M436.8 750.6h0M367.3 783.0h0M313.4 694.9h0M408.1 724.4h0M401.9 725.5h0M414.0 730.6h0M235.9 774.6h0M335.8 701.3h0M350.0 678.5h0M276.5 692.0h0M387.1 729.1h0M410.9 752.0h0M385.7 717.9h0M307.0 703.7h0M387.4 771.0h0M290.5 786.0h0M418.2 756.0h0M388.2 770.3h0M382.5 781.9h0M374.2 715.0h0M294.5 706.2h0M353.2 782.8h0M245.0 764.5h0M403.7 716.8h0M230.3 728.5h0M339.5 709.5h0M331.9 793.1h0M211.7 740.0h0M289.1 703.8h0M301.0 695.8h0M233.8 739.3h0M254.2 795.6h0M275.4 699.0h0M253.2 741.3h0M373.2 772.7h0M395.0 779.6h0M317.3 698.3h0M233.3 741.6h0M398.0 748.3h0M388.5 761.5h0M292.8 682.5h0M402.4 756.0h0M311.4 692.2h0M316.1 693.4h0M390.4 771.8h0M327.5 662.7h0M238.9 730.6h0M343.1 703.9h0M264.4 719.1h0M337.8 786.7h0M329.4 678.0h0M350.0 783.8h0M373.0 685.8h0M394.6 750.8h0M344.2 713.4h0M264.8 778.0h0M394.8 710.7h0M208.0 726.0h0M342.1 690.7h0M228.6 740.3h0M351.9 784.5h0M389.4 700.5h0M230.2 764.0h0M365.0 765.1h0M297.0 700.8h0M193.9 748.2h0M283.4 700.9h0M429.6 725.7h0M304.8 699.7h0M261.4 731.5h0M345.7 707.9h0M202.8 769.2h0M268.2 792.8h0M405.8 760.2h0M219.6 756.5h0M265.1 717.5h0M239.1 765.1h0M407.4 722.0h0M269.0 695.7h0M387.5 760.4h0M370.9 709.4h0M388.6 776.0h0M411.2 751.7h0M310.2 702.5h0M377.5 774.9h0M360.0 708.2h0M349.4 703.2h0M277.9 782.3h0M325.9 666.4h0M364.2 774.2h0M253.5 717.4h0M252.7 708.1h0M218.6 752.6h0M399.3 717.8h0M284.3 702.3h0M271.5 709.0h0M422.7 729.3h0M234.6 740.6h0M304.6 697.1h0M325.8 788.5h0M380.8 772.5h0M437.6 742.8h0M368.3 688.0h0M440.0 699.5h0M236.3 780.2h0M267.1 726.7h0M270.8 721.0h0M285.4 698.2h0M256.0 779.4h0M284.4 781.6h0M342.7 691.8h0M416.1 732.5h0M393.8 770.0h0M312.2 779.5h0M267.4 698.9h0M283.5 695.5h0M327.2 687.9h0M366.8 699.4h0M218.5 776.4h0M414.7 762.3h0M271.5 777.7h0M263.3 776.9h0M245.0 744.3h0M393.6 730.5h0M360.6 712.8h0M253.2 742.9h0M250.5 715.7h0M360.2 771.8h0M328.0 672.9h0M385.1 734.5h0M252.5 731.0h0M247.2 645.8h0M394.6 735.8h0M316.0 701.5h0M386.3 703.8h0M395.2 771.2h0M333.3 698.6h0M251.1 721.6h0M440.7 742.3h0M442.9 746.8h0M237.4 753.7h0M363.1 699.6h0M247.0 753.0h0M325.0 786.0h0M345.6 785.9h0M338.3 793.3h0M260.0 786.8h0M301.6 791.7h0M287.1 803.0h0M422.3 757.4h0M364.9 707.8h0M383.9 777.9h0M313.9 694.4h0M312.6 780.3h0M303.2 698.5h0M313.5 684.0h0M245.6 729.1h0M260.5 708.1h0M390.1 735.1h0M339.7 701.5h0M385.1 721.8h0M275.6 703.9h0M248.4 702.8h0M264.8 717.5h0M418.0 736.1h0M246.1 722.7h0M336.8 691.5h0M367.2 711.4h0M328.3 784.3h0M407.3 755.4h0M384.4 736.6h0M376.6 788.1h0M287.3 703.3h0M290.1 800.3h0M268.2 713.6h0M385.0 723.2h0M298.6 794.7h0M398.2 706.1h0M385.7 718.4h0M409.2 749.4h0M263.1 711.9h0M400.0 686.1h0M249.6 775.6h0M344.1 790.2h0M386.0 769.7h0M398.5 759.9h0M268.6 777.4h0M411.8 731.8h0M422.2 676.1h0M290.6 784.7h0M370.5 777.3h0M264.6 731.0h0M254.5 777.5h0M398.2 752.2h0M258.8 692.4h0M385.3 689.6h0M374.2 710.4h0M302.3 686.6h0M356.7 783.5h0M310.1 701.1h0M364.2 789.6h0M306.7 803.5h0M399.1 766.3h0M247.1 781.8h0M409.9 748.0h0M307.7 699.6h0M385.1 719.2h0M238.5 735.2h0M264.0 774.0h0M335.1 706.4h0M317.2 687.4h0M397.1 718.9h0M253.5 736.2h0M248.9 723.5h0M295.9 783.7h0M276.7 780.3h0M359.7 769.9h0M336.0 710.2h0M344.7 711.8h0M324.1 793.6h0M349.6 697.4h0M236.6 784.9h0M350.1 780.2h0M264.5 700.7h0M309.5 781.4h0M377.5 709.7h0M260.6 710.8h0M366.7 715.4h0M395.4 776.8h0M277.4 707.5h0M257.9 707.7h0M386.4 703.5h0M284.3 695.1h0M330.9 786.8h0M245.2 716.3h0M387.8 738.6h0M254.8 714.9h0M237.3 760.6h0M400.8 744.8h0M213.9 785.6h0M292.2 697.9h0M250.6 775.9h0M276.6 781.8h0M224.8 753.1h0M379.7 763.1h0M389.7 758.6h0M318.7 786.0h0M344.3 785.5h0M370.8 707.7h0M386.1 709.9h0M307.4 781.8h0M246.9 777.2h0M233.8 750.0h0M342.7 782.7h0M212.2 757.6h0M422.9 731.9h0M314.3 702.0h0M248.5 770.3h0M348.8 683.4h0M240.4 764.3h0M214.4 721.7h0M373.9 704.2h0M371.3 798.9h0M218.9 772.6h0M399.6 767.1h0M324.1 697.8h0M371.7 783.5h0M231.8 761.5h0M326.6 703.8h0M398.3 747.9h0M322.4 684.8h0M346.0 795.4h0M280.7 716.1h0M241.7 747.6h0M364.0 699.9h0M282.2 694.3h0M278.0 716.7h0M406.7 727.6h0M404.4 706.8h0M282.3 706.1h0M390.2 762.9h0M330.1 678.3h0M361.9 707.3h0M290.2 789.2h0M290.3 690.8h0M263.6 724.1h0M258.3 778.7h0M280.2 779.9h0M315.9 782.6h0M293.2 695.5h0M246.9 756.5h0M247.3 736.5h0M247.9 753.5h0M346.0 782.5h0M277.0 791.2h0M306.3 696.7h0M383.6 770.6h0M297.3 788.1h0M261.7 720.8h0M320.7 705.5h0M295.6 785.2h0M399.0 748.1h0M272.9 777.8h0M415.9 748.7h0M223.5 764.2h0M247.1 771.6h0M238.0 741.8h0M308.2 695.9h0M384.9 696.2h0M411.9 713.9h0M323.9 779.7h0M389.8 728.7h0M331.0 787.2h0M365.4 706.3h0M387.0 686.9h0M310.1 788.7h0M254.4 730.1h0M266.9 716.2h0M387.7 767.4h0M242.7 759.9h0M404.6 751.0h0M343.1 783.4h0M307.7 685.1h0M342.0 705.1h0M292.5 710.3h0M322.5 706.5h0M229.5 784.4h0M207.6 731.4h0M332.8 687.7h0M414.7 709.0h0M402.6 759.8h0M218.6 749.7h0M329.4 697.1h0M395.2 728.6h0M278.1 696.3h0M393.1 723.5h0M402.8 745.7h0M278.1 709.9h0M338.2 791.3h0M256.8 645.6h0M272.2 782.6h0M264.6 723.2h0M278.6 782.6h0M430.4 761.5h0M233.0 722.7h0M322.5 777.6h0M390.5 739.9h0M346.0 684.1h0M294.0 794.6h0M289.3 785.8h0M263.6 715.2h0M313.2 700.2h0M380.2 702.3h0M298.6 699.7h0M219.1 781.7h0M372.9 771.3h0M374.5 780.8h0M333.4 696.1h0M246.8 745.1h0M375.6 772.9h0M216.6 759.7h0M232.8 742.7h0M244.1 710.3h0M391.0 697.2h0M312.4 782.1h0M210.4 782.9h0M398.9 766.6h0M246.0 769.3h0M276.2 702.7h0M285.8 785.9h0M271.3 716.4h0M299.5 686.2h0M420.6 769.6h0M419.7 754.0h0M317.4 666.5h0M253.4 742.9h0M295.7 691.1h0M279.5 695.6h0M229.9 760.9h0M394.1 726.1h0M240.2 741.3h0M261.8 780.9h0M326.4 703.4h0M282.6 777.5h0M317.4 698.9h0M408.8 744.6h0M346.0 693.4h0M387.8 736.6h0M365.5 716.6h0M314.5 802.2h0M255.1 737.8h0M383.4 703.8h0M332.8 700.8h0M252.7 738.0h0M357.6 777.1h0M399.3 784.4h0M238.0 740.0h0M408.5 743.3h0M395.7 729.7h0M233.1 771.1h0M249.5 785.3h0M391.4 741.9h0M219.8 726.6h0M261.8 788.3h0M377.3 713.2h0M238.7 745.6h0M350.6 710.9h0M217.2 774.3h0M414.9 730.5h0M376.5 792.5h0M289.6 709.8h0M234.3 719.9h0M271.3 723.3h0M282.1 783.9h0M394.3 736.8h0M390.1 766.2h0M288.0 699.6h0M265.7 697.7h0M364.1 787.8h0M317.9 677.5h0M337.6 708.8h0M400.0 751.8h0M366.9 696.0h0M380.6 777.7h0M388.3 723.9h0M369.6 694.5h0M395.7 715.2h0M390.5 733.4h0M412.5 736.5h0M408.0 742.8h0M286.4 703.4h0M440.6 702.0h0M384.3 735.0h0M319.6 805.8h0M394.1 758.9h0M406.3 747.0h0M299.3 707.2h0M399.7 732.4h0M236.8 738.7h0M341.2 668.4h0M255.0 779.0h0M262.0 705.1h0M350.5 782.6h0M365.4 712.4h0M285.9 707.8h0M392.6 744.3h0M278.1 702.3h0M318.2 704.8h0M408.9 687.5h0M358.6 712.7h0M236.5 757.7h0M275.9 680.8h0M226.4 771.0h0M332.3 698.4h0M252.3 700.4h0M415.5 712.0h0M388.8 766.2h0M228.6 746.9h0M281.9 665.1h0M366.5 715.8h0M402.4 761.5h0M274.5 692.1h0M279.4 779.4h0M371.5 793.5h0M240.8 734.5h0M232.4 758.2h0M364.6 699.6h0M325.6 784.4h0M392.2 728.2h0M241.0 755.4h0M269.8 695.5h0M406.4 730.7h0M261.5 788.0h0M296.4 785.9h0M250.9 743.4h0M418.2 754.6h0M366.4 706.8h0M331.4 794.0h0M235.2 759.8h0M397.9 712.4h0M204.9 769.2h0M373.3 640.0h0M271.5 722.7h0M286.0 705.1h0M339.0 695.4h0M339.2 785.0h0M255.0 776.1h0M296.9 783.1h0M396.6 771.3h0M405.9 755.7h0M259.5 784.3h0M233.7 768.0h0M254.9 779.5h0M371.5 777.3h0M394.9 686.6h0M391.6 753.6h0M390.3 725.6h0M330.4 685.2h0M317.4 783.7h0M296.1 797.2h0M416.0 725.6h0M275.3 796.6h0M310.6 705.9h0M353.1 675.5h0M400.0 718.3h0M342.5 795.7h0M227.5 752.0h0M377.6 769.5h0M391.7 692.6h0M288.2 782.0h0M228.2 749.8h0M392.2 761.4h0M383.7 682.5h0M266.7 780.3h0M235.6 736.2h0M409.1 730.5h0M241.3 773.9h0M235.3 774.3h0M385.5 710.0h0M224.0 769.3h0M298.9 695.3h0M277.2 705.9h0M343.6 689.9h0M396.7 749.5h0M319.4 782.2h0M386.2 714.9h0M280.4 789.6h0M274.9 799.6h0M321.7 787.9h0M388.4 764.4h0M254.7 728.5h0M237.8 722.8h0M399.5 726.4h0M359.2 697.3h0M335.5 677.0h0M390.7 761.2h0M347.6 793.1h0M346.7 697.8h0M253.1 728.2h0M365.2 654.2h0M265.5 709.9h0M336.0 787.8h0M256.8 780.7h0M300.5 782.7h0M413.5 775.1h0M218.3 746.1h0M319.0 793.3h0M387.6 732.1h0M266.2 717.1h0M332.3 684.7h0M339.5 706.3h0M387.7 738.0h0M235.2 759.7h0M263.4 712.9h0M272.0 721.0h0M283.8 777.6h0M304.3 788.0h0M246.1 732.8h0M345.3 707.8h0M397.2 722.4h0M271.8 791.6h0M367.5 771.2h0M363.4 712.4h0M180.5 760.4h0M407.0 705.0h0M395.5 702.7h0M364.5 713.9h0M419.3 705.8h0M418.4 717.9h0M299.6 695.1h0M381.9 791.2h0M314.7 695.4h0M379.1 704.7h0M382.8 701.1h0M415.3 714.1h0M363.8 769.4h0M285.6 706.6h0M382.9 765.0h0M366.2 712.8h0M404.6 703.4h0M351.8 708.6h0M439.6 717.1h0M235.5 751.5h0M309.5 785.2h0M411.5 704.2h0M388.8 763.3h0M424.3 748.7h0M304.8 796.0h0M404.3 719.0h0M275.1 777.7h0M405.0 760.8h0M264.9 709.0h0M318.9 680.0h0M375.3 695.1h0M387.7 691.6h0M391.7 752.6h0M331.3 688.8h0M306.5 704.4h0M435.3 767.6h0M213.2 749.1h0M260.4 723.4h0M400.9 768.5h0M245.4 746.7h0M266.0 721.7h0M358.4 770.9h0M365.1 776.4h0M428.0 733.6h0M412.2 760.3h0M361.3 699.9h0M249.5 792.7h0M285.2 784.5h0M344.9 678.5h0M287.1 784.7h0M278.1 678.2h0M274.3 722.5h0M384.7 720.4h0M203.5 762.4h0M390.5 713.9h0M340.4 786.7h0M328.1 783.1h0M244.6 719.7h0M260.2 783.6h0M288.8 700.2h0M402.9 722.0h0M372.5 717.6h0M401.0 751.0h0M280.4 781.8h0M250.0 740.2h0M375.7 685.3h0M268.6 697.5h0M277.2 706.8h0M351.9 709.2h0M387.0 786.6h0M384.2 637.1h0M255.3 782.6h0M271.7 716.5h0M247.5 744.6h0M384.4 734.0h0M398.0 749.3h0M403.9 741.0h0M223.2 749.7h0M267.1 793.2h0M232.0 744.6h0M296.3 710.8h0M244.4 749.8h0M280.5 781.1h0M330.2 692.5h0M359.0 706.2h0M390.7 769.0h0M326.5 784.3h0M311.4 789.6h0M323.4 789.0h0M372.0 688.4h0M245.9 778.2h0M234.5 769.5h0M322.6 794.2h0M372.9 688.2h0M409.6 745.3h0M363.8 687.9h0M388.9 700.5h0M408.7 746.8h0M233.2 769.9h0M239.5 711.1h0M321.3 783.9h0M244.3 772.1h0M370.0 791.7h0M322.8 779.2h0M241.8 760.1h0M240.8 768.2h0M305.5 694.3h0M321.0 697.1h0M276.6 778.1h0M386.3 771.3h0M274.1 774.9h0M417.9 746.1h0M382.3 721.2h0M286.3 782.0h0M365.9 708.7h0M392.3 742.2h0M390.3 727.7h0M328.2 787.2h0M337.9 785.6h0M329.2 795.5h0M252.1 734.6h0M263.2 730.2h0M401.6 717.9h0M362.1 777.5h0M313.8 700.2h0M298.9 686.5h0M397.8 707.8h0M427.4 758.1h0M356.4 794.5h0M371.0 709.0h0M320.4 709.5h0M289.2 714.3h0M310.3 688.7h0M232.8 730.3h0M374.1 714.3h0M347.8 700.3h0M274.1 696.4h0M363.3 766.1h0M242.0 756.4h0M384.9 777.0h0M393.4 734.4h0M237.8 798.1h0M279.7 782.3h0M329.1 782.5h0M399.9 749.6h0M267.0 725.8h0M244.1 739.1h0M224.3 707.7h0M407.3 709.8h0M248.5 729.6h0M223.7 761.4h0M391.7 726.5h0M291.4 692.8h0M331.3 795.1h0M311.0 689.2h0M299.6 683.6h0M342.0 707.7h0M359.2 775.2h0M364.0 676.9h0M252.9 687.9h0M294.8 694.2h0M400.5 721.4h0M361.8 781.7h0M267.9 706.1h0M283.7 778.6h0M232.7 757.9h0M384.4 711.2h0M378.6 712.9h0M370.6 771.5h0M232.5 722.7h0M352.7 693.3h0M266.7 715.1h0M215.2 728.9h0M275.0 783.4h0M384.9 698.3h0M343.9 712.5h0M356.0 781.8h0M389.3 720.7h0M343.0 704.7h0M250.1 769.8h0M271.0 709.2h0M268.2 707.2h0M322.1 690.0h0M276.2 706.5h0M304.6 782.4h0M239.0 753.3h0M365.0 697.8h0M340.5 687.9h0M250.2 741.3h0M259.6 789.1h0M411.8 743.2h0M391.2 619.9h0M233.9 731.7h0M318.3 695.1h0M340.2 785.2h0M289.8 785.0h0M367.6 708.9h0M403.9 742.1h0M409.3 764.8h0M230.2 763.6h0M408.5 721.7h0M225.7 772.1h0M245.6 755.4h0M286.9 799.6h0M286.2 697.8h0M409.6 702.4h0M346.7 703.1h0M327.6 699.4h0M408.5 691.3h0M292.5 708.4h0M256.2 736.7h0M413.2 748.2h0M257.2 727.6h0M280.2 717.5h0M386.6 737.3h0M402.2 764.0h0M301.3 787.4h0M406.1 777.1h0M388.7 767.8h0M377.0 697.0h0M394.6 731.3h0M413.3 763.1h0M412.8 729.3h0M308.8 782.2h0M294.3 690.9h0M325.9 806.5h0M370.0 719.3h0M369.8 682.9h0M240.2 748.7h0M243.9 768.0h0M389.5 759.0h0M252.6 660.5h0M332.1 691.4h0M323.7 702.5h0M333.4 787.9h0M247.3 754.9h0M335.9 784.7h0M242.8 725.9h0M383.9 773.8h0M296.0 667.2h0M368.3 766.4h0M387.5 703.8h0M254.7 712.5h0M322.4 696.6h0M397.1 764.7h0M295.5 686.8h0M264.1 724.5h0M324.6 702.2h0M267.1 702.0h0M235.7 765.6h0M268.6 698.7h0M358.1 711.9h0M320.2 699.0h0M234.5 724.8h0M321.7 778.5h0M369.1 783.9h0M307.0 701.3h0M325.8 785.5h0M229.7 758.0h0M336.6 706.0h0M326.7 687.4h0M301.0 688.7h0M283.1 787.0h0M230.9 744.2h0M227.3 762.6h0M345.5 794.9h0M215.7 756.5h0M446.3 747.7h0M344.3 710.6h0M359.1 713.4h0M277.2 710.2h0M379.8 717.8h0M231.4 730.3h0M310.0 804.1h0M360.3 772.4h0M301.4 782.6h0M355.8 806.8h0M242.7 773.6h0M237.9 756.8h0M372.0 779.3h0M369.6 717.3h0M410.8 720.4h0M383.7 716.8h0M277.7 716.8h0M288.9 790.1h0M217.5 756.8h0M274.6 717.1h0M385.9 735.3h0M395.3 690.6h0M374.9 697.1h0M278.8 718.5h0M229.6 778.6h0M277.0 708.9h0M371.6 696.0h0M370.4 773.4h0M406.1 755.8h0M234.1 745.2h0M370.3 694.4h0M428.5 759.5h0M269.3 774.1h0M213.9 746.7h0M291.2 702.9h0M413.3 718.5h0M384.5 714.0h0M318.8 785.4h0M414.2 753.3h0M406.6 693.4h0M328.8 681.4h0M349.3 786.2h0M220.3 766.7h0M280.2 687.2h0M342.0 702.7h0M314.7 705.3h0M387.3 780.3h0M399.4 741.7h0M244.8 742.4h0M251.8 742.0h0M388.5 771.9h0M368.8 769.9h0M241.5 753.0h0M279.4 782.6h0M406.6 738.1h0M228.9 737.6h0M292.0 792.7h0M305.5 691.9h0M382.2 768.9h0M338.3 785.2h0M397.2 758.3h0M279.9 787.2h0M256.8 781.2h0M375.1 781.9h0M340.9 790.0h0M302.6 784.2h0M376.6 776.2h0M349.6 779.3h0M391.1 735.1h0M222.6 770.6h0M419.4 757.5h0M318.6 780.9h0M236.3 752.0h0M307.0 703.0h0M360.0 704.6h0M264.3 729.0h0M233.1 746.9h0M368.2 679.2h0M309.0 700.5h0M390.0 713.0h0M402.1 720.7h0M381.6 711.7h0M426.4 715.7h0M222.3 767.4h0M396.2 761.4h0M364.2 775.4h0M322.1 699.7h0M281.2 716.9h0M245.0 762.8h0M402.5 762.0h0M431.9 744.0h0M399.8 714.2h0M379.3 705.4h0M235.1 776.0h0M241.1 740.3h0M282.2 776.9h0M408.6 755.3h0M253.4 708.0h0M396.2 705.7h0M310.1 689.8h0M381.3 762.1h0M272.2 717.4h0M394.7 715.6h0M334.3 704.3h0M244.8 734.7h0M392.6 711.3h0M388.2 736.8h0M272.9 777.5h0M398.3 713.6h0M307.4 700.8h0M358.3 680.1h0M231.3 765.2h0M377.5 713.5h0M242.8 730.8h0M320.8 780.0h0M379.5 707.9h0M374.1 678.7h0M263.4 711.6h0M375.9 681.8h0M248.1 768.5h0M397.2 751.4h0M408.7 758.0h0M369.4 719.3h0M310.8 784.1h0M295.1 698.4h0M344.2 681.8h0M411.1 693.7h0M376.3 685.2h0M388.8 778.2h0M364.5 709.8h0M252.9 709.3h0M253.2 741.9h0M289.6 704.6h0M288.2 711.4h0M390.1 726.9h0M395.8 765.9h0M409.1 748.0h0M257.6 782.8h0M340.9 781.4h0M414.5 746.2h0M320.6 706.8h0M409.4 731.9h0M399.6 738.0h0M418.0 749.4h0M256.6 782.8h0M230.6 709.0h0M285.0 799.1h0M389.7 780.8h0M370.0 698.4h0M384.5 782.0h0M317.6 782.6h0M390.7 732.5h0M354.2 707.2h0M287.7 798.7h0M422.5 780.4h0M331.9 787.1h0M302.6 699.8h0M246.3 778.3h0M448.9 715.3h0M346.9 713.5h0M293.5 710.1h0M280.5 716.1h0M385.0 706.9h0M326.7 690.7h0M327.1 785.6h0M384.0 772.6h0M198.3 739.3h0M315.8 689.1h0M360.5 772.7h0M369.6 708.7h0M231.8 743.3h0M321.4 783.6h0M316.3 780.5h0M223.4 733.7h0M434.0 741.5h0M381.0 775.8h0M359.6 796.3h0M250.1 786.0h0M247.7 734.4h0M259.3 720.6h0M361.4 681.8h0M247.4 772.7h0M339.8 708.3h0M266.7 727.3h0M417.5 717.2h0M292.0 787.2h0M406.0 739.7h0M267.7 696.0h0M293.7 700.3h0M403.3 763.7h0M391.3 753.7h0M363.8 789.5h0M306.7 706.9h0M236.7 767.9h0M407.4 743.4h0M378.0 680.7h0M354.5 787.2h0M292.8 708.3h0M250.2 711.3h0M261.9 776.1h0M392.4 759.6h0M237.3 748.5h0M352.9 615.7h0M366.7 785.4h0M382.1 770.7h0M249.9 754.9h0M247.8 756.2h0M369.5 706.0h0M269.4 774.2h0M306.0 706.5h0M389.0 686.6h0M384.6 736.3h0M259.8 700.6h0M363.6 767.0h0M359.9 790.2h0M284.5 713.3h0M377.6 765.3h0M260.2 734.0h0M418.5 732.6h0M323.9 780.7h0M327.7 699.3h0M267.4 780.5h0M325.7 702.9h0M313.3 689.5h0M248.2 731.2h0M223.0 746.8h0M417.9 780.7h0M268.3 791.8h0M348.1 685.3h0M270.6 789.0h0M251.4 688.8h0M262.8 777.5h0M403.0 764.4h0M397.4 770.4h0M371.6 707.4h0M398.3 720.8h0M258.6 782.2h0M210.8 770.5h0M420.4 737.6h0M241.5 758.2h0M401.6 735.6h0M411.6 718.1h0M237.6 730.1h0M388.6 760.9h0M243.2 730.2h0M395.4 761.3h0M243.7 741.8h0M241.2 749.9h0M375.4 769.3h0M395.3 680.2h0M315.7 780.7h0M325.0 690.3h0M392.9 711.2h0M228.0 739.7h0M345.6 699.7h0M309.0 786.0h0M325.9 779.6h0M356.7 780.8h0M406.9 787.8h0M314.4 692.6h0M414.2 765.1h0M351.3 693.4h0M276.0 779.9h0M339.5 665.4h0M361.1 768.9h0M352.9 785.1h0M231.2 750.8h0M402.1 764.5h0M315.3 705.5h0M335.3 787.7h0M399.6 752.4h0M233.1 693.9h0M398.9 738.1h0M303.0 703.0h0M234.8 744.9h0M388.6 719.7h0M261.7 718.3h0M360.0 712.8h0M288.7 700.7h0M290.9 676.0h0M390.0 771.9h0M262.2 723.3h0M265.8 779.0h0M318.1 690.5h0M420.9 774.2h0M248.4 772.9h0M247.8 717.6h0M272.2 784.2h0M327.0 697.1h0M352.2 706.0h0M273.1 724.1h0M287.3 780.1h0M301.0 786.5h0M257.4 723.0h0M361.2 711.6h0M418.1 727.4h0M317.1 780.9h0M377.7 710.6h0M316.7 789.4h0M405.2 751.3h0M341.6 696.3h0M398.5 749.8h0M280.7 792.8h0M273.5 665.0h0M250.5 715.5h0M259.3 715.1h0M387.3 761.7h0M434.1 732.0h0M260.3 730.4h0M432.0 771.5h0M226.0 769.4h0M246.8 726.2h0M287.0 712.7h0M370.6 777.0h0M397.0 689.2h0M376.5 709.7h0M397.5 731.8h0M361.8 693.9h0M402.2 747.3h0M395.8 715.6h0M240.6 726.2h0M396.3 708.6h0M419.7 738.2h0M227.6 740.8h0M245.0 703.3h0M258.8 719.7h0M247.2 719.8h0M302.4 692.2h0M310.6 782.2h0M252.5 790.4h0M258.2 732.3h0M298.0 688.8h0M301.7 784.5h0M313.6 785.5h0M328.7 693.2h0M324.1 703.7h0M390.7 726.7h0M307.6 800.4h0M385.5 762.0h0M306.6 788.5h0M256.2 713.8h0M388.9 740.7h0M356.8 684.6h0M265.3 729.3h0M396.4 763.7h0M241.6 773.6h0M382.4 774.2h0M382.1 716.3h0M275.8 793.0h0M264.8 723.1h0M385.0 783.8h0M232.7 736.4h0M379.8 772.6h0M227.2 720.4h0M306.1 672.8h0M329.4 690.7h0M392.1 709.2h0M415.5 722.4h0M396.8 719.3h0M286.8 694.6h0M359.2 704.2h0M325.3 691.3h0M201.4 758.1h0M397.5 696.1h0M275.2 717.9h0M336.5 788.4h0M423.3 732.1h0M401.3 742.8h0M310.3 701.5h0M385.4 720.2h0M204.6 779.6h0M302.1 702.3h0M392.7 740.2h0M377.7 702.1h0M363.1 681.4h0M242.2 767.1h0M400.3 754.2h0M405.8 743.5h0M401.2 730.1h0M368.5 709.4h0M342.2 708.4h0M252.8 775.1h0M430.7 750.1h0M317.5 801.9h0M303.4 703.0h0M393.7 756.1h0M221.5 762.4h0M347.6 701.8h0M266.3 693.8h0M361.2 770.4h0M399.1 782.9h0M308.3 702.4h0M409.4 732.8h0M259.8 720.5h0M266.3 728.4h0M415.9 740.2h0M333.2 790.6h0M347.0 784.0h0M319.2 799.2h0M231.7 726.7h0M263.7 717.0h0M368.3 707.6h0M277.6 780.8h0M395.6 751.8h0M340.9 785.7h0M234.4 758.2h0M251.2 778.3h0M257.5 782.6h0M250.4 774.8h0M281.3 783.9h0M214.4 756.6h0M400.3 730.5h0M374.9 710.2h0M347.5 698.8h0M365.1 699.9h0M386.6 709.6h0M245.6 771.9h0M239.4 738.5h0M400.7 757.5h0M366.4 689.8h0M294.8 695.9h0M330.0 696.3h0M375.0 709.7h0M290.2 711.9h0M292.6 788.7h0M300.3 699.6h0M328.3 703.3h0M286.2 783.5h0M250.6 735.3h0M408.1 754.5h0M272.1 778.6h0M247.1 753.6h0M224.7 762.0h0M256.9 718.0h0M391.6 723.8h0M220.6 772.3h0M372.3 768.1h0M240.2 738.1h0M404.8 757.4h0M354.5 702.8h0M331.7 782.3h0M403.8 730.3h0M277.0 712.1h0M285.0 781.3h0M320.0 694.5h0M400.5 724.0h0M351.2 622.2h0M271.3 706.6h0M295.4 710.9h0M265.9 780.0h0M308.8 782.7h0M236.5 749.3h0M236.4 767.7h0M396.2 728.7h0M250.9 722.3h0M239.0 772.8h0M350.8 704.1h0M398.2 720.8h0M363.5 710.6h0M419.4 736.0h0M302.4 688.9h0M313.2 700.1h0M267.2 780.4h0M396.4 741.0h0M233.9 756.0h0M242.3 775.6h0M424.5 772.1h0M413.6 742.9h0M401.1 735.2h0M389.9 728.0h0M368.6 703.4h0M250.4 717.2h0M212.5 754.0h0M406.2 728.6h0M277.7 786.0h0M248.1 716.2h0M363.0 710.4h0M390.8 737.5h0M286.3 779.5h0M266.0 708.7h0M380.3 708.1h0M329.1 791.1h0M400.4 751.7h0M350.5 708.2h0M273.3 716.6h0M281.4 711.6h0M341.9 703.6h0M246.0 787.4h0M234.5 723.7h0M248.4 700.9h0M224.3 786.3h0M225.6 796.1h0M234.8 710.2h0M347.3 705.8h0M420.7 696.3h0M414.2 739.3h0M268.8 776.5h0M241.8 726.6h0M444.2 748.9h0M299.2 787.8h0M243.9 786.7h0M341.3 705.7h0M333.9 691.9h0M284.5 700.3h0M344.6 704.8h0M273.6 782.1h0M233.9 774.8h0M363.7 776.4h0M226.7 756.2h0M232.7 696.2h0M317.8 700.8h0M227.3 761.2h0M248.9 733.2h0M269.6 692.3h0M366.0 712.9h0M387.4 738.4h0M343.3 785.8h0M406.1 742.6h0M387.6 727.5h0M334.7 786.6h0M387.4 705.7h0M229.1 735.1h0M410.5 748.8h0M258.7 728.5h0M310.8 704.4h0M237.7 730.8h0M388.9 773.6h0M358.8 699.6h0M417.8 751.2h0M316.9 685.2h0M282.1 703.3h0M339.9 707.2h0M388.7 724.9h0M371.7 714.3h0M314.1 788.7h0M391.0 758.7h0M353.0 688.7h0M386.5 712.5h0M400.2 723.7h0M360.6 772.8h0M233.5 758.5h0M244.7 756.6h0M332.8 629.4h0M330.2 793.0h0M280.9 786.9h0M346.4 698.4h0M399.2 729.3h0M398.7 738.8h0M216.9 719.9h0M357.2 632.6h0M366.6 623.9h0M270.0 696.6h0M320.9 709.9h0M389.4 772.2h0M228.1 702.9h0M295.4 699.3h0M283.5 779.6h0M413.1 750.6h0M239.1 718.9h0M323.3 648.8h0M226.2 764.4h0M240.1 727.2h0M294.3 707.5h0M363.8 769.3h0M345.2 708.4h0M280.8 778.3h0M352.3 697.9h0M261.9 733.4h0M388.9 710.4h0M321.3 780.8h0M379.5 672.9h0M348.6 712.0h0M380.9 778.2h0M239.0 766.6h0M261.6 704.6h0M256.6 711.9h0M379.9 690.1h0M248.2 720.2h0M256.4 786.8h0M398.2 768.2h0M324.5 698.0h0M362.7 778.5h0M421.5 707.0h0M266.0 715.6h0M218.8 764.7h0M331.9 702.9h0M286.5 792.3h0M249.0 741.2h0M393.2 773.7h0M366.6 700.3h0M235.6 726.4h0M335.0 701.7h0M356.7 688.1h0M254.8 737.8h0M443.1 749.3h0M417.9 754.3h0M251.6 705.2h0M229.2 762.8h0M274.2 776.3h0M213.1 758.9h0M386.3 764.7h0M332.2 695.6h0M420.9 708.2h0M407.3 738.5h0M394.3 724.1h0M230.8 771.5h0M351.8 682.4h0M369.1 771.9h0M314.2 682.5h0M380.5 770.3h0M303.3 698.0h0M376.0 713.9h0M390.3 754.9h0M365.8 777.8h0M413.5 742.0h0M409.4 721.7h0M345.6 711.6h0M350.3 704.3h0M392.0 742.6h0M430.9 753.2h0M321.0 683.6h0M242.5 744.7h0M243.9 744.4h0M250.4 734.8h0M400.5 701.4h0M279.6 698.7h0M281.6 706.1h0M393.4 760.2h0M369.9 768.5h0M249.5 674.8h0M395.4 709.0h0M366.4 697.3h0M387.7 709.0h0M387.0 671.6h0M389.0 757.6h0M268.3 776.7h0M329.8 676.2h0M370.9 774.6h0M216.0 753.0h0M398.4 738.0h0M362.8 767.9h0M417.3 732.3h0M430.7 731.1h0M411.5 761.1h0M347.7 788.2h0M404.9 746.4h0M402.3 741.8h0M360.1 782.7h0M293.0 795.8h0M334.7 694.8h0M239.4 765.0h0M406.3 728.0h0M337.8 692.2h0M369.7 719.9h0M350.0 686.0h0M315.4 684.9h0M402.3 764.6h0M375.9 714.3h0M322.2 706.0h0M309.9 791.1h0M275.1 775.0h0M358.4 771.1h0M367.3 778.1h0M312.1 790.3h0M390.9 768.4h0M283.9 783.8h0M259.5 780.1h0M346.5 706.4h0M332.8 681.1h0M418.3 745.5h0M369.0 711.1h0M381.2 705.0h0M275.8 776.1h0M307.3 791.8h0M353.3 707.5h0M318.6 689.3h0M252.3 774.6h0M239.5 765.6h0M263.7 708.1h0M300.3 679.7h0M297.1 708.4h0M273.5 781.5h0M253.9 797.8h0M404.8 704.8h0M271.6 708.7h0M307.5 785.7h0M259.3 729.0h0M296.6 706.0h0M345.9 710.0h0M242.0 782.0h0M236.9 727.0h0M278.5 716.4h0M374.2 714.4h0M334.3 792.1h0M293.1 711.3h0M386.3 775.3h0M245.3 756.4h0M422.7 697.5h0M383.6 718.6h0M214.3 772.3h0M291.7 783.4h0M250.8 707.4h0M366.4 767.7h0M226.6 750.9h0M247.5 768.1h0M402.4 763.1h0M287.4 787.0h0M340.1 694.4h0M395.7 751.6h0M239.0 735.6h0M367.3 706.7h0M237.2 786.7h0M335.9 697.4h0M359.4 770.7h0M328.0 782.2h0M412.2 700.1h0M278.4 691.1h0M311.3 704.2h0M386.6 711.0h0M364.8 775.7h0M279.9 718.7h0M385.7 760.4h0M267.4 781.0h0M346.8 710.0h0M331.4 783.4h0M224.6 769.0h0M373.0 709.4h0M252.9 738.6h0M345.7 700.9h0M375.3 715.8h0M293.4 706.9h0M275.4 783.6h0M323.3 703.9h0M380.0 766.4h0M390.7 733.4h0M231.5 752.8h0M365.0 711.8h0M340.2 699.8h0M335.8 787.9h0M226.7 775.3h0M385.4 762.3h0M329.2 691.8h0M324.7 700.1h0M263.7 721.0h0M407.4 757.9h0M303.8 695.9h0M433.8 730.0h0M247.0 755.3h0M234.8 782.5h0M246.9 756.7h0M379.5 768.7h0M356.3 709.6h0M244.5 755.9h0M396.9 719.1h0M407.1 742.9h0M361.1 779.4h0M364.5 696.7h0M275.7 682.5h0M272.1 780.7h0M381.9 689.7h0M340.5 688.1h0M363.4 791.3h0M361.8 774.2h0M230.6 747.9h0M331.0 698.9h0M420.1 778.6h0M380.3 713.9h0M269.7 693.6h0M279.7 714.3h0M329.3 794.2h0M386.6 764.8h0M290.7 789.6h0M268.3 726.9h0M254.2 776.3h0M318.5 704.8h0M381.8 772.6h0M217.4 770.6h0M403.9 754.7h0M309.2 780.3h0M265.8 718.0h0M226.7 713.3h0M245.1 710.2h0M397.5 698.4h0M362.7 774.9h0M397.3 721.4h0M291.5 696.1h0M289.9 690.7h0M351.2 691.8h0M222.8 749.7h0M359.1 773.7h0M354.8 779.1h0M382.0 695.3h0M251.6 772.0h0M317.8 699.8h0M254.2 735.6h0M317.1 683.3h0M336.8 794.8h0M366.1 780.7h0M277.4 705.9h0M291.6 688.6h0M375.9 672.0h0M328.7 696.4h0M300.2 791.3h0M372.4 703.5h0M424.5 750.8h0M398.2 698.5h0M360.2 778.2h0M442.8 723.5h0" stroke="#000" stroke-opacity="0.55" stroke-width="2.9" stroke-linecap="round" fill="none"/>
 </g>
 <line x1="166.3" y1="761.8" x2="475.9" y2="717.0" stroke="#4a5ff0" stroke-width="2"/>
 <circle cx="288.3" cy="745.2" r="4.2" fill="#e8823a"/>
 <rect x="152" y="560" width="340" height="265.5" fill="none" stroke="#666" stroke-width="1"/>
 <g stroke="#555" stroke-width="0.8">
  <line x1="230.4" y1="825.5" x2="230.4" y2="828"/><line x1="311.8" y1="825.5" x2="311.8" y2="828"/><line x1="393.2" y1="825.5" x2="393.2" y2="828"/><line x1="474.6" y1="825.5" x2="474.6" y2="828"/>
  <line x1="149.5" y1="817.7" x2="152" y2="817.7"/><line x1="149.5" y1="723.6" x2="152" y2="723.6"/><line x1="149.5" y1="629.5" x2="152" y2="629.5"/>
 </g>
 <g font-size="6.3" fill="#777" text-anchor="end">
  <text x="148.5" y="819.9">0.5</text><text x="148.5" y="725.8">1.0</text><text x="148.5" y="631.7">1.5</text>
 </g>
 <g font-size="6.3" fill="#777" text-anchor="middle">
  <text x="230.4" y="835.5">25</text><text x="311.8" y="835.5">50</text><text x="393.2" y="835.5">75</text><text x="474.6" y="835.5">100</text>
 </g>
 <text x="284.6" y="846.2" font-size="8" font-weight="bold" fill="#2a2a2a" textLength="74" lengthAdjust="spacingAndGlyphs">Chronological Age</text>
 <text transform="translate(135.4 720) rotate(-90)" font-size="7.4" font-weight="bold" fill="#2a2a2a" textLength="56" lengthAdjust="spacingAndGlyphs">DunedinPACE</text>
</g>


<g>
 <line x1="732.5" y1="560" x2="732.5" y2="827.3" stroke="#606060" stroke-width="1.1"/>
 <line x1="731.9" y1="826.8" x2="1071.5" y2="826.8" stroke="#606060" stroke-width="1.1"/>
 <g stroke="#555" stroke-width="0.8">
  <line x1="730" y1="572.5" x2="732" y2="572.5"/>
  <line x1="730" y1="661" x2="732" y2="661"/>
  <line x1="730" y1="750" x2="732" y2="750"/>
  <line x1="901.8" y1="827" x2="901.8" y2="829.5"/>
 </g>
 <g font-size="6.3" fill="#777" text-anchor="end">
  <text x="729" y="574.6">1.6</text>
  <text x="729" y="663.1">1.2</text>
  <text x="729" y="752.1">0.8</text>
 </g>
 <text x="889.5" y="837.2" font-size="7" fill="#777" textLength="22" lengthAdjust="spacingAndGlyphs">May 07</text>
 <text x="870.8" y="847.3" font-size="8" font-weight="bold" fill="#2a2a2a" textLength="60" lengthAdjust="spacingAndGlyphs">Collection Date</text>
 <text transform="translate(715.5 721.5) rotate(-90)" font-size="7.4" font-weight="bold" fill="#2a2a2a" textLength="57" lengthAdjust="spacingAndGlyphs">DunedinPACE</text>
 <line x1="901.5" y1="730.3" x2="899" y2="736.5" stroke="#777" stroke-width="0.8"/>
 <rect x="873.6" y="735.9" width="25.8" height="13.3" rx="2.2" fill="#fff" stroke="#555" stroke-width="1"/>
 <text x="876" y="745.4" font-size="7.8" font-weight="bold" fill="#222" textLength="19.6" lengthAdjust="spacingAndGlyphs">0.885</text>
 <circle cx="901.5" cy="730.3" r="3.1" fill="#c9774d"/>
</g>

</svg>
<div class="bar"></div>
</body></html>
